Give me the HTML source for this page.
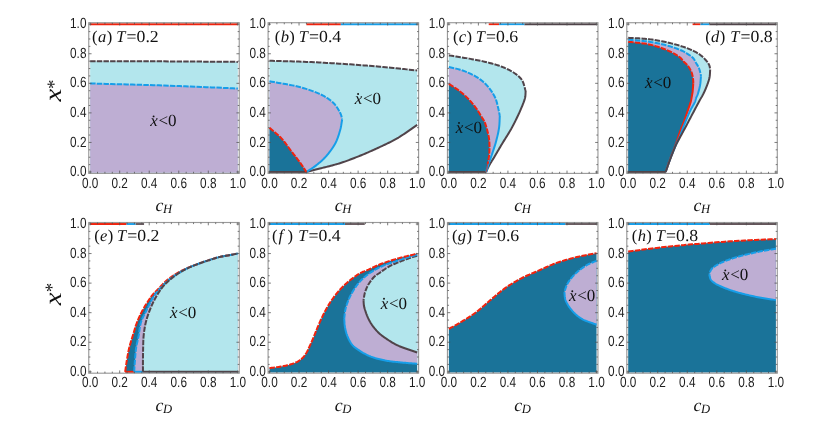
<!DOCTYPE html>
<html><head><meta charset="utf-8"><title>figure</title>
<style>
html,body{margin:0;padding:0;background:#fff;}
svg{display:block;}
g.tx{opacity:0.999;}
.tk{font-family:"Liberation Sans",sans-serif;font-size:14.7px;fill:#1e1e1e;}
.se{font-family:"Liberation Serif",serif;fill:#111;}
text{text-rendering:geometricPrecision;}
.it{font-style:italic;}
</style></head><body>
<svg width="830" height="431" viewBox="0 0 830 431">
<rect x="0" y="0" width="830" height="431" fill="#ffffff"/>
<g>
<path d="M90.15 61.22 L95.43 61.23 L100.70 61.24 L105.98 61.25 L111.25 61.26 L116.53 61.26 L121.80 61.27 L127.08 61.27 L132.35 61.28 L137.63 61.29 L142.90 61.30 L148.18 61.32 L153.45 61.33 L158.73 61.35 L164.00 61.37 L169.28 61.40 L174.55 61.43 L179.83 61.46 L185.10 61.49 L190.38 61.53 L195.65 61.57 L200.93 61.61 L206.20 61.65 L211.48 61.69 L216.75 61.73 L222.03 61.77 L227.30 61.81 L232.58 61.85 L237.85 61.89 L237.85 172.80 L90.15 172.80 Z" fill="#b3e6ed" stroke="none"/>
<path d="M90.15 83.47 L95.43 83.61 L100.70 83.76 L105.98 83.90 L111.25 84.03 L116.53 84.17 L121.80 84.31 L127.08 84.45 L132.35 84.59 L137.63 84.73 L142.90 84.88 L148.18 85.03 L153.45 85.19 L158.73 85.36 L164.00 85.54 L169.28 85.72 L174.55 85.91 L179.83 86.11 L185.10 86.32 L190.38 86.53 L195.65 86.74 L200.93 86.96 L206.20 87.18 L211.48 87.40 L216.75 87.62 L222.03 87.84 L227.30 88.06 L232.58 88.28 L237.85 88.49 L237.85 172.80 L90.15 172.80 Z" fill="#beaed3" stroke="none"/>
<path d="M90.15 61.22 L95.43 61.23 L100.70 61.24 L105.98 61.25 L111.25 61.26 L116.53 61.26 L121.80 61.27 L127.08 61.27 L132.35 61.28 L137.63 61.29 L142.90 61.30 L148.18 61.32 L153.45 61.33 L158.73 61.35 L164.00 61.37 L169.28 61.40 L174.55 61.43 L179.83 61.46 L185.10 61.49 L190.38 61.53 L195.65 61.57 L200.93 61.61 L206.20 61.65 L211.48 61.69 L216.75 61.73 L222.03 61.77 L227.30 61.81 L232.58 61.85 L237.85 61.89" fill="none" stroke="#50444a" stroke-width="2.00" stroke-dasharray="5.45 1.2" stroke-linejoin="round"/>
<path d="M90.15 83.47 L95.43 83.61 L100.70 83.76 L105.98 83.90 L111.25 84.03 L116.53 84.17 L121.80 84.31 L127.08 84.45 L132.35 84.59 L137.63 84.73 L142.90 84.88 L148.18 85.03 L153.45 85.19 L158.73 85.36 L164.00 85.54 L169.28 85.72 L174.55 85.91 L179.83 86.11 L185.10 86.32 L190.38 86.53 L195.65 86.74 L200.93 86.96 L206.20 87.18 L211.48 87.40 L216.75 87.62 L222.03 87.84 L227.30 88.06 L232.58 88.28 L237.85 88.49" fill="none" stroke="#169ee9" stroke-width="2.00" stroke-dasharray="5.45 1.2" stroke-linejoin="round"/>
<path d="M90.15 24.20 L237.85 24.20" fill="none" stroke="#f1230d" stroke-width="1.90" stroke-linejoin="round"/>
<rect x="88.75" y="22.70" width="150.50" height="150.70" fill="none" stroke="#9a9a9a" stroke-width="1.15"/>
<path d="M90.15 173.40 v-2.80 M90.15 22.70 v2.80 M88.75 172.00 h2.80 M239.25 172.00 h-2.80 M97.54 173.40 v-1.60 M97.54 22.70 v1.60 M88.75 164.61 h1.60 M239.25 164.61 h-1.60 M104.92 173.40 v-1.60 M104.92 22.70 v1.60 M88.75 157.22 h1.60 M239.25 157.22 h-1.60 M112.31 173.40 v-1.60 M112.31 22.70 v1.60 M88.75 149.83 h1.60 M239.25 149.83 h-1.60 M119.69 173.40 v-2.80 M119.69 22.70 v2.80 M88.75 142.44 h2.80 M239.25 142.44 h-2.80 M127.08 173.40 v-1.60 M127.08 22.70 v1.60 M88.75 135.05 h1.60 M239.25 135.05 h-1.60 M134.46 173.40 v-1.60 M134.46 22.70 v1.60 M88.75 127.66 h1.60 M239.25 127.66 h-1.60 M141.84 173.40 v-1.60 M141.84 22.70 v1.60 M88.75 120.27 h1.60 M239.25 120.27 h-1.60 M149.23 173.40 v-2.80 M149.23 22.70 v2.80 M88.75 112.88 h2.80 M239.25 112.88 h-2.80 M156.62 173.40 v-1.60 M156.62 22.70 v1.60 M88.75 105.49 h1.60 M239.25 105.49 h-1.60 M164.00 173.40 v-1.60 M164.00 22.70 v1.60 M88.75 98.10 h1.60 M239.25 98.10 h-1.60 M171.38 173.40 v-1.60 M171.38 22.70 v1.60 M88.75 90.71 h1.60 M239.25 90.71 h-1.60 M178.77 173.40 v-2.80 M178.77 22.70 v2.80 M88.75 83.32 h2.80 M239.25 83.32 h-2.80 M186.16 173.40 v-1.60 M186.16 22.70 v1.60 M88.75 75.93 h1.60 M239.25 75.93 h-1.60 M193.54 173.40 v-1.60 M193.54 22.70 v1.60 M88.75 68.54 h1.60 M239.25 68.54 h-1.60 M200.93 173.40 v-1.60 M200.93 22.70 v1.60 M88.75 61.15 h1.60 M239.25 61.15 h-1.60 M208.31 173.40 v-2.80 M208.31 22.70 v2.80 M88.75 53.76 h2.80 M239.25 53.76 h-2.80 M215.69 173.40 v-1.60 M215.69 22.70 v1.60 M88.75 46.37 h1.60 M239.25 46.37 h-1.60 M223.08 173.40 v-1.60 M223.08 22.70 v1.60 M88.75 38.98 h1.60 M239.25 38.98 h-1.60 M230.46 173.40 v-1.60 M230.46 22.70 v1.60 M88.75 31.59 h1.60 M239.25 31.59 h-1.60 M237.85 173.40 v-2.80 M237.85 22.70 v2.80 M88.75 24.20 h2.80 M239.25 24.20 h-2.80" stroke="#505050" stroke-width="0.75" fill="none"/>
</g>
<g>
<path d="M269.50 60.78 L272.14 60.86 L274.78 60.93 L277.43 61.00 L280.07 61.07 L282.72 61.14 L285.37 61.21 L288.01 61.28 L290.65 61.35 L293.29 61.43 L295.93 61.51 L298.56 61.59 L301.19 61.69 L303.81 61.78 L306.43 61.89 L308.98 62.00 L311.52 62.11 L314.04 62.23 L316.57 62.35 L319.08 62.48 L321.60 62.61 L324.11 62.74 L326.62 62.88 L329.14 63.02 L331.67 63.17 L334.20 63.32 L336.74 63.48 L339.30 63.64 L341.87 63.81 L344.57 63.99 L347.29 64.17 L350.02 64.36 L352.76 64.56 L355.51 64.76 L358.27 64.97 L361.03 65.18 L363.79 65.39 L366.56 65.61 L369.32 65.83 L372.07 66.06 L374.82 66.29 L377.55 66.53 L380.27 66.77 L382.94 67.01 L385.59 67.25 L388.24 67.51 L390.88 67.76 L393.52 68.03 L396.15 68.29 L398.79 68.56 L401.42 68.84 L404.04 69.11 L406.67 69.38 L409.30 69.66 L411.93 69.93 L414.56 70.20 L417.20 70.46 L417.20 124.85 L415.77 125.83 L414.33 126.81 L412.90 127.81 L411.47 128.82 L410.04 129.82 L408.61 130.83 L407.18 131.83 L405.75 132.82 L404.32 133.80 L402.88 134.76 L401.44 135.71 L400.00 136.62 L398.56 137.52 L397.11 138.38 L395.74 139.16 L394.37 139.92 L392.99 140.66 L391.62 141.38 L390.24 142.08 L388.85 142.77 L387.47 143.44 L386.09 144.11 L384.70 144.76 L383.31 145.41 L381.93 146.05 L380.54 146.70 L379.15 147.34 L377.76 147.98 L376.40 148.62 L375.03 149.24 L373.67 149.87 L372.30 150.48 L370.93 151.10 L369.56 151.70 L368.19 152.30 L366.82 152.90 L365.45 153.48 L364.08 154.07 L362.70 154.64 L361.32 155.21 L359.94 155.78 L358.56 156.33 L357.19 156.88 L355.82 157.43 L354.44 157.97 L353.07 158.50 L351.69 159.03 L350.31 159.56 L348.93 160.08 L347.54 160.58 L346.16 161.09 L344.77 161.58 L343.39 162.06 L342.00 162.53 L340.61 162.98 L339.21 163.43 L337.83 163.85 L336.43 164.26 L335.02 164.66 L333.60 165.05 L332.18 165.43 L330.76 165.80 L329.34 166.16 L327.93 166.51 L326.53 166.86 L325.15 167.20 L323.79 167.53 L322.45 167.87 L321.14 168.20 L319.87 168.53 L318.83 168.80 L317.82 169.06 L316.82 169.32 L315.85 169.57 L314.89 169.82 L313.94 170.06 L312.99 170.31 L312.06 170.55 L311.13 170.79 L310.19 171.03 L309.26 171.27 L308.32 171.51 L307.38 171.75 L306.43 172.80 L269.50 172.80 Z" fill="#b3e6ed" stroke="none"/>
<path d="M269.50 81.25 L271.74 81.68 L274.02 82.09 L276.32 82.50 L278.63 82.90 L280.95 83.31 L283.27 83.71 L285.57 84.11 L287.86 84.53 L290.11 84.95 L292.33 85.39 L294.51 85.84 L296.63 86.31 L298.68 86.80 L300.66 87.31 L302.22 87.74 L303.78 88.19 L305.31 88.66 L306.83 89.14 L308.33 89.62 L309.80 90.12 L311.23 90.62 L312.63 91.13 L313.99 91.63 L315.30 92.14 L316.57 92.64 L317.78 93.14 L318.93 93.63 L320.01 94.11 L320.69 94.42 L321.33 94.72 L321.95 95.02 L322.54 95.32 L323.11 95.62 L323.66 95.92 L324.19 96.21 L324.71 96.51 L325.22 96.81 L325.72 97.12 L326.21 97.43 L326.71 97.74 L327.20 98.07 L327.69 98.40 L328.15 98.70 L328.60 99.02 L329.05 99.34 L329.49 99.66 L329.93 99.99 L330.37 100.32 L330.79 100.65 L331.21 100.99 L331.61 101.32 L332.01 101.66 L332.39 101.99 L332.76 102.32 L333.12 102.65 L333.45 102.98 L333.71 103.23 L333.95 103.47 L334.18 103.71 L334.40 103.95 L334.61 104.18 L334.81 104.41 L335.01 104.65 L335.20 104.89 L335.40 105.13 L335.59 105.39 L335.79 105.65 L335.99 105.93 L336.19 106.22 L336.41 106.52 L336.72 106.98 L337.05 107.48 L337.39 108.00 L337.74 108.55 L338.09 109.13 L338.44 109.71 L338.79 110.31 L339.14 110.91 L339.47 111.52 L339.79 112.11 L340.09 112.70 L340.36 113.28 L340.62 113.83 L340.84 114.36 L340.99 114.75 L341.12 115.14 L341.24 115.52 L341.35 115.89 L341.45 116.26 L341.54 116.63 L341.62 116.99 L341.69 117.35 L341.77 117.71 L341.84 118.07 L341.92 118.44 L341.99 118.80 L342.08 119.16 L342.17 119.53 L342.17 119.53 L342.04 120.26 L341.91 120.98 L341.79 121.70 L341.68 122.41 L341.57 123.13 L341.45 123.84 L341.34 124.56 L341.21 125.28 L341.09 126.00 L340.95 126.73 L340.80 127.47 L340.63 128.21 L340.45 128.97 L340.25 129.73 L340.00 130.64 L339.73 131.57 L339.46 132.52 L339.18 133.48 L338.88 134.45 L338.56 135.43 L338.23 136.41 L337.89 137.39 L337.52 138.38 L337.13 139.36 L336.73 140.33 L336.30 141.29 L335.85 142.24 L335.37 143.18 L334.83 144.18 L334.25 145.19 L333.64 146.20 L333.00 147.21 L332.33 148.22 L331.64 149.22 L330.94 150.21 L330.22 151.19 L329.48 152.15 L328.74 153.10 L328.00 154.02 L327.25 154.92 L326.51 155.79 L325.77 156.63 L325.12 157.35 L324.46 158.05 L323.80 158.73 L323.12 159.39 L322.45 160.04 L321.76 160.67 L321.08 161.29 L320.39 161.89 L319.69 162.49 L318.99 163.08 L318.29 163.65 L317.59 164.22 L316.88 164.79 L316.17 165.35 L315.49 165.87 L314.81 166.38 L314.12 166.88 L313.43 167.37 L312.73 167.84 L312.04 168.31 L311.34 168.78 L310.63 169.24 L309.93 169.69 L309.23 170.15 L308.52 170.60 L307.82 171.06 L307.12 171.53 L306.43 172.80 L269.50 172.80 Z" fill="#beaed3" stroke="none"/>
<path d="M269.50 127.66 L270.36 128.42 L271.23 129.17 L272.10 129.92 L272.98 130.67 L273.87 131.41 L274.75 132.15 L275.62 132.90 L276.50 133.65 L277.36 134.41 L278.21 135.18 L279.05 135.95 L279.87 136.74 L280.68 137.55 L281.46 138.38 L282.22 139.21 L282.95 140.06 L283.67 140.93 L284.37 141.81 L285.06 142.70 L285.74 143.59 L286.40 144.50 L287.07 145.41 L287.73 146.32 L288.39 147.24 L289.05 148.15 L289.71 149.06 L290.38 149.97 L291.06 150.86 L291.76 151.77 L292.46 152.68 L293.17 153.59 L293.89 154.51 L294.61 155.44 L295.32 156.36 L296.04 157.28 L296.74 158.19 L297.44 159.10 L298.12 159.99 L298.79 160.88 L299.44 161.75 L300.06 162.60 L300.66 163.43 L301.13 164.08 L301.58 164.73 L302.02 165.36 L302.44 165.98 L302.85 166.59 L303.26 167.20 L303.66 167.80 L304.05 168.40 L304.44 169.00 L304.83 169.59 L305.22 170.19 L305.62 170.79 L306.02 171.39 L306.43 172.80 L269.50 172.80 Z" fill="#1a7399" stroke="none"/>
<path d="M269.50 60.78 L272.14 60.86 L274.78 60.93 L277.43 61.00 L280.07 61.07 L282.72 61.14 L285.37 61.21 L288.01 61.28 L290.65 61.35 L293.29 61.43 L295.93 61.51 L298.56 61.59 L301.19 61.69 L303.81 61.78 L306.43 61.89 L308.98 62.00 L311.52 62.11 L314.04 62.23 L316.57 62.35 L319.08 62.48 L321.60 62.61 L324.11 62.74 L326.62 62.88 L329.14 63.02 L331.67 63.17 L334.20 63.32 L336.74 63.48 L339.30 63.64 L341.87 63.81 L344.57 63.99 L347.29 64.17 L350.02 64.36 L352.76 64.56 L355.51 64.76 L358.27 64.97 L361.03 65.18 L363.79 65.39 L366.56 65.61 L369.32 65.83 L372.07 66.06 L374.82 66.29 L377.55 66.53 L380.27 66.77 L382.94 67.01 L385.59 67.25 L388.24 67.51 L390.88 67.76 L393.52 68.03 L396.15 68.29 L398.79 68.56 L401.42 68.84 L404.04 69.11 L406.67 69.38 L409.30 69.66 L411.93 69.93 L414.56 70.20 L417.20 70.46" fill="none" stroke="#50444a" stroke-width="2.00" stroke-dasharray="5.45 1.2" stroke-linejoin="round"/>
<path d="M306.43 172.00 L307.38 171.75 L308.32 171.51 L309.26 171.27 L310.19 171.03 L311.13 170.79 L312.06 170.55 L312.99 170.31 L313.94 170.06 L314.89 169.82 L315.85 169.57 L316.82 169.32 L317.82 169.06 L318.83 168.80 L319.87 168.53 L321.14 168.20 L322.45 167.87 L323.79 167.53 L325.15 167.20 L326.53 166.86 L327.93 166.51 L329.34 166.16 L330.76 165.80 L332.18 165.43 L333.60 165.05 L335.02 164.66 L336.43 164.26 L337.83 163.85 L339.21 163.43 L340.61 162.98 L342.00 162.53 L343.39 162.06 L344.77 161.58 L346.16 161.09 L347.54 160.58 L348.93 160.08 L350.31 159.56 L351.69 159.03 L353.07 158.50 L354.44 157.97 L355.82 157.43 L357.19 156.88 L358.56 156.33 L359.94 155.78 L361.32 155.21 L362.70 154.64 L364.08 154.07 L365.45 153.48 L366.82 152.90 L368.19 152.30 L369.56 151.70 L370.93 151.10 L372.30 150.48 L373.67 149.87 L375.03 149.24 L376.40 148.62 L377.76 147.98 L379.15 147.34 L380.54 146.70 L381.93 146.05 L383.31 145.41 L384.70 144.76 L386.09 144.11 L387.47 143.44 L388.85 142.77 L390.24 142.08 L391.62 141.38 L392.99 140.66 L394.37 139.92 L395.74 139.16 L397.11 138.38 L398.56 137.52 L400.00 136.62 L401.44 135.71 L402.88 134.76 L404.32 133.80 L405.75 132.82 L407.18 131.83 L408.61 130.83 L410.04 129.82 L411.47 128.82 L412.90 127.81 L414.33 126.81 L415.77 125.83 L417.20 124.85" fill="none" stroke="#50444a" stroke-width="2.00" stroke-linejoin="round"/>
<path d="M269.50 172.00 L306.43 172.00" fill="none" stroke="#50444a" stroke-width="2.00" stroke-linejoin="round"/>
<path d="M269.50 81.25 L271.74 81.68 L274.02 82.09 L276.32 82.50 L278.63 82.90 L280.95 83.31 L283.27 83.71 L285.57 84.11 L287.86 84.53 L290.11 84.95 L292.33 85.39 L294.51 85.84 L296.63 86.31 L298.68 86.80 L300.66 87.31 L302.22 87.74 L303.78 88.19 L305.31 88.66 L306.83 89.14 L308.33 89.62 L309.80 90.12 L311.23 90.62 L312.63 91.13 L313.99 91.63 L315.30 92.14 L316.57 92.64 L317.78 93.14 L318.93 93.63 L320.01 94.11 L320.69 94.42 L321.33 94.72 L321.95 95.02 L322.54 95.32 L323.11 95.62 L323.66 95.92 L324.19 96.21 L324.71 96.51 L325.22 96.81 L325.72 97.12 L326.21 97.43 L326.71 97.74 L327.20 98.07 L327.69 98.40 L328.15 98.70 L328.60 99.02 L329.05 99.34 L329.49 99.66 L329.93 99.99 L330.37 100.32 L330.79 100.65 L331.21 100.99 L331.61 101.32 L332.01 101.66 L332.39 101.99 L332.76 102.32 L333.12 102.65 L333.45 102.98 L333.71 103.23 L333.95 103.47 L334.18 103.71 L334.40 103.95 L334.61 104.18 L334.81 104.41 L335.01 104.65 L335.20 104.89 L335.40 105.13 L335.59 105.39 L335.79 105.65 L335.99 105.93 L336.19 106.22 L336.41 106.52 L336.72 106.98 L337.05 107.48 L337.39 108.00 L337.74 108.55 L338.09 109.13 L338.44 109.71 L338.79 110.31 L339.14 110.91 L339.47 111.52 L339.79 112.11 L340.09 112.70 L340.36 113.28 L340.62 113.83 L340.84 114.36 L340.99 114.75 L341.12 115.14 L341.24 115.52 L341.35 115.89 L341.45 116.26 L341.54 116.63 L341.62 116.99 L341.69 117.35 L341.77 117.71 L341.84 118.07 L341.92 118.44 L341.99 118.80 L342.08 119.16 L342.17 119.53" fill="none" stroke="#169ee9" stroke-width="2.00" stroke-dasharray="5.45 1.2" stroke-linejoin="round"/>
<path d="M342.17 119.53 L342.04 120.26 L341.91 120.98 L341.79 121.70 L341.68 122.41 L341.57 123.13 L341.45 123.84 L341.34 124.56 L341.21 125.28 L341.09 126.00 L340.95 126.73 L340.80 127.47 L340.63 128.21 L340.45 128.97 L340.25 129.73 L340.00 130.64 L339.73 131.57 L339.46 132.52 L339.18 133.48 L338.88 134.45 L338.56 135.43 L338.23 136.41 L337.89 137.39 L337.52 138.38 L337.13 139.36 L336.73 140.33 L336.30 141.29 L335.85 142.24 L335.37 143.18 L334.83 144.18 L334.25 145.19 L333.64 146.20 L333.00 147.21 L332.33 148.22 L331.64 149.22 L330.94 150.21 L330.22 151.19 L329.48 152.15 L328.74 153.10 L328.00 154.02 L327.25 154.92 L326.51 155.79 L325.77 156.63 L325.12 157.35 L324.46 158.05 L323.80 158.73 L323.12 159.39 L322.45 160.04 L321.76 160.67 L321.08 161.29 L320.39 161.89 L319.69 162.49 L318.99 163.08 L318.29 163.65 L317.59 164.22 L316.88 164.79 L316.17 165.35 L315.49 165.87 L314.81 166.38 L314.12 166.88 L313.43 167.37 L312.73 167.84 L312.04 168.31 L311.34 168.78 L310.63 169.24 L309.93 169.69 L309.23 170.15 L308.52 170.60 L307.82 171.06 L307.12 171.53 L306.43 172.00" fill="none" stroke="#169ee9" stroke-width="2.00" stroke-linejoin="round"/>
<path d="M269.50 127.66 L270.36 128.42 L271.23 129.17 L272.10 129.92 L272.98 130.67 L273.87 131.41 L274.75 132.15 L275.62 132.90 L276.50 133.65 L277.36 134.41 L278.21 135.18 L279.05 135.95 L279.87 136.74 L280.68 137.55 L281.46 138.38 L282.22 139.21 L282.95 140.06 L283.67 140.93 L284.37 141.81 L285.06 142.70 L285.74 143.59 L286.40 144.50 L287.07 145.41 L287.73 146.32 L288.39 147.24 L289.05 148.15 L289.71 149.06 L290.38 149.97 L291.06 150.86 L291.76 151.77 L292.46 152.68 L293.17 153.59 L293.89 154.51 L294.61 155.44 L295.32 156.36 L296.04 157.28 L296.74 158.19 L297.44 159.10 L298.12 159.99 L298.79 160.88 L299.44 161.75 L300.06 162.60 L300.66 163.43 L301.13 164.08 L301.58 164.73 L302.02 165.36 L302.44 165.98 L302.85 166.59 L303.26 167.20 L303.66 167.80 L304.05 168.40 L304.44 169.00 L304.83 169.59 L305.22 170.19 L305.62 170.79 L306.02 171.39 L306.43 172.00" fill="none" stroke="#f1230d" stroke-width="2.00" stroke-dasharray="5.45 1.2" stroke-linejoin="round"/>
<path d="M306.43 24.20 L340.84 24.20" fill="none" stroke="#f1230d" stroke-width="1.90" stroke-linejoin="round"/>
<path d="M340.84 24.20 L417.20 24.20" fill="none" stroke="#169ee9" stroke-width="1.90" stroke-linejoin="round"/>
<rect x="268.10" y="22.70" width="150.50" height="150.70" fill="none" stroke="#9a9a9a" stroke-width="1.15"/>
<path d="M269.50 173.40 v-2.80 M269.50 22.70 v2.80 M268.10 172.00 h2.80 M418.60 172.00 h-2.80 M276.88 173.40 v-1.60 M276.88 22.70 v1.60 M268.10 164.61 h1.60 M418.60 164.61 h-1.60 M284.27 173.40 v-1.60 M284.27 22.70 v1.60 M268.10 157.22 h1.60 M418.60 157.22 h-1.60 M291.65 173.40 v-1.60 M291.65 22.70 v1.60 M268.10 149.83 h1.60 M418.60 149.83 h-1.60 M299.04 173.40 v-2.80 M299.04 22.70 v2.80 M268.10 142.44 h2.80 M418.60 142.44 h-2.80 M306.43 173.40 v-1.60 M306.43 22.70 v1.60 M268.10 135.05 h1.60 M418.60 135.05 h-1.60 M313.81 173.40 v-1.60 M313.81 22.70 v1.60 M268.10 127.66 h1.60 M418.60 127.66 h-1.60 M321.19 173.40 v-1.60 M321.19 22.70 v1.60 M268.10 120.27 h1.60 M418.60 120.27 h-1.60 M328.58 173.40 v-2.80 M328.58 22.70 v2.80 M268.10 112.88 h2.80 M418.60 112.88 h-2.80 M335.97 173.40 v-1.60 M335.97 22.70 v1.60 M268.10 105.49 h1.60 M418.60 105.49 h-1.60 M343.35 173.40 v-1.60 M343.35 22.70 v1.60 M268.10 98.10 h1.60 M418.60 98.10 h-1.60 M350.74 173.40 v-1.60 M350.74 22.70 v1.60 M268.10 90.71 h1.60 M418.60 90.71 h-1.60 M358.12 173.40 v-2.80 M358.12 22.70 v2.80 M268.10 83.32 h2.80 M418.60 83.32 h-2.80 M365.50 173.40 v-1.60 M365.50 22.70 v1.60 M268.10 75.93 h1.60 M418.60 75.93 h-1.60 M372.89 173.40 v-1.60 M372.89 22.70 v1.60 M268.10 68.54 h1.60 M418.60 68.54 h-1.60 M380.27 173.40 v-1.60 M380.27 22.70 v1.60 M268.10 61.15 h1.60 M418.60 61.15 h-1.60 M387.66 173.40 v-2.80 M387.66 22.70 v2.80 M268.10 53.76 h2.80 M418.60 53.76 h-2.80 M395.04 173.40 v-1.60 M395.04 22.70 v1.60 M268.10 46.37 h1.60 M418.60 46.37 h-1.60 M402.43 173.40 v-1.60 M402.43 22.70 v1.60 M268.10 38.98 h1.60 M418.60 38.98 h-1.60 M409.81 173.40 v-1.60 M409.81 22.70 v1.60 M268.10 31.59 h1.60 M418.60 31.59 h-1.60 M417.20 173.40 v-2.80 M417.20 22.70 v2.80 M268.10 24.20 h2.80 M418.60 24.20 h-2.80" stroke="#505050" stroke-width="0.75" fill="none"/>
</g>
<g>
<path d="M448.85 55.39 L450.30 55.62 L451.75 55.84 L453.20 56.07 L454.65 56.29 L456.10 56.51 L457.55 56.74 L459.00 56.96 L460.45 57.19 L461.90 57.42 L463.34 57.65 L464.78 57.89 L466.22 58.13 L467.66 58.38 L469.08 58.64 L470.49 58.89 L471.90 59.15 L473.31 59.41 L474.72 59.68 L476.13 59.94 L477.54 60.21 L478.95 60.49 L480.34 60.77 L481.73 61.06 L483.10 61.36 L484.46 61.66 L485.80 61.97 L487.13 62.30 L488.43 62.63 L489.60 62.93 L490.76 63.24 L491.91 63.56 L493.05 63.87 L494.18 64.19 L495.30 64.52 L496.41 64.86 L497.51 65.20 L498.59 65.56 L499.66 65.92 L500.72 66.30 L501.76 66.69 L502.79 67.09 L503.79 67.51 L504.69 67.89 L505.59 68.29 L506.48 68.69 L507.36 69.10 L508.23 69.52 L509.09 69.96 L509.93 70.39 L510.76 70.84 L511.57 71.30 L512.37 71.76 L513.14 72.24 L513.89 72.72 L514.62 73.21 L515.32 73.71 L515.89 74.14 L516.46 74.57 L517.02 75.00 L517.56 75.43 L518.09 75.87 L518.60 76.32 L519.10 76.77 L519.58 77.24 L520.05 77.71 L520.50 78.21 L520.93 78.72 L521.34 79.24 L521.73 79.79 L522.11 80.36 L522.49 81.01 L522.83 81.70 L523.13 82.41 L523.41 83.15 L523.67 83.90 L523.91 84.68 L524.13 85.46 L524.34 86.26 L524.55 87.06 L524.76 87.86 L524.97 88.66 L525.18 89.45 L525.41 90.24 L525.65 91.01 L525.65 91.01 L525.62 91.49 L525.59 91.97 L525.57 92.44 L525.55 92.91 L525.53 93.38 L525.51 93.85 L525.49 94.33 L525.47 94.80 L525.43 95.28 L525.39 95.77 L525.33 96.26 L525.26 96.77 L525.17 97.28 L525.06 97.80 L524.90 98.50 L524.70 99.20 L524.49 99.93 L524.25 100.66 L523.99 101.40 L523.71 102.16 L523.42 102.93 L523.11 103.70 L522.80 104.48 L522.48 105.27 L522.15 106.06 L521.82 106.85 L521.48 107.65 L521.15 108.45 L520.76 109.38 L520.35 110.33 L519.92 111.30 L519.48 112.29 L519.03 113.29 L518.57 114.29 L518.10 115.30 L517.63 116.30 L517.16 117.29 L516.69 118.27 L516.22 119.24 L515.76 120.18 L515.31 121.09 L514.87 121.97 L514.52 122.67 L514.17 123.35 L513.83 124.01 L513.50 124.65 L513.17 125.28 L512.84 125.90 L512.51 126.52 L512.18 127.13 L511.84 127.75 L511.49 128.37 L511.14 129.01 L510.77 129.65 L510.39 130.32 L510.00 131.00 L509.50 131.86 L508.97 132.73 L508.43 133.63 L507.87 134.54 L507.30 135.46 L506.72 136.39 L506.13 137.33 L505.53 138.27 L504.94 139.22 L504.34 140.16 L503.75 141.11 L503.16 142.05 L502.59 142.99 L502.02 143.92 L501.47 144.84 L500.92 145.76 L500.37 146.69 L499.82 147.62 L499.27 148.56 L498.72 149.49 L498.17 150.43 L497.63 151.35 L497.09 152.27 L496.56 153.19 L496.03 154.09 L495.51 154.97 L495.00 155.85 L494.49 156.70 L494.05 157.44 L493.61 158.17 L493.16 158.89 L492.71 159.61 L492.27 160.32 L491.83 161.03 L491.40 161.73 L490.98 162.42 L490.56 163.09 L490.16 163.76 L489.78 164.41 L489.41 165.05 L489.06 165.68 L488.73 166.29 L488.50 166.74 L488.28 167.18 L488.08 167.60 L487.88 168.02 L487.70 168.43 L487.52 168.83 L487.34 169.23 L487.17 169.62 L487.01 170.01 L486.84 170.41 L486.67 170.80 L486.50 171.20 L486.33 171.60 L486.14 172.80 L448.85 172.80 Z" fill="#b3e6ed" stroke="none"/>
<path d="M448.85 66.91 L449.88 67.18 L450.92 67.44 L451.95 67.68 L452.99 67.92 L454.02 68.16 L455.06 68.39 L456.09 68.64 L457.12 68.89 L458.16 69.15 L459.19 69.43 L460.23 69.72 L461.26 70.04 L462.29 70.38 L463.32 70.76 L464.45 71.19 L465.58 71.64 L466.74 72.11 L467.90 72.61 L469.06 73.13 L470.22 73.66 L471.38 74.21 L472.52 74.78 L473.65 75.36 L474.75 75.95 L475.82 76.56 L476.87 77.18 L477.87 77.81 L478.83 78.44 L479.63 79.00 L480.41 79.57 L481.17 80.15 L481.91 80.73 L482.64 81.33 L483.34 81.94 L484.03 82.55 L484.70 83.18 L485.35 83.82 L485.99 84.46 L486.62 85.12 L487.24 85.79 L487.84 86.47 L488.43 87.16 L489.01 87.86 L489.58 88.58 L490.13 89.31 L490.68 90.05 L491.21 90.81 L491.73 91.57 L492.24 92.35 L492.73 93.13 L493.19 93.91 L493.64 94.69 L494.07 95.48 L494.48 96.26 L494.87 97.03 L495.23 97.80 L495.52 98.49 L495.80 99.18 L496.05 99.86 L496.28 100.56 L496.49 101.25 L496.69 101.94 L496.88 102.63 L497.06 103.33 L497.23 104.02 L497.39 104.70 L497.55 105.39 L497.71 106.07 L497.87 106.74 L498.03 107.41 L498.19 108.03 L498.33 108.64 L498.47 109.25 L498.60 109.85 L498.73 110.45 L498.85 111.05 L498.97 111.65 L499.09 112.25 L499.21 112.85 L499.32 113.44 L499.44 114.04 L499.56 114.64 L499.68 115.24 L499.81 115.84 L499.81 115.84 L499.76 116.68 L499.72 117.52 L499.68 118.36 L499.65 119.19 L499.62 120.03 L499.59 120.87 L499.56 121.70 L499.52 122.54 L499.47 123.39 L499.42 124.23 L499.35 125.08 L499.27 125.93 L499.18 126.79 L499.07 127.66 L498.93 128.61 L498.77 129.56 L498.61 130.52 L498.43 131.49 L498.23 132.47 L498.03 133.44 L497.81 134.42 L497.59 135.40 L497.36 136.39 L497.12 137.37 L496.87 138.35 L496.62 139.32 L496.37 140.29 L496.11 141.26 L495.85 142.23 L495.57 143.21 L495.28 144.20 L494.98 145.18 L494.67 146.17 L494.35 147.16 L494.03 148.14 L493.71 149.12 L493.39 150.08 L493.07 151.04 L492.75 151.98 L492.44 152.91 L492.13 153.82 L491.83 154.71 L491.58 155.45 L491.33 156.18 L491.07 156.90 L490.82 157.62 L490.57 158.32 L490.31 159.02 L490.06 159.70 L489.82 160.38 L489.57 161.06 L489.34 161.73 L489.10 162.39 L488.87 163.05 L488.65 163.71 L488.43 164.36 L488.25 164.93 L488.07 165.49 L487.90 166.05 L487.73 166.60 L487.57 167.15 L487.41 167.69 L487.25 168.23 L487.09 168.77 L486.93 169.30 L486.78 169.84 L486.62 170.38 L486.47 170.92 L486.31 171.46 L486.14 172.80 L448.85 172.80 Z" fill="#beaed3" stroke="none"/>
<path d="M448.85 83.91 L449.61 84.41 L450.38 84.91 L451.15 85.40 L451.92 85.89 L452.69 86.38 L453.47 86.87 L454.24 87.36 L455.00 87.86 L455.77 88.36 L456.53 88.87 L457.28 89.38 L458.02 89.91 L458.76 90.45 L459.48 91.01 L460.21 91.58 L460.93 92.16 L461.64 92.75 L462.36 93.35 L463.06 93.96 L463.76 94.57 L464.45 95.20 L465.14 95.83 L465.82 96.46 L466.49 97.11 L467.15 97.75 L467.81 98.41 L468.45 99.06 L469.08 99.73 L469.70 100.38 L470.31 101.05 L470.91 101.73 L471.51 102.41 L472.10 103.10 L472.68 103.80 L473.25 104.50 L473.81 105.20 L474.36 105.91 L474.90 106.60 L475.43 107.30 L475.94 107.98 L476.43 108.66 L476.91 109.33 L477.31 109.90 L477.69 110.47 L478.07 111.04 L478.43 111.61 L478.78 112.18 L479.12 112.75 L479.46 113.31 L479.79 113.87 L480.11 114.42 L480.42 114.96 L480.73 115.49 L481.04 116.01 L481.34 116.52 L481.64 117.02 L481.87 117.40 L482.10 117.76 L482.33 118.10 L482.55 118.44 L482.77 118.76 L482.98 119.08 L483.19 119.40 L483.40 119.73 L483.60 120.06 L483.80 120.40 L484.00 120.76 L484.20 121.14 L484.40 121.54 L484.59 121.97 L484.88 122.64 L485.16 123.38 L485.44 124.16 L485.72 124.98 L485.99 125.84 L486.26 126.71 L486.53 127.61 L486.78 128.51 L487.03 129.41 L487.26 130.30 L487.48 131.17 L487.69 132.01 L487.89 132.81 L488.06 133.57 L488.19 134.13 L488.31 134.67 L488.42 135.19 L488.53 135.69 L488.62 136.19 L488.71 136.68 L488.80 137.17 L488.88 137.65 L488.95 138.14 L489.02 138.63 L489.08 139.14 L489.14 139.65 L489.19 140.19 L489.25 140.74 L489.30 141.43 L489.35 142.16 L489.39 142.90 L489.42 143.66 L489.45 144.44 L489.47 145.22 L489.48 146.01 L489.48 146.80 L489.48 147.59 L489.47 148.37 L489.46 149.13 L489.44 149.88 L489.42 150.61 L489.39 151.31 L489.37 151.88 L489.33 152.44 L489.30 153.00 L489.25 153.55 L489.21 154.10 L489.16 154.63 L489.10 155.16 L489.05 155.69 L488.99 156.20 L488.93 156.71 L488.86 157.22 L488.79 157.72 L488.73 158.21 L488.66 158.70 L488.59 159.11 L488.53 159.52 L488.46 159.91 L488.39 160.30 L488.31 160.69 L488.24 161.07 L488.16 161.45 L488.08 161.83 L488.01 162.20 L487.93 162.58 L487.85 162.95 L487.77 163.33 L487.70 163.71 L487.62 164.09 L487.62 164.09 L487.57 164.36 L487.53 164.63 L487.48 164.90 L487.43 165.16 L487.39 165.43 L487.34 165.70 L487.30 165.97 L487.25 166.23 L487.20 166.50 L487.15 166.77 L487.11 167.04 L487.06 167.31 L487.01 167.59 L486.96 167.86 L486.90 168.15 L486.85 168.44 L486.79 168.74 L486.73 169.03 L486.68 169.33 L486.62 169.62 L486.56 169.92 L486.50 170.22 L486.44 170.51 L486.38 170.81 L486.32 171.11 L486.26 171.41 L486.20 171.70 L486.14 172.80 L448.85 172.80 Z" fill="#1a7399" stroke="none"/>
<path d="M448.85 55.39 L450.30 55.62 L451.75 55.84 L453.20 56.07 L454.65 56.29 L456.10 56.51 L457.55 56.74 L459.00 56.96 L460.45 57.19 L461.90 57.42 L463.34 57.65 L464.78 57.89 L466.22 58.13 L467.66 58.38 L469.08 58.64 L470.49 58.89 L471.90 59.15 L473.31 59.41 L474.72 59.68 L476.13 59.94 L477.54 60.21 L478.95 60.49 L480.34 60.77 L481.73 61.06 L483.10 61.36 L484.46 61.66 L485.80 61.97 L487.13 62.30 L488.43 62.63 L489.60 62.93 L490.76 63.24 L491.91 63.56 L493.05 63.87 L494.18 64.19 L495.30 64.52 L496.41 64.86 L497.51 65.20 L498.59 65.56 L499.66 65.92 L500.72 66.30 L501.76 66.69 L502.79 67.09 L503.79 67.51 L504.69 67.89 L505.59 68.29 L506.48 68.69 L507.36 69.10 L508.23 69.52 L509.09 69.96 L509.93 70.39 L510.76 70.84 L511.57 71.30 L512.37 71.76 L513.14 72.24 L513.89 72.72 L514.62 73.21 L515.32 73.71 L515.89 74.14 L516.46 74.57 L517.02 75.00 L517.56 75.43 L518.09 75.87 L518.60 76.32 L519.10 76.77 L519.58 77.24 L520.05 77.71 L520.50 78.21 L520.93 78.72 L521.34 79.24 L521.73 79.79 L522.11 80.36 L522.49 81.01 L522.83 81.70 L523.13 82.41 L523.41 83.15 L523.67 83.90 L523.91 84.68 L524.13 85.46 L524.34 86.26 L524.55 87.06 L524.76 87.86 L524.97 88.66 L525.18 89.45 L525.41 90.24 L525.65 91.01" fill="none" stroke="#50444a" stroke-width="2.00" stroke-dasharray="5.45 1.2" stroke-linejoin="round"/>
<path d="M525.65 91.01 L525.62 91.49 L525.59 91.97 L525.57 92.44 L525.55 92.91 L525.53 93.38 L525.51 93.85 L525.49 94.33 L525.47 94.80 L525.43 95.28 L525.39 95.77 L525.33 96.26 L525.26 96.77 L525.17 97.28 L525.06 97.80 L524.90 98.50 L524.70 99.20 L524.49 99.93 L524.25 100.66 L523.99 101.40 L523.71 102.16 L523.42 102.93 L523.11 103.70 L522.80 104.48 L522.48 105.27 L522.15 106.06 L521.82 106.85 L521.48 107.65 L521.15 108.45 L520.76 109.38 L520.35 110.33 L519.92 111.30 L519.48 112.29 L519.03 113.29 L518.57 114.29 L518.10 115.30 L517.63 116.30 L517.16 117.29 L516.69 118.27 L516.22 119.24 L515.76 120.18 L515.31 121.09 L514.87 121.97 L514.52 122.67 L514.17 123.35 L513.83 124.01 L513.50 124.65 L513.17 125.28 L512.84 125.90 L512.51 126.52 L512.18 127.13 L511.84 127.75 L511.49 128.37 L511.14 129.01 L510.77 129.65 L510.39 130.32 L510.00 131.00 L509.50 131.86 L508.97 132.73 L508.43 133.63 L507.87 134.54 L507.30 135.46 L506.72 136.39 L506.13 137.33 L505.53 138.27 L504.94 139.22 L504.34 140.16 L503.75 141.11 L503.16 142.05 L502.59 142.99 L502.02 143.92 L501.47 144.84 L500.92 145.76 L500.37 146.69 L499.82 147.62 L499.27 148.56 L498.72 149.49 L498.17 150.43 L497.63 151.35 L497.09 152.27 L496.56 153.19 L496.03 154.09 L495.51 154.97 L495.00 155.85 L494.49 156.70 L494.05 157.44 L493.61 158.17 L493.16 158.89 L492.71 159.61 L492.27 160.32 L491.83 161.03 L491.40 161.73 L490.98 162.42 L490.56 163.09 L490.16 163.76 L489.78 164.41 L489.41 165.05 L489.06 165.68 L488.73 166.29 L488.50 166.74 L488.28 167.18 L488.08 167.60 L487.88 168.02 L487.70 168.43 L487.52 168.83 L487.34 169.23 L487.17 169.62 L487.01 170.01 L486.84 170.41 L486.67 170.80 L486.50 171.20 L486.33 171.60 L486.14 172.00" fill="none" stroke="#50444a" stroke-width="2.00" stroke-linejoin="round"/>
<path d="M448.85 172.00 L486.14 172.00" fill="none" stroke="#50444a" stroke-width="2.00" stroke-linejoin="round"/>
<path d="M448.85 66.91 L449.88 67.18 L450.92 67.44 L451.95 67.68 L452.99 67.92 L454.02 68.16 L455.06 68.39 L456.09 68.64 L457.12 68.89 L458.16 69.15 L459.19 69.43 L460.23 69.72 L461.26 70.04 L462.29 70.38 L463.32 70.76 L464.45 71.19 L465.58 71.64 L466.74 72.11 L467.90 72.61 L469.06 73.13 L470.22 73.66 L471.38 74.21 L472.52 74.78 L473.65 75.36 L474.75 75.95 L475.82 76.56 L476.87 77.18 L477.87 77.81 L478.83 78.44 L479.63 79.00 L480.41 79.57 L481.17 80.15 L481.91 80.73 L482.64 81.33 L483.34 81.94 L484.03 82.55 L484.70 83.18 L485.35 83.82 L485.99 84.46 L486.62 85.12 L487.24 85.79 L487.84 86.47 L488.43 87.16 L489.01 87.86 L489.58 88.58 L490.13 89.31 L490.68 90.05 L491.21 90.81 L491.73 91.57 L492.24 92.35 L492.73 93.13 L493.19 93.91 L493.64 94.69 L494.07 95.48 L494.48 96.26 L494.87 97.03 L495.23 97.80 L495.52 98.49 L495.80 99.18 L496.05 99.86 L496.28 100.56 L496.49 101.25 L496.69 101.94 L496.88 102.63 L497.06 103.33 L497.23 104.02 L497.39 104.70 L497.55 105.39 L497.71 106.07 L497.87 106.74 L498.03 107.41 L498.19 108.03 L498.33 108.64 L498.47 109.25 L498.60 109.85 L498.73 110.45 L498.85 111.05 L498.97 111.65 L499.09 112.25 L499.21 112.85 L499.32 113.44 L499.44 114.04 L499.56 114.64 L499.68 115.24 L499.81 115.84" fill="none" stroke="#169ee9" stroke-width="2.00" stroke-dasharray="5.45 1.2" stroke-linejoin="round"/>
<path d="M499.81 115.84 L499.76 116.68 L499.72 117.52 L499.68 118.36 L499.65 119.19 L499.62 120.03 L499.59 120.87 L499.56 121.70 L499.52 122.54 L499.47 123.39 L499.42 124.23 L499.35 125.08 L499.27 125.93 L499.18 126.79 L499.07 127.66 L498.93 128.61 L498.77 129.56 L498.61 130.52 L498.43 131.49 L498.23 132.47 L498.03 133.44 L497.81 134.42 L497.59 135.40 L497.36 136.39 L497.12 137.37 L496.87 138.35 L496.62 139.32 L496.37 140.29 L496.11 141.26 L495.85 142.23 L495.57 143.21 L495.28 144.20 L494.98 145.18 L494.67 146.17 L494.35 147.16 L494.03 148.14 L493.71 149.12 L493.39 150.08 L493.07 151.04 L492.75 151.98 L492.44 152.91 L492.13 153.82 L491.83 154.71 L491.58 155.45 L491.33 156.18 L491.07 156.90 L490.82 157.62 L490.57 158.32 L490.31 159.02 L490.06 159.70 L489.82 160.38 L489.57 161.06 L489.34 161.73 L489.10 162.39 L488.87 163.05 L488.65 163.71 L488.43 164.36 L488.25 164.93 L488.07 165.49 L487.90 166.05 L487.73 166.60 L487.57 167.15 L487.41 167.69 L487.25 168.23 L487.09 168.77 L486.93 169.30 L486.78 169.84 L486.62 170.38 L486.47 170.92 L486.31 171.46 L486.14 172.00" fill="none" stroke="#169ee9" stroke-width="2.00" stroke-linejoin="round"/>
<path d="M448.85 83.91 L449.61 84.41 L450.38 84.91 L451.15 85.40 L451.92 85.89 L452.69 86.38 L453.47 86.87 L454.24 87.36 L455.00 87.86 L455.77 88.36 L456.53 88.87 L457.28 89.38 L458.02 89.91 L458.76 90.45 L459.48 91.01 L460.21 91.58 L460.93 92.16 L461.64 92.75 L462.36 93.35 L463.06 93.96 L463.76 94.57 L464.45 95.20 L465.14 95.83 L465.82 96.46 L466.49 97.11 L467.15 97.75 L467.81 98.41 L468.45 99.06 L469.08 99.73 L469.70 100.38 L470.31 101.05 L470.91 101.73 L471.51 102.41 L472.10 103.10 L472.68 103.80 L473.25 104.50 L473.81 105.20 L474.36 105.91 L474.90 106.60 L475.43 107.30 L475.94 107.98 L476.43 108.66 L476.91 109.33 L477.31 109.90 L477.69 110.47 L478.07 111.04 L478.43 111.61 L478.78 112.18 L479.12 112.75 L479.46 113.31 L479.79 113.87 L480.11 114.42 L480.42 114.96 L480.73 115.49 L481.04 116.01 L481.34 116.52 L481.64 117.02 L481.87 117.40 L482.10 117.76 L482.33 118.10 L482.55 118.44 L482.77 118.76 L482.98 119.08 L483.19 119.40 L483.40 119.73 L483.60 120.06 L483.80 120.40 L484.00 120.76 L484.20 121.14 L484.40 121.54 L484.59 121.97 L484.88 122.64 L485.16 123.38 L485.44 124.16 L485.72 124.98 L485.99 125.84 L486.26 126.71 L486.53 127.61 L486.78 128.51 L487.03 129.41 L487.26 130.30 L487.48 131.17 L487.69 132.01 L487.89 132.81 L488.06 133.57 L488.19 134.13 L488.31 134.67 L488.42 135.19 L488.53 135.69 L488.62 136.19 L488.71 136.68 L488.80 137.17 L488.88 137.65 L488.95 138.14 L489.02 138.63 L489.08 139.14 L489.14 139.65 L489.19 140.19 L489.25 140.74 L489.30 141.43 L489.35 142.16 L489.39 142.90 L489.42 143.66 L489.45 144.44 L489.47 145.22 L489.48 146.01 L489.48 146.80 L489.48 147.59 L489.47 148.37 L489.46 149.13 L489.44 149.88 L489.42 150.61 L489.39 151.31 L489.37 151.88 L489.33 152.44 L489.30 153.00 L489.25 153.55 L489.21 154.10 L489.16 154.63 L489.10 155.16 L489.05 155.69 L488.99 156.20 L488.93 156.71 L488.86 157.22 L488.79 157.72 L488.73 158.21 L488.66 158.70 L488.59 159.11 L488.53 159.52 L488.46 159.91 L488.39 160.30 L488.31 160.69 L488.24 161.07 L488.16 161.45 L488.08 161.83 L488.01 162.20 L487.93 162.58 L487.85 162.95 L487.77 163.33 L487.70 163.71 L487.62 164.09" fill="none" stroke="#f1230d" stroke-width="2.00" stroke-dasharray="5.45 1.2" stroke-linejoin="round"/>
<path d="M487.62 164.09 L487.57 164.36 L487.53 164.63 L487.48 164.90 L487.43 165.16 L487.39 165.43 L487.34 165.70 L487.30 165.97 L487.25 166.23 L487.20 166.50 L487.15 166.77 L487.11 167.04 L487.06 167.31 L487.01 167.59 L486.96 167.86 L486.90 168.15 L486.85 168.44 L486.79 168.74 L486.73 169.03 L486.68 169.33 L486.62 169.62 L486.56 169.92 L486.50 170.22 L486.44 170.51 L486.38 170.81 L486.32 171.11 L486.26 171.41 L486.20 171.70 L486.14 172.00" fill="none" stroke="#f1230d" stroke-width="1.00" stroke-linejoin="round"/>
<path d="M524.32 24.20 L596.55 24.20" fill="none" stroke="#50444a" stroke-width="1.90" stroke-linejoin="round"/>
<path d="M499.07 24.20 L524.32 24.20" fill="none" stroke="#169ee9" stroke-width="1.90" stroke-linejoin="round"/>
<path d="M488.73 24.20 L499.07 24.20" fill="none" stroke="#f1230d" stroke-width="1.90" stroke-linejoin="round"/>
<rect x="447.45" y="22.70" width="150.50" height="150.70" fill="none" stroke="#9a9a9a" stroke-width="1.15"/>
<path d="M448.85 173.40 v-2.80 M448.85 22.70 v2.80 M447.45 172.00 h2.80 M597.95 172.00 h-2.80 M456.24 173.40 v-1.60 M456.24 22.70 v1.60 M447.45 164.61 h1.60 M597.95 164.61 h-1.60 M463.62 173.40 v-1.60 M463.62 22.70 v1.60 M447.45 157.22 h1.60 M597.95 157.22 h-1.60 M471.00 173.40 v-1.60 M471.00 22.70 v1.60 M447.45 149.83 h1.60 M597.95 149.83 h-1.60 M478.39 173.40 v-2.80 M478.39 22.70 v2.80 M447.45 142.44 h2.80 M597.95 142.44 h-2.80 M485.78 173.40 v-1.60 M485.78 22.70 v1.60 M447.45 135.05 h1.60 M597.95 135.05 h-1.60 M493.16 173.40 v-1.60 M493.16 22.70 v1.60 M447.45 127.66 h1.60 M597.95 127.66 h-1.60 M500.55 173.40 v-1.60 M500.55 22.70 v1.60 M447.45 120.27 h1.60 M597.95 120.27 h-1.60 M507.93 173.40 v-2.80 M507.93 22.70 v2.80 M447.45 112.88 h2.80 M597.95 112.88 h-2.80 M515.32 173.40 v-1.60 M515.32 22.70 v1.60 M447.45 105.49 h1.60 M597.95 105.49 h-1.60 M522.70 173.40 v-1.60 M522.70 22.70 v1.60 M447.45 98.10 h1.60 M597.95 98.10 h-1.60 M530.09 173.40 v-1.60 M530.09 22.70 v1.60 M447.45 90.71 h1.60 M597.95 90.71 h-1.60 M537.47 173.40 v-2.80 M537.47 22.70 v2.80 M447.45 83.32 h2.80 M597.95 83.32 h-2.80 M544.86 173.40 v-1.60 M544.86 22.70 v1.60 M447.45 75.93 h1.60 M597.95 75.93 h-1.60 M552.24 173.40 v-1.60 M552.24 22.70 v1.60 M447.45 68.54 h1.60 M597.95 68.54 h-1.60 M559.62 173.40 v-1.60 M559.62 22.70 v1.60 M447.45 61.15 h1.60 M597.95 61.15 h-1.60 M567.01 173.40 v-2.80 M567.01 22.70 v2.80 M447.45 53.76 h2.80 M597.95 53.76 h-2.80 M574.39 173.40 v-1.60 M574.39 22.70 v1.60 M447.45 46.37 h1.60 M597.95 46.37 h-1.60 M581.78 173.40 v-1.60 M581.78 22.70 v1.60 M447.45 38.98 h1.60 M597.95 38.98 h-1.60 M589.16 173.40 v-1.60 M589.16 22.70 v1.60 M447.45 31.59 h1.60 M597.95 31.59 h-1.60 M596.55 173.40 v-2.80 M596.55 22.70 v2.80 M447.45 24.20 h2.80 M597.95 24.20 h-2.80" stroke="#505050" stroke-width="0.75" fill="none"/>
</g>
<g>
<path d="M628.20 37.80 L629.70 37.89 L631.20 37.98 L632.71 38.06 L634.22 38.13 L635.73 38.21 L637.24 38.28 L638.75 38.36 L640.25 38.44 L641.76 38.54 L643.25 38.64 L644.74 38.75 L646.23 38.88 L647.71 39.03 L649.17 39.20 L650.58 39.38 L651.99 39.57 L653.39 39.77 L654.78 39.98 L656.17 40.20 L657.55 40.43 L658.93 40.67 L660.30 40.92 L661.67 41.19 L663.04 41.46 L664.41 41.75 L665.78 42.04 L667.15 42.35 L668.52 42.67 L669.92 43.01 L671.33 43.37 L672.76 43.73 L674.19 44.11 L675.62 44.50 L677.06 44.90 L678.48 45.32 L679.89 45.74 L681.28 46.17 L682.64 46.61 L683.97 47.06 L685.26 47.51 L686.52 47.97 L687.72 48.44 L688.66 48.82 L689.58 49.19 L690.49 49.58 L691.38 49.96 L692.25 50.35 L693.10 50.75 L693.93 51.15 L694.75 51.56 L695.55 51.98 L696.33 52.40 L697.09 52.84 L697.83 53.28 L698.55 53.74 L699.24 54.20 L699.82 54.61 L700.38 55.03 L700.93 55.45 L701.47 55.89 L701.99 56.33 L702.50 56.78 L703.00 57.24 L703.48 57.69 L703.95 58.15 L704.40 58.61 L704.83 59.07 L705.25 59.52 L705.65 59.97 L706.04 60.41 L706.34 60.76 L706.62 61.11 L706.90 61.46 L707.18 61.80 L707.44 62.15 L707.69 62.50 L707.93 62.84 L708.16 63.19 L708.38 63.54 L708.59 63.88 L708.78 64.23 L708.97 64.58 L709.13 64.93 L709.29 65.29 L709.41 65.60 L709.51 65.91 L709.60 66.23 L709.67 66.55 L709.74 66.86 L709.80 67.18 L709.85 67.50 L709.89 67.81 L709.93 68.13 L709.97 68.45 L710.02 68.77 L710.06 69.09 L710.11 69.41 L710.17 69.72 L710.17 69.72 L710.13 70.28 L710.09 70.84 L710.06 71.40 L710.03 71.97 L710.01 72.53 L709.98 73.09 L709.95 73.65 L709.91 74.21 L709.87 74.77 L709.82 75.33 L709.76 75.89 L709.69 76.45 L709.61 77.00 L709.51 77.56 L709.39 78.12 L709.26 78.67 L709.12 79.23 L708.97 79.78 L708.81 80.33 L708.64 80.88 L708.47 81.43 L708.28 81.98 L708.09 82.53 L707.90 83.08 L707.70 83.64 L707.49 84.19 L707.28 84.75 L707.07 85.32 L706.83 85.94 L706.58 86.58 L706.32 87.24 L706.04 87.91 L705.76 88.58 L705.48 89.25 L705.19 89.92 L704.89 90.58 L704.60 91.23 L704.31 91.85 L704.03 92.46 L703.75 93.04 L703.49 93.59 L703.23 94.11 L703.06 94.44 L702.90 94.75 L702.73 95.05 L702.57 95.34 L702.41 95.62 L702.26 95.89 L702.10 96.16 L701.95 96.42 L701.79 96.67 L701.64 96.93 L701.48 97.19 L701.33 97.45 L701.17 97.72 L701.02 98.00 L700.86 98.27 L700.71 98.55 L700.56 98.81 L700.41 99.07 L700.27 99.33 L700.12 99.59 L699.98 99.85 L699.83 100.12 L699.67 100.40 L699.51 100.69 L699.35 100.99 L699.18 101.31 L698.99 101.65 L698.80 102.00 L698.43 102.68 L698.04 103.42 L697.62 104.22 L697.17 105.06 L696.71 105.94 L696.22 106.86 L695.73 107.80 L695.22 108.76 L694.71 109.74 L694.19 110.72 L693.68 111.71 L693.16 112.69 L692.65 113.65 L692.15 114.59 L691.62 115.61 L691.07 116.64 L690.51 117.69 L689.95 118.75 L689.39 119.82 L688.82 120.89 L688.25 121.97 L687.68 123.04 L687.12 124.10 L686.56 125.16 L686.00 126.20 L685.46 127.22 L684.92 128.22 L684.40 129.20 L683.95 130.03 L683.50 130.87 L683.05 131.71 L682.60 132.54 L682.15 133.37 L681.71 134.19 L681.27 135.00 L680.84 135.79 L680.42 136.56 L680.02 137.31 L679.63 138.03 L679.26 138.72 L678.90 139.38 L678.57 140.00 L678.37 140.37 L678.18 140.71 L678.00 141.03 L677.83 141.33 L677.67 141.61 L677.51 141.89 L677.36 142.16 L677.21 142.44 L677.05 142.72 L676.90 143.02 L676.73 143.33 L676.57 143.67 L676.39 144.03 L676.20 144.42 L675.85 145.18 L675.48 146.01 L675.09 146.91 L674.69 147.87 L674.27 148.87 L673.84 149.92 L673.41 150.99 L672.97 152.08 L672.53 153.19 L672.09 154.29 L671.67 155.39 L671.24 156.47 L670.84 157.53 L670.44 158.55 L670.07 159.52 L669.71 160.48 L669.35 161.45 L669.00 162.41 L668.65 163.37 L668.30 164.33 L667.96 165.29 L667.62 166.25 L667.28 167.21 L666.94 168.16 L666.60 169.12 L666.26 170.08 L665.91 171.04 L665.57 172.80 L628.20 172.80 Z" fill="#b3e6ed" stroke="none"/>
<path d="M628.20 39.72 L629.70 39.86 L631.21 39.98 L632.71 40.10 L634.22 40.22 L635.73 40.33 L637.24 40.45 L638.75 40.57 L640.26 40.69 L641.76 40.83 L643.26 40.97 L644.75 41.13 L646.23 41.30 L647.71 41.50 L649.17 41.71 L650.59 41.94 L652.01 42.18 L653.43 42.43 L654.85 42.69 L656.26 42.96 L657.67 43.25 L659.07 43.54 L660.46 43.85 L661.84 44.17 L663.21 44.50 L664.56 44.84 L665.90 45.19 L667.22 45.55 L668.52 45.93 L669.70 46.28 L670.87 46.63 L672.03 47.00 L673.19 47.37 L674.34 47.75 L675.48 48.14 L676.61 48.54 L677.72 48.95 L678.81 49.38 L679.87 49.81 L680.92 50.26 L681.94 50.72 L682.92 51.20 L683.88 51.69 L684.68 52.12 L685.49 52.58 L686.29 53.05 L687.09 53.54 L687.87 54.04 L688.63 54.54 L689.38 55.05 L690.09 55.56 L690.77 56.07 L691.41 56.58 L692.01 57.08 L692.56 57.56 L693.05 58.03 L693.48 58.49 L693.70 58.74 L693.89 58.99 L694.06 59.23 L694.21 59.46 L694.34 59.69 L694.46 59.92 L694.57 60.16 L694.68 60.39 L694.78 60.62 L694.89 60.86 L695.00 61.11 L695.12 61.36 L695.26 61.62 L695.40 61.89 L695.62 62.26 L695.85 62.64 L696.09 63.04 L696.35 63.44 L696.61 63.85 L696.87 64.27 L697.13 64.70 L697.40 65.13 L697.66 65.57 L697.91 66.01 L698.15 66.45 L698.39 66.90 L698.60 67.35 L698.80 67.80 L698.99 68.27 L699.17 68.77 L699.35 69.28 L699.52 69.81 L699.68 70.34 L699.84 70.88 L699.98 71.41 L700.12 71.93 L700.24 72.44 L700.36 72.93 L700.47 73.40 L700.56 73.84 L700.65 74.24 L700.72 74.60 L700.75 74.77 L700.78 74.93 L700.80 75.09 L700.82 75.23 L700.84 75.37 L700.85 75.50 L700.87 75.63 L700.88 75.76 L700.89 75.88 L700.89 76.00 L700.90 76.13 L700.92 76.26 L700.93 76.39 L700.94 76.52 L700.94 76.52 L700.88 77.15 L700.83 77.78 L700.78 78.41 L700.73 79.04 L700.68 79.67 L700.63 80.30 L700.58 80.93 L700.53 81.55 L700.47 82.18 L700.41 82.81 L700.34 83.44 L700.25 84.07 L700.16 84.69 L700.06 85.32 L699.94 85.96 L699.80 86.61 L699.66 87.27 L699.51 87.94 L699.35 88.62 L699.18 89.29 L699.01 89.95 L698.83 90.60 L698.65 91.24 L698.47 91.87 L698.29 92.47 L698.11 93.05 L697.94 93.59 L697.77 94.11 L697.65 94.44 L697.53 94.75 L697.42 95.05 L697.30 95.34 L697.18 95.62 L697.05 95.89 L696.93 96.15 L696.82 96.41 L696.70 96.67 L696.58 96.93 L696.47 97.19 L696.36 97.45 L696.25 97.72 L696.14 98.00 L696.04 98.28 L695.96 98.55 L695.87 98.82 L695.80 99.09 L695.72 99.36 L695.65 99.64 L695.58 99.91 L695.50 100.19 L695.42 100.47 L695.34 100.76 L695.24 101.05 L695.14 101.36 L695.02 101.68 L694.89 102.00 L694.66 102.52 L694.40 103.06 L694.11 103.62 L693.80 104.19 L693.47 104.78 L693.13 105.38 L692.77 106.00 L692.41 106.64 L692.04 107.28 L691.67 107.94 L691.30 108.61 L690.93 109.28 L690.58 109.97 L690.23 110.66 L689.82 111.54 L689.40 112.44 L688.98 113.37 L688.56 114.33 L688.13 115.30 L687.70 116.29 L687.28 117.29 L686.86 118.30 L686.44 119.31 L686.02 120.33 L685.60 121.34 L685.20 122.34 L684.79 123.33 L684.40 124.30 L684.02 125.25 L683.65 126.20 L683.28 127.17 L682.92 128.13 L682.56 129.10 L682.20 130.07 L681.85 131.03 L681.50 131.99 L681.15 132.92 L680.80 133.84 L680.46 134.74 L680.12 135.61 L679.79 136.46 L679.45 137.27 L679.20 137.86 L678.95 138.42 L678.71 138.95 L678.48 139.47 L678.24 139.97 L678.01 140.46 L677.77 140.95 L677.54 141.44 L677.30 141.93 L677.06 142.44 L676.82 142.96 L676.57 143.50 L676.32 144.06 L676.05 144.66 L675.69 145.51 L675.31 146.39 L674.92 147.32 L674.52 148.27 L674.11 149.25 L673.70 150.24 L673.28 151.26 L672.86 152.28 L672.45 153.31 L672.03 154.35 L671.62 155.38 L671.22 156.40 L670.83 157.41 L670.44 158.40 L670.07 159.37 L669.71 160.34 L669.35 161.31 L669.00 162.28 L668.65 163.26 L668.31 164.23 L667.96 165.20 L667.62 166.17 L667.28 167.14 L666.94 168.11 L666.60 169.09 L666.26 170.06 L665.91 171.03 L665.57 172.80 L628.20 172.80 Z" fill="#beaed3" stroke="none"/>
<path d="M628.20 41.71 L629.70 41.90 L631.21 42.07 L632.72 42.23 L634.23 42.39 L635.74 42.54 L637.26 42.69 L638.77 42.85 L640.27 43.01 L641.78 43.19 L643.27 43.39 L644.76 43.61 L646.24 43.86 L647.71 44.14 L649.17 44.45 L650.61 44.79 L652.05 45.15 L653.50 45.53 L654.96 45.94 L656.41 46.36 L657.85 46.80 L659.28 47.26 L660.69 47.74 L662.08 48.23 L663.44 48.72 L664.77 49.23 L666.07 49.75 L667.32 50.27 L668.52 50.80 L669.48 51.24 L670.43 51.70 L671.38 52.17 L672.31 52.65 L673.23 53.14 L674.13 53.64 L675.01 54.14 L675.85 54.65 L676.66 55.15 L677.43 55.64 L678.16 56.13 L678.84 56.61 L679.47 57.08 L680.04 57.53 L680.35 57.79 L680.62 58.04 L680.87 58.28 L681.10 58.52 L681.32 58.76 L681.52 59.00 L681.71 59.24 L681.89 59.48 L682.08 59.72 L682.27 59.96 L682.47 60.21 L682.68 60.47 L682.90 60.73 L683.14 61.00 L683.49 61.37 L683.86 61.74 L684.25 62.12 L684.65 62.51 L685.06 62.91 L685.48 63.31 L685.90 63.72 L686.32 64.14 L686.74 64.56 L687.15 64.99 L687.54 65.42 L687.92 65.87 L688.28 66.31 L688.61 66.77 L688.92 67.22 L689.22 67.68 L689.51 68.15 L689.79 68.63 L690.06 69.12 L690.32 69.61 L690.57 70.11 L690.81 70.61 L691.04 71.11 L691.25 71.62 L691.46 72.12 L691.65 72.63 L691.84 73.13 L692.01 73.64 L692.16 74.13 L692.29 74.63 L692.42 75.15 L692.53 75.67 L692.63 76.19 L692.72 76.72 L692.80 77.24 L692.88 77.76 L692.94 78.27 L693.00 78.76 L693.06 79.23 L693.11 79.68 L693.15 80.11 L693.19 80.51 L693.21 80.75 L693.23 80.98 L693.24 81.19 L693.25 81.40 L693.25 81.60 L693.26 81.80 L693.26 81.99 L693.26 82.18 L693.26 82.37 L693.26 82.55 L693.26 82.74 L693.26 82.93 L693.26 83.12 L693.26 83.32 L693.26 83.32 L693.22 83.89 L693.18 84.46 L693.15 85.03 L693.11 85.61 L693.07 86.18 L693.04 86.76 L693.00 87.34 L692.96 87.91 L692.92 88.48 L692.88 89.04 L692.83 89.59 L692.78 90.14 L692.73 90.67 L692.67 91.20 L692.62 91.64 L692.56 92.08 L692.50 92.51 L692.43 92.94 L692.37 93.36 L692.30 93.78 L692.23 94.19 L692.16 94.60 L692.08 95.00 L692.01 95.41 L691.93 95.81 L691.86 96.21 L691.79 96.61 L691.71 97.01 L691.64 97.37 L691.58 97.74 L691.51 98.10 L691.45 98.46 L691.38 98.81 L691.31 99.16 L691.25 99.51 L691.18 99.86 L691.10 100.22 L691.03 100.57 L690.95 100.92 L690.86 101.28 L690.77 101.64 L690.68 102.00 L690.57 102.40 L690.45 102.78 L690.33 103.16 L690.21 103.55 L690.09 103.93 L689.95 104.31 L689.82 104.70 L689.68 105.09 L689.54 105.49 L689.39 105.90 L689.24 106.33 L689.08 106.77 L688.92 107.23 L688.76 107.71 L688.50 108.46 L688.23 109.26 L687.95 110.10 L687.66 110.98 L687.35 111.88 L687.04 112.81 L686.72 113.76 L686.40 114.71 L686.07 115.68 L685.73 116.65 L685.40 117.61 L685.06 118.56 L684.73 119.50 L684.40 120.42 L684.06 121.33 L683.72 122.24 L683.37 123.16 L683.02 124.07 L682.66 124.99 L682.29 125.90 L681.93 126.81 L681.57 127.72 L681.22 128.63 L680.86 129.53 L680.52 130.43 L680.18 131.32 L679.85 132.21 L679.53 133.08 L679.24 133.88 L678.98 134.66 L678.72 135.43 L678.46 136.19 L678.22 136.95 L677.97 137.71 L677.73 138.46 L677.49 139.22 L677.25 139.98 L677.00 140.74 L676.74 141.52 L676.47 142.30 L676.20 143.10 L675.91 143.92 L675.55 144.88 L675.19 145.87 L674.80 146.87 L674.41 147.88 L674.01 148.91 L673.60 149.94 L673.19 150.98 L672.77 152.03 L672.36 153.07 L671.95 154.12 L671.54 155.16 L671.14 156.20 L670.75 157.23 L670.37 158.25 L670.01 159.24 L669.65 160.23 L669.30 161.21 L668.95 162.20 L668.61 163.18 L668.27 164.16 L667.93 165.14 L667.59 166.12 L667.26 167.10 L666.92 168.08 L666.59 169.06 L666.25 170.04 L665.91 171.02 L665.57 172.80 L628.20 172.80 Z" fill="#1a7399" stroke="none"/>
<path d="M628.20 41.71 L629.70 41.90 L631.21 42.07 L632.72 42.23 L634.23 42.39 L635.74 42.54 L637.26 42.69 L638.77 42.85 L640.27 43.01 L641.78 43.19 L643.27 43.39 L644.76 43.61 L646.24 43.86 L647.71 44.14 L649.17 44.45 L650.61 44.79 L652.05 45.15 L653.50 45.53 L654.96 45.94 L656.41 46.36 L657.85 46.80 L659.28 47.26 L660.69 47.74 L662.08 48.23 L663.44 48.72 L664.77 49.23 L666.07 49.75 L667.32 50.27 L668.52 50.80 L669.48 51.24 L670.43 51.70 L671.38 52.17 L672.31 52.65 L673.23 53.14 L674.13 53.64 L675.01 54.14 L675.85 54.65 L676.66 55.15 L677.43 55.64 L678.16 56.13 L678.84 56.61 L679.47 57.08 L680.04 57.53 L680.35 57.79 L680.62 58.04 L680.87 58.28 L681.10 58.52 L681.32 58.76 L681.52 59.00 L681.71 59.24 L681.89 59.48 L682.08 59.72 L682.27 59.96 L682.47 60.21 L682.68 60.47 L682.90 60.73 L683.14 61.00 L683.49 61.37 L683.86 61.74 L684.25 62.12 L684.65 62.51 L685.06 62.91 L685.48 63.31 L685.90 63.72 L686.32 64.14 L686.74 64.56 L687.15 64.99 L687.54 65.42 L687.92 65.87 L688.28 66.31 L688.61 66.77 L688.92 67.22 L689.22 67.68 L689.51 68.15 L689.79 68.63 L690.06 69.12 L690.32 69.61 L690.57 70.11 L690.81 70.61 L691.04 71.11 L691.25 71.62 L691.46 72.12 L691.65 72.63 L691.84 73.13 L692.01 73.64 L692.16 74.13 L692.29 74.63 L692.42 75.15 L692.53 75.67 L692.63 76.19 L692.72 76.72 L692.80 77.24 L692.88 77.76 L692.94 78.27 L693.00 78.76 L693.06 79.23 L693.11 79.68 L693.15 80.11 L693.19 80.51 L693.21 80.75 L693.23 80.98 L693.24 81.19 L693.25 81.40 L693.25 81.60 L693.26 81.80 L693.26 81.99 L693.26 82.18 L693.26 82.37 L693.26 82.55 L693.26 82.74 L693.26 82.93 L693.26 83.12 L693.26 83.32" fill="none" stroke="#f1230d" stroke-width="2.00" stroke-dasharray="5.45 1.2" stroke-linejoin="round"/>
<path d="M693.26 83.32 L693.22 83.89 L693.18 84.46 L693.15 85.03 L693.11 85.61 L693.07 86.18 L693.04 86.76 L693.00 87.34 L692.96 87.91 L692.92 88.48 L692.88 89.04 L692.83 89.59 L692.78 90.14 L692.73 90.67 L692.67 91.20 L692.62 91.64 L692.56 92.08 L692.50 92.51 L692.43 92.94 L692.37 93.36 L692.30 93.78 L692.23 94.19 L692.16 94.60 L692.08 95.00 L692.01 95.41 L691.93 95.81 L691.86 96.21 L691.79 96.61 L691.71 97.01 L691.64 97.37 L691.58 97.74 L691.51 98.10 L691.45 98.46 L691.38 98.81 L691.31 99.16 L691.25 99.51 L691.18 99.86 L691.10 100.22 L691.03 100.57 L690.95 100.92 L690.86 101.28 L690.77 101.64 L690.68 102.00 L690.57 102.40 L690.45 102.78 L690.33 103.16 L690.21 103.55 L690.09 103.93 L689.95 104.31 L689.82 104.70 L689.68 105.09 L689.54 105.49 L689.39 105.90 L689.24 106.33 L689.08 106.77 L688.92 107.23 L688.76 107.71 L688.50 108.46 L688.23 109.26 L687.95 110.10 L687.66 110.98 L687.35 111.88 L687.04 112.81 L686.72 113.76 L686.40 114.71 L686.07 115.68 L685.73 116.65 L685.40 117.61 L685.06 118.56 L684.73 119.50 L684.40 120.42 L684.06 121.33 L683.72 122.24 L683.37 123.16 L683.02 124.07 L682.66 124.99 L682.29 125.90 L681.93 126.81 L681.57 127.72 L681.22 128.63 L680.86 129.53 L680.52 130.43 L680.18 131.32 L679.85 132.21 L679.53 133.08 L679.24 133.88 L678.98 134.66 L678.72 135.43 L678.46 136.19 L678.22 136.95 L677.97 137.71 L677.73 138.46 L677.49 139.22 L677.25 139.98 L677.00 140.74 L676.74 141.52 L676.47 142.30 L676.20 143.10 L675.91 143.92 L675.55 144.88 L675.19 145.87 L674.80 146.87 L674.41 147.88 L674.01 148.91 L673.60 149.94 L673.19 150.98 L672.77 152.03 L672.36 153.07 L671.95 154.12 L671.54 155.16 L671.14 156.20 L670.75 157.23 L670.37 158.25 L670.01 159.24 L669.65 160.23 L669.30 161.21 L668.95 162.20 L668.61 163.18 L668.27 164.16 L667.93 165.14 L667.59 166.12 L667.26 167.10 L666.92 168.08 L666.59 169.06 L666.25 170.04 L665.91 171.02 L665.57 172.00" fill="none" stroke="#f1230d" stroke-width="2.00" stroke-linejoin="round"/>
<path d="M628.20 39.72 L629.70 39.86 L631.21 39.98 L632.71 40.10 L634.22 40.22 L635.73 40.33 L637.24 40.45 L638.75 40.57 L640.26 40.69 L641.76 40.83 L643.26 40.97 L644.75 41.13 L646.23 41.30 L647.71 41.50 L649.17 41.71 L650.59 41.94 L652.01 42.18 L653.43 42.43 L654.85 42.69 L656.26 42.96 L657.67 43.25 L659.07 43.54 L660.46 43.85 L661.84 44.17 L663.21 44.50 L664.56 44.84 L665.90 45.19 L667.22 45.55 L668.52 45.93 L669.70 46.28 L670.87 46.63 L672.03 47.00 L673.19 47.37 L674.34 47.75 L675.48 48.14 L676.61 48.54 L677.72 48.95 L678.81 49.38 L679.87 49.81 L680.92 50.26 L681.94 50.72 L682.92 51.20 L683.88 51.69 L684.68 52.12 L685.49 52.58 L686.29 53.05 L687.09 53.54 L687.87 54.04 L688.63 54.54 L689.38 55.05 L690.09 55.56 L690.77 56.07 L691.41 56.58 L692.01 57.08 L692.56 57.56 L693.05 58.03 L693.48 58.49 L693.70 58.74 L693.89 58.99 L694.06 59.23 L694.21 59.46 L694.34 59.69 L694.46 59.92 L694.57 60.16 L694.68 60.39 L694.78 60.62 L694.89 60.86 L695.00 61.11 L695.12 61.36 L695.26 61.62 L695.40 61.89 L695.62 62.26 L695.85 62.64 L696.09 63.04 L696.35 63.44 L696.61 63.85 L696.87 64.27 L697.13 64.70 L697.40 65.13 L697.66 65.57 L697.91 66.01 L698.15 66.45 L698.39 66.90 L698.60 67.35 L698.80 67.80 L698.99 68.27 L699.17 68.77 L699.35 69.28 L699.52 69.81 L699.68 70.34 L699.84 70.88 L699.98 71.41 L700.12 71.93 L700.24 72.44 L700.36 72.93 L700.47 73.40 L700.56 73.84 L700.65 74.24 L700.72 74.60 L700.75 74.77 L700.78 74.93 L700.80 75.09 L700.82 75.23 L700.84 75.37 L700.85 75.50 L700.87 75.63 L700.88 75.76 L700.89 75.88 L700.89 76.00 L700.90 76.13 L700.92 76.26 L700.93 76.39 L700.94 76.52" fill="none" stroke="#169ee9" stroke-width="2.00" stroke-dasharray="5.45 1.2" stroke-linejoin="round"/>
<path d="M700.94 76.52 L700.88 77.15 L700.83 77.78 L700.78 78.41 L700.73 79.04 L700.68 79.67 L700.63 80.30 L700.58 80.93 L700.53 81.55 L700.47 82.18 L700.41 82.81 L700.34 83.44 L700.25 84.07 L700.16 84.69 L700.06 85.32 L699.94 85.96 L699.80 86.61 L699.66 87.27 L699.51 87.94 L699.35 88.62 L699.18 89.29 L699.01 89.95 L698.83 90.60 L698.65 91.24 L698.47 91.87 L698.29 92.47 L698.11 93.05 L697.94 93.59 L697.77 94.11 L697.65 94.44 L697.53 94.75 L697.42 95.05 L697.30 95.34 L697.18 95.62 L697.05 95.89 L696.93 96.15 L696.82 96.41 L696.70 96.67 L696.58 96.93 L696.47 97.19 L696.36 97.45 L696.25 97.72 L696.14 98.00 L696.04 98.28 L695.96 98.55 L695.87 98.82 L695.80 99.09 L695.72 99.36 L695.65 99.64 L695.58 99.91 L695.50 100.19 L695.42 100.47 L695.34 100.76 L695.24 101.05 L695.14 101.36 L695.02 101.68 L694.89 102.00 L694.66 102.52 L694.40 103.06 L694.11 103.62 L693.80 104.19 L693.47 104.78 L693.13 105.38 L692.77 106.00 L692.41 106.64 L692.04 107.28 L691.67 107.94 L691.30 108.61 L690.93 109.28 L690.58 109.97 L690.23 110.66 L689.82 111.54 L689.40 112.44 L688.98 113.37 L688.56 114.33 L688.13 115.30 L687.70 116.29 L687.28 117.29 L686.86 118.30 L686.44 119.31 L686.02 120.33 L685.60 121.34 L685.20 122.34 L684.79 123.33 L684.40 124.30 L684.02 125.25 L683.65 126.20 L683.28 127.17 L682.92 128.13 L682.56 129.10 L682.20 130.07 L681.85 131.03 L681.50 131.99 L681.15 132.92 L680.80 133.84 L680.46 134.74 L680.12 135.61 L679.79 136.46 L679.45 137.27 L679.20 137.86 L678.95 138.42 L678.71 138.95 L678.48 139.47 L678.24 139.97 L678.01 140.46 L677.77 140.95 L677.54 141.44 L677.30 141.93 L677.06 142.44 L676.82 142.96 L676.57 143.50 L676.32 144.06 L676.05 144.66 L675.69 145.51 L675.31 146.39 L674.92 147.32 L674.52 148.27 L674.11 149.25 L673.70 150.24 L673.28 151.26 L672.86 152.28 L672.45 153.31 L672.03 154.35 L671.62 155.38 L671.22 156.40 L670.83 157.41 L670.44 158.40 L670.07 159.37 L669.71 160.34 L669.35 161.31 L669.00 162.28 L668.65 163.26 L668.31 164.23 L667.96 165.20 L667.62 166.17 L667.28 167.14 L666.94 168.11 L666.60 169.09 L666.26 170.06 L665.91 171.03 L665.57 172.00" fill="none" stroke="#169ee9" stroke-width="2.00" stroke-linejoin="round"/>
<path d="M628.20 37.80 L629.70 37.89 L631.20 37.98 L632.71 38.06 L634.22 38.13 L635.73 38.21 L637.24 38.28 L638.75 38.36 L640.25 38.44 L641.76 38.54 L643.25 38.64 L644.74 38.75 L646.23 38.88 L647.71 39.03 L649.17 39.20 L650.58 39.38 L651.99 39.57 L653.39 39.77 L654.78 39.98 L656.17 40.20 L657.55 40.43 L658.93 40.67 L660.30 40.92 L661.67 41.19 L663.04 41.46 L664.41 41.75 L665.78 42.04 L667.15 42.35 L668.52 42.67 L669.92 43.01 L671.33 43.37 L672.76 43.73 L674.19 44.11 L675.62 44.50 L677.06 44.90 L678.48 45.32 L679.89 45.74 L681.28 46.17 L682.64 46.61 L683.97 47.06 L685.26 47.51 L686.52 47.97 L687.72 48.44 L688.66 48.82 L689.58 49.19 L690.49 49.58 L691.38 49.96 L692.25 50.35 L693.10 50.75 L693.93 51.15 L694.75 51.56 L695.55 51.98 L696.33 52.40 L697.09 52.84 L697.83 53.28 L698.55 53.74 L699.24 54.20 L699.82 54.61 L700.38 55.03 L700.93 55.45 L701.47 55.89 L701.99 56.33 L702.50 56.78 L703.00 57.24 L703.48 57.69 L703.95 58.15 L704.40 58.61 L704.83 59.07 L705.25 59.52 L705.65 59.97 L706.04 60.41 L706.34 60.76 L706.62 61.11 L706.90 61.46 L707.18 61.80 L707.44 62.15 L707.69 62.50 L707.93 62.84 L708.16 63.19 L708.38 63.54 L708.59 63.88 L708.78 64.23 L708.97 64.58 L709.13 64.93 L709.29 65.29 L709.41 65.60 L709.51 65.91 L709.60 66.23 L709.67 66.55 L709.74 66.86 L709.80 67.18 L709.85 67.50 L709.89 67.81 L709.93 68.13 L709.97 68.45 L710.02 68.77 L710.06 69.09 L710.11 69.41 L710.17 69.72" fill="none" stroke="#50444a" stroke-width="2.00" stroke-dasharray="5.45 1.2" stroke-linejoin="round"/>
<path d="M710.17 69.72 L710.13 70.28 L710.09 70.84 L710.06 71.40 L710.03 71.97 L710.01 72.53 L709.98 73.09 L709.95 73.65 L709.91 74.21 L709.87 74.77 L709.82 75.33 L709.76 75.89 L709.69 76.45 L709.61 77.00 L709.51 77.56 L709.39 78.12 L709.26 78.67 L709.12 79.23 L708.97 79.78 L708.81 80.33 L708.64 80.88 L708.47 81.43 L708.28 81.98 L708.09 82.53 L707.90 83.08 L707.70 83.64 L707.49 84.19 L707.28 84.75 L707.07 85.32 L706.83 85.94 L706.58 86.58 L706.32 87.24 L706.04 87.91 L705.76 88.58 L705.48 89.25 L705.19 89.92 L704.89 90.58 L704.60 91.23 L704.31 91.85 L704.03 92.46 L703.75 93.04 L703.49 93.59 L703.23 94.11 L703.06 94.44 L702.90 94.75 L702.73 95.05 L702.57 95.34 L702.41 95.62 L702.26 95.89 L702.10 96.16 L701.95 96.42 L701.79 96.67 L701.64 96.93 L701.48 97.19 L701.33 97.45 L701.17 97.72 L701.02 98.00 L700.86 98.27 L700.71 98.55 L700.56 98.81 L700.41 99.07 L700.27 99.33 L700.12 99.59 L699.98 99.85 L699.83 100.12 L699.67 100.40 L699.51 100.69 L699.35 100.99 L699.18 101.31 L698.99 101.65 L698.80 102.00 L698.43 102.68 L698.04 103.42 L697.62 104.22 L697.17 105.06 L696.71 105.94 L696.22 106.86 L695.73 107.80 L695.22 108.76 L694.71 109.74 L694.19 110.72 L693.68 111.71 L693.16 112.69 L692.65 113.65 L692.15 114.59 L691.62 115.61 L691.07 116.64 L690.51 117.69 L689.95 118.75 L689.39 119.82 L688.82 120.89 L688.25 121.97 L687.68 123.04 L687.12 124.10 L686.56 125.16 L686.00 126.20 L685.46 127.22 L684.92 128.22 L684.40 129.20 L683.95 130.03 L683.50 130.87 L683.05 131.71 L682.60 132.54 L682.15 133.37 L681.71 134.19 L681.27 135.00 L680.84 135.79 L680.42 136.56 L680.02 137.31 L679.63 138.03 L679.26 138.72 L678.90 139.38 L678.57 140.00 L678.37 140.37 L678.18 140.71 L678.00 141.03 L677.83 141.33 L677.67 141.61 L677.51 141.89 L677.36 142.16 L677.21 142.44 L677.05 142.72 L676.90 143.02 L676.73 143.33 L676.57 143.67 L676.39 144.03 L676.20 144.42 L675.85 145.18 L675.48 146.01 L675.09 146.91 L674.69 147.87 L674.27 148.87 L673.84 149.92 L673.41 150.99 L672.97 152.08 L672.53 153.19 L672.09 154.29 L671.67 155.39 L671.24 156.47 L670.84 157.53 L670.44 158.55 L670.07 159.52 L669.71 160.48 L669.35 161.45 L669.00 162.41 L668.65 163.37 L668.30 164.33 L667.96 165.29 L667.62 166.25 L667.28 167.21 L666.94 168.16 L666.60 169.12 L666.26 170.08 L665.91 171.04 L665.57 172.00" fill="none" stroke="#50444a" stroke-width="2.00" stroke-linejoin="round"/>
<path d="M628.20 172.00 L665.57 172.00" fill="none" stroke="#50444a" stroke-width="2.00" stroke-linejoin="round"/>
<path d="M709.29 24.20 L775.90 24.20" fill="none" stroke="#50444a" stroke-width="1.90" stroke-linejoin="round"/>
<path d="M700.28 24.20 L709.29 24.20" fill="none" stroke="#169ee9" stroke-width="1.90" stroke-linejoin="round"/>
<path d="M692.60 24.20 L700.28 24.20" fill="none" stroke="#f1230d" stroke-width="1.90" stroke-linejoin="round"/>
<rect x="626.80" y="22.70" width="150.50" height="150.70" fill="none" stroke="#9a9a9a" stroke-width="1.15"/>
<path d="M628.20 173.40 v-2.80 M628.20 22.70 v2.80 M626.80 172.00 h2.80 M777.30 172.00 h-2.80 M635.59 173.40 v-1.60 M635.59 22.70 v1.60 M626.80 164.61 h1.60 M777.30 164.61 h-1.60 M642.97 173.40 v-1.60 M642.97 22.70 v1.60 M626.80 157.22 h1.60 M777.30 157.22 h-1.60 M650.36 173.40 v-1.60 M650.36 22.70 v1.60 M626.80 149.83 h1.60 M777.30 149.83 h-1.60 M657.74 173.40 v-2.80 M657.74 22.70 v2.80 M626.80 142.44 h2.80 M777.30 142.44 h-2.80 M665.12 173.40 v-1.60 M665.12 22.70 v1.60 M626.80 135.05 h1.60 M777.30 135.05 h-1.60 M672.51 173.40 v-1.60 M672.51 22.70 v1.60 M626.80 127.66 h1.60 M777.30 127.66 h-1.60 M679.89 173.40 v-1.60 M679.89 22.70 v1.60 M626.80 120.27 h1.60 M777.30 120.27 h-1.60 M687.28 173.40 v-2.80 M687.28 22.70 v2.80 M626.80 112.88 h2.80 M777.30 112.88 h-2.80 M694.67 173.40 v-1.60 M694.67 22.70 v1.60 M626.80 105.49 h1.60 M777.30 105.49 h-1.60 M702.05 173.40 v-1.60 M702.05 22.70 v1.60 M626.80 98.10 h1.60 M777.30 98.10 h-1.60 M709.44 173.40 v-1.60 M709.44 22.70 v1.60 M626.80 90.71 h1.60 M777.30 90.71 h-1.60 M716.82 173.40 v-2.80 M716.82 22.70 v2.80 M626.80 83.32 h2.80 M777.30 83.32 h-2.80 M724.21 173.40 v-1.60 M724.21 22.70 v1.60 M626.80 75.93 h1.60 M777.30 75.93 h-1.60 M731.59 173.40 v-1.60 M731.59 22.70 v1.60 M626.80 68.54 h1.60 M777.30 68.54 h-1.60 M738.98 173.40 v-1.60 M738.98 22.70 v1.60 M626.80 61.15 h1.60 M777.30 61.15 h-1.60 M746.36 173.40 v-2.80 M746.36 22.70 v2.80 M626.80 53.76 h2.80 M777.30 53.76 h-2.80 M753.75 173.40 v-1.60 M753.75 22.70 v1.60 M626.80 46.37 h1.60 M777.30 46.37 h-1.60 M761.13 173.40 v-1.60 M761.13 22.70 v1.60 M626.80 38.98 h1.60 M777.30 38.98 h-1.60 M768.51 173.40 v-1.60 M768.51 22.70 v1.60 M626.80 31.59 h1.60 M777.30 31.59 h-1.60 M775.90 173.40 v-2.80 M775.90 22.70 v2.80 M626.80 24.20 h2.80 M777.30 24.20 h-2.80" stroke="#505050" stroke-width="0.75" fill="none"/>
</g>
<g>
<path d="M125.15 372.60 L125.27 370.98 L125.39 370.16 L125.51 369.34 L125.62 368.52 L125.74 367.70 L125.85 366.88 L125.97 366.06 L126.09 365.24 L126.20 364.42 L126.33 363.60 L126.45 362.77 L126.58 361.94 L126.71 361.11 L126.85 360.27 L127.00 359.39 L127.15 358.50 L127.30 357.60 L127.46 356.70 L127.61 355.80 L127.77 354.89 L127.94 353.98 L128.11 353.08 L128.28 352.17 L128.46 351.27 L128.65 350.37 L128.84 349.48 L129.04 348.59 L129.25 347.71 L129.46 346.86 L129.68 346.02 L129.90 345.19 L130.13 344.36 L130.37 343.53 L130.62 342.71 L130.86 341.89 L131.12 341.07 L131.37 340.25 L131.63 339.42 L131.89 338.58 L132.16 337.74 L132.42 336.89 L132.69 336.03 L132.98 335.08 L133.26 334.12 L133.55 333.14 L133.84 332.16 L134.13 331.17 L134.42 330.17 L134.72 329.17 L135.03 328.17 L135.34 327.17 L135.66 326.18 L135.99 325.19 L136.33 324.21 L136.68 323.24 L137.04 322.29 L137.41 321.36 L137.79 320.44 L138.17 319.52 L138.55 318.61 L138.95 317.71 L139.35 316.81 L139.76 315.92 L140.19 315.02 L140.62 314.13 L141.06 313.24 L141.52 312.35 L141.98 311.45 L142.46 310.55 L142.95 309.65 L143.50 308.66 L144.08 307.65 L144.67 306.62 L145.29 305.58 L145.91 304.54 L146.55 303.51 L147.20 302.47 L147.85 301.45 L148.51 300.45 L149.17 299.47 L149.82 298.52 L150.47 297.61 L151.11 296.73 L151.74 295.90 L152.23 295.29 L152.71 294.70 L153.19 294.14 L153.67 293.60 L154.15 293.08 L154.62 292.57 L155.10 292.07 L155.58 291.58 L156.07 291.09 L156.55 290.61 L157.04 290.12 L157.53 289.63 L158.03 289.12 L158.54 288.60 L159.07 288.05 L159.61 287.48 L160.16 286.91 L160.71 286.33 L161.26 285.76 L161.81 285.18 L162.37 284.60 L162.94 284.03 L163.50 283.47 L164.07 282.91 L164.64 282.36 L165.21 281.83 L165.79 281.31 L166.36 280.80 L166.91 280.34 L167.45 279.89 L167.99 279.44 L168.53 279.01 L169.07 278.59 L169.62 278.17 L170.17 277.76 L170.72 277.35 L171.28 276.95 L171.85 276.55 L172.42 276.16 L173.00 275.77 L173.59 275.38 L174.19 274.99 L174.84 274.58 L175.49 274.17 L176.14 273.77 L176.81 273.38 L177.47 272.99 L178.15 272.60 L178.83 272.22 L179.53 271.84 L180.23 271.46 L180.94 271.09 L181.67 270.71 L182.41 270.34 L183.17 269.97 L183.94 269.60 L184.89 269.15 L185.88 268.70 L186.91 268.24 L187.96 267.79 L189.04 267.33 L190.13 266.88 L191.22 266.44 L192.32 266.00 L193.42 265.57 L194.50 265.15 L195.56 264.74 L196.59 264.35 L197.60 263.97 L198.56 263.61 L199.31 263.34 L200.04 263.08 L200.76 262.82 L201.46 262.58 L202.15 262.35 L202.84 262.12 L203.52 261.90 L204.19 261.69 L204.86 261.47 L205.53 261.26 L206.20 261.05 L206.88 260.84 L207.56 260.62 L208.25 260.40 L208.94 260.18 L209.62 259.96 L210.28 259.74 L210.94 259.52 L211.60 259.31 L212.26 259.09 L212.92 258.88 L213.60 258.66 L214.29 258.45 L214.99 258.24 L215.72 258.03 L216.47 257.82 L217.25 257.61 L218.06 257.40 L219.25 257.12 L220.52 256.83 L221.83 256.55 L223.20 256.27 L224.61 256.00 L226.05 255.73 L227.51 255.45 L229.00 255.18 L230.49 254.92 L231.99 254.65 L233.48 254.38 L234.96 254.11 L236.42 253.83 L237.85 253.56 L237.85 372.60 Z" fill="#1a7399" stroke="none"/>
<path d="M134.16 372.60 L134.22 370.98 L134.27 370.16 L134.33 369.34 L134.38 368.52 L134.43 367.70 L134.48 366.88 L134.53 366.07 L134.59 365.25 L134.64 364.42 L134.70 363.60 L134.76 362.77 L134.82 361.94 L134.88 361.11 L134.95 360.27 L135.02 359.39 L135.09 358.50 L135.15 357.60 L135.22 356.70 L135.29 355.80 L135.36 354.89 L135.44 353.99 L135.52 353.08 L135.60 352.18 L135.69 351.27 L135.79 350.37 L135.90 349.48 L136.02 348.59 L136.14 347.71 L136.28 346.86 L136.43 346.02 L136.59 345.19 L136.76 344.36 L136.94 343.54 L137.12 342.72 L137.31 341.90 L137.50 341.08 L137.69 340.25 L137.88 339.43 L138.06 338.59 L138.25 337.75 L138.43 336.90 L138.60 336.03 L138.77 335.08 L138.92 334.12 L139.06 333.14 L139.19 332.16 L139.32 331.16 L139.44 330.16 L139.57 329.16 L139.71 328.16 L139.87 327.16 L140.03 326.17 L140.22 325.18 L140.44 324.20 L140.68 323.24 L140.96 322.29 L141.27 321.35 L141.61 320.43 L141.97 319.51 L142.36 318.61 L142.77 317.71 L143.19 316.81 L143.63 315.92 L144.08 315.03 L144.54 314.15 L145.01 313.26 L145.48 312.36 L145.94 311.47 L146.41 310.56 L146.87 309.65 L147.35 308.67 L147.84 307.67 L148.33 306.65 L148.84 305.62 L149.34 304.59 L149.85 303.55 L150.37 302.52 L150.89 301.50 L151.42 300.49 L151.95 299.51 L152.48 298.56 L153.02 297.63 L153.56 296.75 L154.10 295.90 L154.54 295.26 L154.99 294.64 L155.43 294.04 L155.87 293.46 L156.32 292.90 L156.77 292.35 L157.22 291.82 L157.68 291.29 L158.14 290.77 L158.60 290.25 L159.08 289.73 L159.55 289.21 L160.04 288.68 L160.53 288.15 L161.04 287.58 L161.56 287.02 L162.08 286.46 L162.61 285.90 L163.14 285.34 L163.67 284.79 L164.22 284.24 L164.77 283.69 L165.33 283.14 L165.89 282.59 L166.47 282.05 L167.06 281.52 L167.67 280.99 L168.28 280.46 L168.98 279.88 L169.70 279.30 L170.44 278.72 L171.20 278.14 L171.97 277.57 L172.75 277.00 L173.54 276.43 L174.33 275.88 L175.13 275.33 L175.93 274.79 L176.72 274.27 L177.51 273.75 L178.29 273.26 L179.07 272.77 L179.76 272.35 L180.45 271.93 L181.14 271.53 L181.83 271.13 L182.52 270.75 L183.21 270.37 L183.90 270.00 L184.59 269.64 L185.28 269.29 L185.97 268.94 L186.66 268.60 L187.35 268.26 L188.05 267.93 L188.75 267.60 L189.45 267.29 L190.14 266.98 L190.84 266.68 L191.53 266.39 L192.23 266.11 L192.93 265.83 L193.64 265.56 L194.34 265.29 L195.04 265.03 L195.75 264.76 L196.45 264.50 L197.16 264.25 L197.86 263.99 L198.56 263.73 L199.25 263.48 L199.94 263.23 L200.63 262.98 L201.33 262.73 L202.02 262.49 L202.71 262.25 L203.40 262.01 L204.09 261.78 L204.78 261.55 L205.47 261.32 L206.17 261.09 L206.86 260.86 L207.56 260.63 L208.25 260.40 L208.94 260.18 L209.61 259.96 L210.28 259.73 L210.94 259.52 L211.60 259.30 L212.26 259.08 L212.92 258.87 L213.60 258.66 L214.29 258.44 L214.99 258.23 L215.72 258.03 L216.47 257.82 L217.25 257.61 L218.06 257.40 L219.25 257.12 L220.52 256.83 L221.83 256.55 L223.20 256.27 L224.61 256.00 L226.05 255.73 L227.51 255.45 L229.00 255.18 L230.49 254.92 L231.99 254.65 L233.48 254.38 L234.96 254.11 L236.42 253.83 L237.85 253.56 L237.85 372.60 Z" fill="#beaed3" stroke="none"/>
<path d="M142.95 372.60 L142.95 370.98 L142.95 370.16 L142.95 369.34 L142.95 368.52 L142.95 367.70 L142.94 366.89 L142.94 366.07 L142.94 365.25 L142.94 364.43 L142.94 363.60 L142.94 362.77 L142.94 361.94 L142.95 361.11 L142.95 360.27 L142.96 359.39 L142.97 358.50 L142.98 357.61 L142.98 356.71 L142.99 355.81 L143.01 354.90 L143.02 353.99 L143.03 353.09 L143.05 352.18 L143.06 351.28 L143.08 350.38 L143.10 349.48 L143.12 348.59 L143.14 347.71 L143.17 346.86 L143.18 346.03 L143.20 345.19 L143.22 344.37 L143.23 343.54 L143.25 342.72 L143.27 341.90 L143.30 341.08 L143.33 340.25 L143.37 339.42 L143.41 338.58 L143.47 337.74 L143.54 336.89 L143.62 336.03 L143.72 335.08 L143.82 334.12 L143.93 333.16 L144.05 332.18 L144.18 331.20 L144.32 330.22 L144.47 329.23 L144.62 328.24 L144.79 327.24 L144.97 326.25 L145.17 325.26 L145.38 324.26 L145.60 323.27 L145.83 322.29 L146.10 321.25 L146.38 320.21 L146.68 319.16 L146.99 318.10 L147.32 317.05 L147.66 315.99 L148.01 314.94 L148.38 313.89 L148.75 312.85 L149.13 311.81 L149.52 310.79 L149.91 309.78 L150.31 308.78 L150.71 307.80 L151.09 306.90 L151.48 306.00 L151.87 305.11 L152.28 304.23 L152.69 303.35 L153.11 302.48 L153.54 301.62 L153.97 300.77 L154.40 299.93 L154.84 299.10 L155.28 298.28 L155.72 297.47 L156.17 296.68 L156.62 295.90 L157.01 295.23 L157.41 294.56 L157.81 293.90 L158.20 293.24 L158.61 292.60 L159.01 291.97 L159.42 291.34 L159.83 290.73 L160.25 290.12 L160.67 289.52 L161.11 288.93 L161.54 288.35 L161.99 287.77 L162.45 287.20 L162.89 286.66 L163.34 286.14 L163.80 285.62 L164.25 285.12 L164.72 284.62 L165.18 284.13 L165.66 283.64 L166.14 283.16 L166.63 282.69 L167.14 282.21 L167.65 281.74 L168.17 281.26 L168.70 280.79 L169.24 280.31 L169.87 279.77 L170.52 279.23 L171.19 278.68 L171.87 278.14 L172.56 277.59 L173.27 277.05 L173.99 276.51 L174.71 275.98 L175.43 275.46 L176.16 274.94 L176.89 274.44 L177.62 273.94 L178.35 273.46 L179.07 273.00 L179.75 272.56 L180.43 272.14 L181.11 271.73 L181.80 271.33 L182.49 270.93 L183.18 270.55 L183.87 270.17 L184.56 269.80 L185.25 269.43 L185.95 269.07 L186.65 268.72 L187.35 268.38 L188.05 268.04 L188.75 267.70 L189.44 267.39 L190.14 267.08 L190.83 266.78 L191.53 266.48 L192.23 266.20 L192.93 265.92 L193.64 265.65 L194.34 265.38 L195.04 265.11 L195.75 264.85 L196.45 264.59 L197.16 264.32 L197.86 264.06 L198.56 263.80 L199.25 263.55 L199.94 263.29 L200.63 263.04 L201.33 262.79 L202.02 262.54 L202.71 262.29 L203.40 262.05 L204.09 261.81 L204.78 261.57 L205.47 261.33 L206.17 261.10 L206.86 260.86 L207.55 260.63 L208.25 260.40 L208.94 260.18 L209.61 259.95 L210.28 259.73 L210.94 259.51 L211.60 259.29 L212.26 259.08 L212.92 258.86 L213.60 258.65 L214.29 258.44 L214.99 258.23 L215.72 258.02 L216.47 257.82 L217.25 257.61 L218.06 257.40 L219.25 257.12 L220.52 256.83 L221.83 256.55 L223.20 256.27 L224.61 256.00 L226.05 255.73 L227.51 255.45 L229.00 255.18 L230.49 254.92 L231.99 254.65 L233.48 254.38 L234.96 254.11 L236.42 253.83 L237.85 253.56 L237.85 372.60 Z" fill="#b3e6ed" stroke="none"/>
<path d="M142.95 371.80 L237.85 371.80" fill="none" stroke="#50444a" stroke-width="2.00" stroke-linejoin="round"/>
<path d="M134.16 371.80 L142.95 371.80" fill="none" stroke="#169ee9" stroke-width="2.00" stroke-linejoin="round"/>
<path d="M125.15 371.80 L134.16 371.80" fill="none" stroke="#f1230d" stroke-width="2.00" stroke-linejoin="round"/>
<path d="M125.15 371.80 L125.27 370.98 L125.39 370.16 L125.51 369.34 L125.62 368.52 L125.74 367.70 L125.85 366.88 L125.97 366.06 L126.09 365.24 L126.20 364.42 L126.33 363.60 L126.45 362.77 L126.58 361.94 L126.71 361.11 L126.85 360.27 L127.00 359.39 L127.15 358.50 L127.30 357.60 L127.46 356.70 L127.61 355.80 L127.77 354.89 L127.94 353.98 L128.11 353.08 L128.28 352.17 L128.46 351.27 L128.65 350.37 L128.84 349.48 L129.04 348.59 L129.25 347.71 L129.46 346.86 L129.68 346.02 L129.90 345.19 L130.13 344.36 L130.37 343.53 L130.62 342.71 L130.86 341.89 L131.12 341.07 L131.37 340.25 L131.63 339.42 L131.89 338.58 L132.16 337.74 L132.42 336.89 L132.69 336.03 L132.98 335.08 L133.26 334.12 L133.55 333.14 L133.84 332.16 L134.13 331.17 L134.42 330.17 L134.72 329.17 L135.03 328.17 L135.34 327.17 L135.66 326.18 L135.99 325.19 L136.33 324.21 L136.68 323.24 L137.04 322.29 L137.41 321.36 L137.79 320.44 L138.17 319.52 L138.55 318.61 L138.95 317.71 L139.35 316.81 L139.76 315.92 L140.19 315.02 L140.62 314.13 L141.06 313.24 L141.52 312.35 L141.98 311.45 L142.46 310.55 L142.95 309.65 L143.50 308.66 L144.08 307.65 L144.67 306.62 L145.29 305.58 L145.91 304.54 L146.55 303.51 L147.20 302.47 L147.85 301.45 L148.51 300.45 L149.17 299.47 L149.82 298.52 L150.47 297.61 L151.11 296.73 L151.74 295.90 L152.23 295.29 L152.71 294.70 L153.19 294.14 L153.67 293.60 L154.15 293.08 L154.62 292.57 L155.10 292.07 L155.58 291.58 L156.07 291.09 L156.55 290.61 L157.04 290.12 L157.53 289.63 L158.03 289.12 L158.54 288.60 L159.07 288.05 L159.61 287.48 L160.16 286.91 L160.71 286.33 L161.26 285.76 L161.81 285.18 L162.37 284.60 L162.94 284.03 L163.50 283.47 L164.07 282.91 L164.64 282.36 L165.21 281.83 L165.79 281.31 L166.36 280.80 L166.91 280.34 L167.45 279.89 L167.99 279.44 L168.53 279.01 L169.07 278.59 L169.62 278.17 L170.17 277.76 L170.72 277.35 L171.28 276.95 L171.85 276.55 L172.42 276.16 L173.00 275.77 L173.59 275.38 L174.19 274.99 L174.84 274.58 L175.49 274.17 L176.14 273.77 L176.81 273.38 L177.47 272.99 L178.15 272.60 L178.83 272.22 L179.53 271.84 L180.23 271.46 L180.94 271.09 L181.67 270.71 L182.41 270.34 L183.17 269.97 L183.94 269.60 L184.89 269.15 L185.88 268.70 L186.91 268.24 L187.96 267.79 L189.04 267.33 L190.13 266.88 L191.22 266.44 L192.32 266.00 L193.42 265.57 L194.50 265.15 L195.56 264.74 L196.59 264.35 L197.60 263.97 L198.56 263.61 L199.31 263.34 L200.04 263.08 L200.76 262.82 L201.46 262.58 L202.15 262.35 L202.84 262.12 L203.52 261.90 L204.19 261.69 L204.86 261.47 L205.53 261.26 L206.20 261.05 L206.88 260.84 L207.56 260.62 L208.25 260.40 L208.94 260.18 L209.62 259.96 L210.28 259.74 L210.94 259.52 L211.60 259.31 L212.26 259.09 L212.92 258.88 L213.60 258.66 L214.29 258.45 L214.99 258.24 L215.72 258.03 L216.47 257.82 L217.25 257.61 L218.06 257.40 L219.25 257.12 L220.52 256.83 L221.83 256.55 L223.20 256.27 L224.61 256.00 L226.05 255.73 L227.51 255.45 L229.00 255.18 L230.49 254.92 L231.99 254.65 L233.48 254.38 L234.96 254.11 L236.42 253.83 L237.85 253.56" fill="none" stroke="#f1230d" stroke-width="2.00" stroke-dasharray="5.45 1.2" stroke-linejoin="round"/>
<path d="M134.16 371.80 L134.22 370.98 L134.27 370.16 L134.33 369.34 L134.38 368.52 L134.43 367.70 L134.48 366.88 L134.53 366.07 L134.59 365.25 L134.64 364.42 L134.70 363.60 L134.76 362.77 L134.82 361.94 L134.88 361.11 L134.95 360.27 L135.02 359.39 L135.09 358.50 L135.15 357.60 L135.22 356.70 L135.29 355.80 L135.36 354.89 L135.44 353.99 L135.52 353.08 L135.60 352.18 L135.69 351.27 L135.79 350.37 L135.90 349.48 L136.02 348.59 L136.14 347.71 L136.28 346.86 L136.43 346.02 L136.59 345.19 L136.76 344.36 L136.94 343.54 L137.12 342.72 L137.31 341.90 L137.50 341.08 L137.69 340.25 L137.88 339.43 L138.06 338.59 L138.25 337.75 L138.43 336.90 L138.60 336.03 L138.77 335.08 L138.92 334.12 L139.06 333.14 L139.19 332.16 L139.32 331.16 L139.44 330.16 L139.57 329.16 L139.71 328.16 L139.87 327.16 L140.03 326.17 L140.22 325.18 L140.44 324.20 L140.68 323.24 L140.96 322.29 L141.27 321.35 L141.61 320.43 L141.97 319.51 L142.36 318.61 L142.77 317.71 L143.19 316.81 L143.63 315.92 L144.08 315.03 L144.54 314.15 L145.01 313.26 L145.48 312.36 L145.94 311.47 L146.41 310.56 L146.87 309.65 L147.35 308.67 L147.84 307.67 L148.33 306.65 L148.84 305.62 L149.34 304.59 L149.85 303.55 L150.37 302.52 L150.89 301.50 L151.42 300.49 L151.95 299.51 L152.48 298.56 L153.02 297.63 L153.56 296.75 L154.10 295.90 L154.54 295.26 L154.99 294.64 L155.43 294.04 L155.87 293.46 L156.32 292.90 L156.77 292.35 L157.22 291.82 L157.68 291.29 L158.14 290.77 L158.60 290.25 L159.08 289.73 L159.55 289.21 L160.04 288.68 L160.53 288.15 L161.04 287.58 L161.56 287.02 L162.08 286.46 L162.61 285.90 L163.14 285.34 L163.67 284.79 L164.22 284.24 L164.77 283.69 L165.33 283.14 L165.89 282.59 L166.47 282.05 L167.06 281.52 L167.67 280.99 L168.28 280.46 L168.98 279.88 L169.70 279.30 L170.44 278.72 L171.20 278.14 L171.97 277.57 L172.75 277.00 L173.54 276.43 L174.33 275.88 L175.13 275.33 L175.93 274.79 L176.72 274.27 L177.51 273.75 L178.29 273.26 L179.07 272.77 L179.76 272.35 L180.45 271.93 L181.14 271.53 L181.83 271.13 L182.52 270.75 L183.21 270.37 L183.90 270.00 L184.59 269.64 L185.28 269.29 L185.97 268.94 L186.66 268.60 L187.35 268.26 L188.05 267.93 L188.75 267.60 L189.45 267.29 L190.14 266.98 L190.84 266.68 L191.53 266.39 L192.23 266.11 L192.93 265.83 L193.64 265.56 L194.34 265.29 L195.04 265.03 L195.75 264.76 L196.45 264.50 L197.16 264.25 L197.86 263.99 L198.56 263.73 L199.25 263.48 L199.94 263.23 L200.63 262.98 L201.33 262.73 L202.02 262.49 L202.71 262.25 L203.40 262.01 L204.09 261.78 L204.78 261.55 L205.47 261.32 L206.17 261.09 L206.86 260.86 L207.56 260.63 L208.25 260.40 L208.94 260.18 L209.61 259.96 L210.28 259.73 L210.94 259.52 L211.60 259.30 L212.26 259.08 L212.92 258.87 L213.60 258.66 L214.29 258.44 L214.99 258.23 L215.72 258.03 L216.47 257.82 L217.25 257.61 L218.06 257.40 L219.25 257.12 L220.52 256.83 L221.83 256.55 L223.20 256.27 L224.61 256.00 L226.05 255.73 L227.51 255.45 L229.00 255.18 L230.49 254.92 L231.99 254.65 L233.48 254.38 L234.96 254.11 L236.42 253.83 L237.85 253.56" fill="none" stroke="#169ee9" stroke-width="2.00" stroke-dasharray="5.45 1.2" stroke-linejoin="round"/>
<path d="M142.95 371.80 L142.95 370.98 L142.95 370.16 L142.95 369.34 L142.95 368.52 L142.95 367.70 L142.94 366.89 L142.94 366.07 L142.94 365.25 L142.94 364.43 L142.94 363.60 L142.94 362.77 L142.94 361.94 L142.95 361.11 L142.95 360.27 L142.96 359.39 L142.97 358.50 L142.98 357.61 L142.98 356.71 L142.99 355.81 L143.01 354.90 L143.02 353.99 L143.03 353.09 L143.05 352.18 L143.06 351.28 L143.08 350.38 L143.10 349.48 L143.12 348.59 L143.14 347.71 L143.17 346.86 L143.18 346.03 L143.20 345.19 L143.22 344.37 L143.23 343.54 L143.25 342.72 L143.27 341.90 L143.30 341.08 L143.33 340.25 L143.37 339.42 L143.41 338.58 L143.47 337.74 L143.54 336.89 L143.62 336.03 L143.72 335.08 L143.82 334.12 L143.93 333.16 L144.05 332.18 L144.18 331.20 L144.32 330.22 L144.47 329.23 L144.62 328.24 L144.79 327.24 L144.97 326.25 L145.17 325.26 L145.38 324.26 L145.60 323.27 L145.83 322.29 L146.10 321.25 L146.38 320.21 L146.68 319.16 L146.99 318.10 L147.32 317.05 L147.66 315.99 L148.01 314.94 L148.38 313.89 L148.75 312.85 L149.13 311.81 L149.52 310.79 L149.91 309.78 L150.31 308.78 L150.71 307.80 L151.09 306.90 L151.48 306.00 L151.87 305.11 L152.28 304.23 L152.69 303.35 L153.11 302.48 L153.54 301.62 L153.97 300.77 L154.40 299.93 L154.84 299.10 L155.28 298.28 L155.72 297.47 L156.17 296.68 L156.62 295.90 L157.01 295.23 L157.41 294.56 L157.81 293.90 L158.20 293.24 L158.61 292.60 L159.01 291.97 L159.42 291.34 L159.83 290.73 L160.25 290.12 L160.67 289.52 L161.11 288.93 L161.54 288.35 L161.99 287.77 L162.45 287.20 L162.89 286.66 L163.34 286.14 L163.80 285.62 L164.25 285.12 L164.72 284.62 L165.18 284.13 L165.66 283.64 L166.14 283.16 L166.63 282.69 L167.14 282.21 L167.65 281.74 L168.17 281.26 L168.70 280.79 L169.24 280.31 L169.87 279.77 L170.52 279.23 L171.19 278.68 L171.87 278.14 L172.56 277.59 L173.27 277.05 L173.99 276.51 L174.71 275.98 L175.43 275.46 L176.16 274.94 L176.89 274.44 L177.62 273.94 L178.35 273.46 L179.07 273.00 L179.75 272.56 L180.43 272.14 L181.11 271.73 L181.80 271.33 L182.49 270.93 L183.18 270.55 L183.87 270.17 L184.56 269.80 L185.25 269.43 L185.95 269.07 L186.65 268.72 L187.35 268.38 L188.05 268.04 L188.75 267.70 L189.44 267.39 L190.14 267.08 L190.83 266.78 L191.53 266.48 L192.23 266.20 L192.93 265.92 L193.64 265.65 L194.34 265.38 L195.04 265.11 L195.75 264.85 L196.45 264.59 L197.16 264.32 L197.86 264.06 L198.56 263.80 L199.25 263.55 L199.94 263.29 L200.63 263.04 L201.33 262.79 L202.02 262.54 L202.71 262.29 L203.40 262.05 L204.09 261.81 L204.78 261.57 L205.47 261.33 L206.17 261.10 L206.86 260.86 L207.55 260.63 L208.25 260.40 L208.94 260.18 L209.61 259.95 L210.28 259.73 L210.94 259.51 L211.60 259.29 L212.26 259.08 L212.92 258.86 L213.60 258.65 L214.29 258.44 L214.99 258.23 L215.72 258.02 L216.47 257.82 L217.25 257.61 L218.06 257.40 L219.25 257.12 L220.52 256.83 L221.83 256.55 L223.20 256.27 L224.61 256.00 L226.05 255.73 L227.51 255.45 L229.00 255.18 L230.49 254.92 L231.99 254.65 L233.48 254.38 L234.96 254.11 L236.42 253.83 L237.85 253.56" fill="none" stroke="#50444a" stroke-width="2.00" stroke-dasharray="5.45 1.2" stroke-linejoin="round"/>
<path d="M135.49 224.00 L144.06 224.00" fill="none" stroke="#63555a" stroke-width="1.90" stroke-linejoin="round"/>
<path d="M126.34 224.00 L135.49 224.00" fill="none" stroke="#169ee9" stroke-width="1.90" stroke-linejoin="round"/>
<path d="M90.15 224.00 L126.34 224.00" fill="none" stroke="#f1230d" stroke-width="1.90" stroke-linejoin="round"/>
<rect x="88.75" y="222.50" width="150.50" height="150.70" fill="none" stroke="#9a9a9a" stroke-width="1.15"/>
<path d="M90.15 373.20 v-2.80 M90.15 222.50 v2.80 M88.75 371.80 h2.80 M239.25 371.80 h-2.80 M97.54 373.20 v-1.60 M97.54 222.50 v1.60 M88.75 364.41 h1.60 M239.25 364.41 h-1.60 M104.92 373.20 v-1.60 M104.92 222.50 v1.60 M88.75 357.02 h1.60 M239.25 357.02 h-1.60 M112.31 373.20 v-1.60 M112.31 222.50 v1.60 M88.75 349.63 h1.60 M239.25 349.63 h-1.60 M119.69 373.20 v-2.80 M119.69 222.50 v2.80 M88.75 342.24 h2.80 M239.25 342.24 h-2.80 M127.08 373.20 v-1.60 M127.08 222.50 v1.60 M88.75 334.85 h1.60 M239.25 334.85 h-1.60 M134.46 373.20 v-1.60 M134.46 222.50 v1.60 M88.75 327.46 h1.60 M239.25 327.46 h-1.60 M141.84 373.20 v-1.60 M141.84 222.50 v1.60 M88.75 320.07 h1.60 M239.25 320.07 h-1.60 M149.23 373.20 v-2.80 M149.23 222.50 v2.80 M88.75 312.68 h2.80 M239.25 312.68 h-2.80 M156.62 373.20 v-1.60 M156.62 222.50 v1.60 M88.75 305.29 h1.60 M239.25 305.29 h-1.60 M164.00 373.20 v-1.60 M164.00 222.50 v1.60 M88.75 297.90 h1.60 M239.25 297.90 h-1.60 M171.38 373.20 v-1.60 M171.38 222.50 v1.60 M88.75 290.51 h1.60 M239.25 290.51 h-1.60 M178.77 373.20 v-2.80 M178.77 222.50 v2.80 M88.75 283.12 h2.80 M239.25 283.12 h-2.80 M186.16 373.20 v-1.60 M186.16 222.50 v1.60 M88.75 275.73 h1.60 M239.25 275.73 h-1.60 M193.54 373.20 v-1.60 M193.54 222.50 v1.60 M88.75 268.34 h1.60 M239.25 268.34 h-1.60 M200.93 373.20 v-1.60 M200.93 222.50 v1.60 M88.75 260.95 h1.60 M239.25 260.95 h-1.60 M208.31 373.20 v-2.80 M208.31 222.50 v2.80 M88.75 253.56 h2.80 M239.25 253.56 h-2.80 M215.69 373.20 v-1.60 M215.69 222.50 v1.60 M88.75 246.17 h1.60 M239.25 246.17 h-1.60 M223.08 373.20 v-1.60 M223.08 222.50 v1.60 M88.75 238.78 h1.60 M239.25 238.78 h-1.60 M230.46 373.20 v-1.60 M230.46 222.50 v1.60 M88.75 231.39 h1.60 M239.25 231.39 h-1.60 M237.85 373.20 v-2.80 M237.85 222.50 v2.80 M88.75 224.00 h2.80 M239.25 224.00 h-2.80" stroke="#505050" stroke-width="0.75" fill="none"/>
</g>
<g>
<path d="M269.50 368.11 L270.16 368.02 L270.81 367.94 L271.47 367.86 L272.13 367.79 L272.78 367.71 L273.44 367.63 L274.09 367.56 L274.75 367.48 L275.41 367.39 L276.07 367.31 L276.73 367.22 L277.39 367.13 L278.05 367.03 L278.72 366.92 L279.41 366.81 L280.11 366.70 L280.82 366.58 L281.53 366.46 L282.24 366.34 L282.95 366.21 L283.66 366.08 L284.37 365.94 L285.08 365.80 L285.78 365.65 L286.47 365.50 L287.15 365.34 L287.82 365.17 L288.48 365.00 L289.07 364.84 L289.66 364.67 L290.24 364.51 L290.82 364.33 L291.40 364.16 L291.97 363.98 L292.53 363.79 L293.09 363.60 L293.64 363.40 L294.18 363.19 L294.71 362.97 L295.24 362.75 L295.76 362.51 L296.26 362.27 L296.72 362.03 L297.18 361.79 L297.63 361.54 L298.08 361.28 L298.52 361.02 L298.95 360.75 L299.38 360.47 L299.80 360.19 L300.21 359.90 L300.61 359.60 L301.00 359.30 L301.38 358.99 L301.75 358.67 L302.11 358.35 L302.44 358.04 L302.76 357.73 L303.06 357.41 L303.36 357.09 L303.64 356.77 L303.92 356.44 L304.19 356.10 L304.46 355.75 L304.72 355.40 L304.98 355.04 L305.24 354.67 L305.50 354.29 L305.75 353.90 L306.01 353.50 L306.31 353.02 L306.61 352.51 L306.90 351.99 L307.19 351.46 L307.47 350.91 L307.75 350.35 L308.02 349.78 L308.30 349.21 L308.57 348.63 L308.84 348.04 L309.10 347.46 L309.37 346.87 L309.64 346.28 L309.91 345.70 L310.20 345.07 L310.49 344.44 L310.78 343.79 L311.07 343.13 L311.36 342.47 L311.65 341.80 L311.94 341.13 L312.22 340.47 L312.50 339.81 L312.78 339.16 L313.05 338.52 L313.31 337.90 L313.56 337.29 L313.81 336.70 L314.00 336.24 L314.18 335.80 L314.35 335.37 L314.52 334.95 L314.68 334.55 L314.84 334.15 L314.99 333.75 L315.15 333.34 L315.31 332.94 L315.47 332.52 L315.64 332.09 L315.82 331.65 L316.01 331.19 L316.20 330.71 L316.49 330.01 L316.79 329.28 L317.11 328.52 L317.44 327.73 L317.77 326.92 L318.12 326.10 L318.47 325.26 L318.83 324.42 L319.19 323.58 L319.55 322.73 L319.92 321.90 L320.28 321.08 L320.64 320.28 L321.00 319.49 L321.34 318.77 L321.68 318.05 L322.02 317.34 L322.35 316.63 L322.69 315.92 L323.03 315.22 L323.38 314.53 L323.73 313.83 L324.08 313.14 L324.43 312.45 L324.79 311.76 L325.16 311.07 L325.53 310.38 L325.91 309.69 L326.30 308.99 L326.69 308.29 L327.08 307.60 L327.48 306.90 L327.88 306.21 L328.28 305.52 L328.69 304.83 L329.11 304.14 L329.53 303.45 L329.97 302.76 L330.41 302.07 L330.86 301.38 L331.33 300.69 L331.80 300.00 L332.33 299.24 L332.87 298.48 L333.43 297.72 L334.00 296.95 L334.58 296.17 L335.17 295.40 L335.77 294.64 L336.37 293.87 L336.98 293.12 L337.60 292.37 L338.22 291.63 L338.85 290.91 L339.47 290.20 L340.10 289.50 L340.70 288.86 L341.30 288.23 L341.90 287.60 L342.50 286.99 L343.11 286.39 L343.72 285.79 L344.34 285.20 L344.97 284.62 L345.60 284.04 L346.24 283.47 L346.89 282.90 L347.55 282.33 L348.22 281.76 L348.90 281.20 L349.65 280.59 L350.41 279.98 L351.20 279.36 L352.00 278.74 L352.81 278.12 L353.63 277.51 L354.45 276.90 L355.28 276.31 L356.10 275.74 L356.92 275.18 L357.74 274.65 L358.54 274.14 L359.33 273.66 L360.10 273.22 L360.71 272.89 L361.31 272.58 L361.90 272.30 L362.49 272.04 L363.07 271.79 L363.64 271.56 L364.22 271.33 L364.80 271.11 L365.38 270.89 L365.96 270.67 L366.56 270.44 L367.16 270.20 L367.77 269.94 L368.40 269.67 L369.14 269.33 L369.88 268.99 L370.63 268.63 L371.38 268.27 L372.14 267.90 L372.91 267.52 L373.68 267.14 L374.47 266.76 L375.28 266.38 L376.10 265.99 L376.94 265.61 L377.80 265.24 L378.69 264.86 L379.60 264.50 L380.81 264.03 L382.09 263.55 L383.41 263.07 L384.77 262.59 L386.16 262.11 L387.59 261.64 L389.03 261.16 L390.48 260.70 L391.94 260.24 L393.40 259.78 L394.86 259.34 L396.30 258.91 L397.72 258.50 L399.11 258.10 L400.41 257.73 L401.72 257.38 L403.02 257.05 L404.31 256.72 L405.60 256.41 L406.89 256.10 L408.18 255.80 L409.47 255.50 L410.76 255.21 L412.04 254.91 L413.33 254.62 L414.62 254.32 L415.91 254.02 L417.20 253.71 L417.20 372.60 L269.50 372.60 Z" fill="#1a7399" stroke="none"/>
<path d="M417.20 254.67 L415.91 255.05 L414.62 255.43 L413.33 255.80 L412.04 256.17 L410.76 256.54 L409.47 256.91 L408.18 257.29 L406.89 257.66 L405.60 258.05 L404.31 258.43 L403.02 258.83 L401.72 259.24 L400.41 259.66 L399.11 260.09 L397.72 260.56 L396.30 261.03 L394.87 261.51 L393.42 262.00 L391.97 262.50 L390.52 263.01 L389.07 263.52 L387.63 264.04 L386.21 264.58 L384.82 265.12 L383.45 265.67 L382.12 266.24 L380.84 266.81 L379.60 267.39 L378.59 267.89 L377.60 268.40 L376.63 268.92 L375.67 269.44 L374.74 269.97 L373.82 270.51 L372.92 271.05 L372.04 271.60 L371.17 272.15 L370.33 272.71 L369.50 273.28 L368.69 273.84 L367.90 274.42 L367.13 274.99 L366.49 275.48 L365.86 275.97 L365.25 276.47 L364.66 276.96 L364.08 277.46 L363.52 277.96 L362.96 278.46 L362.42 278.98 L361.88 279.50 L361.35 280.02 L360.83 280.56 L360.32 281.11 L359.81 281.66 L359.30 282.23 L358.79 282.83 L358.28 283.45 L357.77 284.08 L357.28 284.72 L356.79 285.37 L356.31 286.02 L355.84 286.69 L355.38 287.36 L354.92 288.03 L354.48 288.71 L354.04 289.38 L353.62 290.06 L353.21 290.73 L352.80 291.40 L352.43 292.02 L352.08 292.64 L351.73 293.26 L351.38 293.89 L351.05 294.52 L350.73 295.14 L350.41 295.77 L350.10 296.40 L349.80 297.03 L349.51 297.66 L349.22 298.30 L348.94 298.93 L348.67 299.57 L348.40 300.21 L348.15 300.82 L347.90 301.44 L347.66 302.06 L347.43 302.68 L347.20 303.30 L346.98 303.93 L346.77 304.55 L346.56 305.18 L346.37 305.81 L346.18 306.44 L346.00 307.07 L345.82 307.71 L345.66 308.35 L345.51 309.00 L345.36 309.67 L345.23 310.34 L345.12 311.02 L345.01 311.70 L344.92 312.38 L344.83 313.07 L344.75 313.76 L344.68 314.45 L344.60 315.14 L344.53 315.83 L344.45 316.53 L344.38 317.22 L344.30 317.91 L344.21 318.59 L344.21 318.59 L344.26 319.22 L344.31 319.85 L344.35 320.48 L344.39 321.11 L344.43 321.74 L344.47 322.37 L344.51 323.01 L344.55 323.64 L344.61 324.27 L344.66 324.89 L344.73 325.52 L344.81 326.15 L344.90 326.78 L345.00 327.40 L345.12 328.03 L345.24 328.67 L345.37 329.30 L345.51 329.94 L345.65 330.57 L345.80 331.20 L345.96 331.84 L346.13 332.47 L346.31 333.09 L346.50 333.72 L346.71 334.34 L346.92 334.96 L347.15 335.58 L347.40 336.19 L347.67 336.84 L347.95 337.49 L348.25 338.15 L348.56 338.81 L348.88 339.47 L349.22 340.13 L349.57 340.78 L349.92 341.42 L350.30 342.05 L350.68 342.66 L351.07 343.26 L351.47 343.83 L351.88 344.38 L352.30 344.90 L352.68 345.34 L353.07 345.75 L353.46 346.15 L353.86 346.53 L354.26 346.89 L354.68 347.24 L355.10 347.58 L355.54 347.91 L355.98 348.24 L356.44 348.57 L356.91 348.90 L357.40 349.23 L357.90 349.58 L358.42 349.93 L359.11 350.39 L359.83 350.86 L360.57 351.34 L361.34 351.82 L362.13 352.30 L362.94 352.79 L363.77 353.26 L364.62 353.73 L365.48 354.19 L366.35 354.64 L367.24 355.08 L368.13 355.50 L369.03 355.90 L369.94 356.28 L370.95 356.68 L371.99 357.06 L373.05 357.42 L374.13 357.77 L375.23 358.10 L376.34 358.42 L377.46 358.72 L378.59 359.01 L379.72 359.29 L380.86 359.55 L382.00 359.81 L383.13 360.05 L384.25 360.28 L385.37 360.51 L386.47 360.71 L387.56 360.90 L388.65 361.07 L389.75 361.23 L390.85 361.38 L391.94 361.51 L393.04 361.64 L394.14 361.75 L395.25 361.87 L396.35 361.97 L397.46 362.08 L398.57 362.19 L399.69 362.30 L400.81 362.41 L401.96 362.53 L403.12 362.64 L404.28 362.75 L405.45 362.86 L406.62 362.96 L407.79 363.06 L408.97 363.15 L410.15 363.25 L411.32 363.34 L412.50 363.43 L413.68 363.53 L414.85 363.62 L416.03 363.72 L417.20 363.82 Z" fill="#beaed3" stroke="none"/>
<path d="M417.20 255.63 L416.26 255.94 L415.32 256.25 L414.38 256.56 L413.44 256.86 L412.50 257.17 L411.57 257.47 L410.63 257.77 L409.69 258.08 L408.75 258.40 L407.81 258.72 L406.86 259.05 L405.91 259.38 L404.95 259.73 L404.00 260.09 L402.95 260.49 L401.89 260.90 L400.82 261.31 L399.73 261.74 L398.64 262.17 L397.54 262.61 L396.45 263.06 L395.37 263.52 L394.29 263.98 L393.24 264.45 L392.21 264.93 L391.20 265.41 L390.23 265.91 L389.28 266.40 L388.50 266.84 L387.74 267.29 L386.98 267.76 L386.24 268.24 L385.51 268.72 L384.79 269.21 L384.09 269.70 L383.41 270.18 L382.73 270.67 L382.08 271.14 L381.43 271.61 L380.80 272.06 L380.19 272.50 L379.60 272.92 L379.16 273.22 L378.73 273.50 L378.32 273.77 L377.92 274.03 L377.53 274.28 L377.14 274.53 L376.76 274.78 L376.39 275.03 L376.02 275.29 L375.66 275.56 L375.29 275.84 L374.93 276.14 L374.57 276.46 L374.20 276.81 L373.76 277.26 L373.31 277.74 L372.87 278.24 L372.42 278.77 L371.98 279.32 L371.54 279.88 L371.11 280.46 L370.69 281.04 L370.28 281.64 L369.87 282.23 L369.48 282.83 L369.10 283.43 L368.74 284.02 L368.40 284.60 L368.09 285.14 L367.79 285.68 L367.51 286.23 L367.23 286.78 L366.96 287.34 L366.71 287.89 L366.46 288.45 L366.22 289.01 L366.00 289.57 L365.78 290.14 L365.57 290.70 L365.37 291.27 L365.18 291.83 L365.00 292.40 L364.84 292.95 L364.70 293.50 L364.56 294.06 L364.45 294.61 L364.34 295.17 L364.24 295.73 L364.14 296.29 L364.05 296.85 L363.96 297.41 L363.88 297.97 L363.79 298.53 L363.70 299.09 L363.60 299.65 L363.50 300.21 L363.50 300.21 L363.53 300.62 L363.56 301.05 L363.59 301.48 L363.62 301.91 L363.64 302.34 L363.67 302.77 L363.70 303.20 L363.73 303.63 L363.76 304.05 L363.80 304.46 L363.84 304.87 L363.88 305.27 L363.94 305.65 L364.00 306.03 L364.05 306.32 L364.11 306.60 L364.16 306.87 L364.22 307.13 L364.29 307.39 L364.35 307.64 L364.42 307.89 L364.49 308.14 L364.56 308.39 L364.64 308.65 L364.73 308.92 L364.81 309.20 L364.91 309.49 L365.00 309.80 L365.15 310.27 L365.32 310.77 L365.49 311.29 L365.67 311.84 L365.86 312.40 L366.06 312.97 L366.26 313.55 L366.48 314.13 L366.70 314.72 L366.92 315.31 L367.16 315.90 L367.40 316.48 L367.65 317.05 L367.90 317.60 L368.16 318.17 L368.44 318.74 L368.71 319.30 L369.00 319.86 L369.29 320.43 L369.59 320.99 L369.89 321.55 L370.21 322.10 L370.53 322.66 L370.87 323.21 L371.21 323.76 L371.56 324.31 L371.92 324.85 L372.30 325.39 L372.72 325.97 L373.15 326.55 L373.59 327.13 L374.05 327.71 L374.52 328.29 L375.00 328.87 L375.49 329.44 L375.98 330.00 L376.49 330.56 L377.00 331.11 L377.52 331.65 L378.04 332.18 L378.56 332.69 L379.09 333.19 L379.61 333.67 L380.13 334.13 L380.66 334.58 L381.19 335.01 L381.73 335.44 L382.27 335.86 L382.82 336.27 L383.38 336.68 L383.94 337.09 L384.51 337.49 L385.09 337.89 L385.68 338.29 L386.28 338.70 L386.89 339.11 L387.58 339.57 L388.28 340.03 L388.98 340.49 L389.69 340.96 L390.41 341.41 L391.14 341.87 L391.88 342.33 L392.63 342.78 L393.41 343.23 L394.20 343.67 L395.01 344.11 L395.85 344.55 L396.71 344.98 L397.60 345.40 L398.80 345.94 L400.06 346.47 L401.37 346.99 L402.73 347.50 L404.12 348.01 L405.55 348.51 L407.00 349.00 L408.46 349.49 L409.93 349.98 L411.41 350.46 L412.88 350.95 L414.34 351.44 L415.78 351.94 L417.20 352.44 Z" fill="#b3e6ed" stroke="none"/>
<path d="M417.20 255.63 L416.26 255.94 L415.32 256.25 L414.38 256.56 L413.44 256.86 L412.50 257.17 L411.57 257.47 L410.63 257.77 L409.69 258.08 L408.75 258.40 L407.81 258.72 L406.86 259.05 L405.91 259.38 L404.95 259.73 L404.00 260.09 L402.95 260.49 L401.89 260.90 L400.82 261.31 L399.73 261.74 L398.64 262.17 L397.54 262.61 L396.45 263.06 L395.37 263.52 L394.29 263.98 L393.24 264.45 L392.21 264.93 L391.20 265.41 L390.23 265.91 L389.28 266.40 L388.50 266.84 L387.74 267.29 L386.98 267.76 L386.24 268.24 L385.51 268.72 L384.79 269.21 L384.09 269.70 L383.41 270.18 L382.73 270.67 L382.08 271.14 L381.43 271.61 L380.80 272.06 L380.19 272.50 L379.60 272.92 L379.16 273.22 L378.73 273.50 L378.32 273.77 L377.92 274.03 L377.53 274.28 L377.14 274.53 L376.76 274.78 L376.39 275.03 L376.02 275.29 L375.66 275.56 L375.29 275.84 L374.93 276.14 L374.57 276.46 L374.20 276.81 L373.76 277.26 L373.31 277.74 L372.87 278.24 L372.42 278.77 L371.98 279.32 L371.54 279.88 L371.11 280.46 L370.69 281.04 L370.28 281.64 L369.87 282.23 L369.48 282.83 L369.10 283.43 L368.74 284.02 L368.40 284.60 L368.09 285.14 L367.79 285.68 L367.51 286.23 L367.23 286.78 L366.96 287.34 L366.71 287.89 L366.46 288.45 L366.22 289.01 L366.00 289.57 L365.78 290.14 L365.57 290.70 L365.37 291.27 L365.18 291.83 L365.00 292.40 L364.84 292.95 L364.70 293.50 L364.56 294.06 L364.45 294.61 L364.34 295.17 L364.24 295.73 L364.14 296.29 L364.05 296.85 L363.96 297.41 L363.88 297.97 L363.79 298.53 L363.70 299.09 L363.60 299.65 L363.50 300.21" fill="none" stroke="#50444a" stroke-width="2.00" stroke-dasharray="5.45 1.2" stroke-linejoin="round"/>
<path d="M363.50 300.21 L363.53 300.62 L363.56 301.05 L363.59 301.48 L363.62 301.91 L363.64 302.34 L363.67 302.77 L363.70 303.20 L363.73 303.63 L363.76 304.05 L363.80 304.46 L363.84 304.87 L363.88 305.27 L363.94 305.65 L364.00 306.03 L364.05 306.32 L364.11 306.60 L364.16 306.87 L364.22 307.13 L364.29 307.39 L364.35 307.64 L364.42 307.89 L364.49 308.14 L364.56 308.39 L364.64 308.65 L364.73 308.92 L364.81 309.20 L364.91 309.49 L365.00 309.80 L365.15 310.27 L365.32 310.77 L365.49 311.29 L365.67 311.84 L365.86 312.40 L366.06 312.97 L366.26 313.55 L366.48 314.13 L366.70 314.72 L366.92 315.31 L367.16 315.90 L367.40 316.48 L367.65 317.05 L367.90 317.60 L368.16 318.17 L368.44 318.74 L368.71 319.30 L369.00 319.86 L369.29 320.43 L369.59 320.99 L369.89 321.55 L370.21 322.10 L370.53 322.66 L370.87 323.21 L371.21 323.76 L371.56 324.31 L371.92 324.85 L372.30 325.39 L372.72 325.97 L373.15 326.55 L373.59 327.13 L374.05 327.71 L374.52 328.29 L375.00 328.87 L375.49 329.44 L375.98 330.00 L376.49 330.56 L377.00 331.11 L377.52 331.65 L378.04 332.18 L378.56 332.69 L379.09 333.19 L379.61 333.67 L380.13 334.13 L380.66 334.58 L381.19 335.01 L381.73 335.44 L382.27 335.86 L382.82 336.27 L383.38 336.68 L383.94 337.09 L384.51 337.49 L385.09 337.89 L385.68 338.29 L386.28 338.70 L386.89 339.11 L387.58 339.57 L388.28 340.03 L388.98 340.49 L389.69 340.96 L390.41 341.41 L391.14 341.87 L391.88 342.33 L392.63 342.78 L393.41 343.23 L394.20 343.67 L395.01 344.11 L395.85 344.55 L396.71 344.98 L397.60 345.40 L398.80 345.94 L400.06 346.47 L401.37 346.99 L402.73 347.50 L404.12 348.01 L405.55 348.51 L407.00 349.00 L408.46 349.49 L409.93 349.98 L411.41 350.46 L412.88 350.95 L414.34 351.44 L415.78 351.94 L417.20 352.44" fill="none" stroke="#50444a" stroke-width="2.00" stroke-linejoin="round"/>
<path d="M417.20 254.67 L415.91 255.05 L414.62 255.43 L413.33 255.80 L412.04 256.17 L410.76 256.54 L409.47 256.91 L408.18 257.29 L406.89 257.66 L405.60 258.05 L404.31 258.43 L403.02 258.83 L401.72 259.24 L400.41 259.66 L399.11 260.09 L397.72 260.56 L396.30 261.03 L394.87 261.51 L393.42 262.00 L391.97 262.50 L390.52 263.01 L389.07 263.52 L387.63 264.04 L386.21 264.58 L384.82 265.12 L383.45 265.67 L382.12 266.24 L380.84 266.81 L379.60 267.39 L378.59 267.89 L377.60 268.40 L376.63 268.92 L375.67 269.44 L374.74 269.97 L373.82 270.51 L372.92 271.05 L372.04 271.60 L371.17 272.15 L370.33 272.71 L369.50 273.28 L368.69 273.84 L367.90 274.42 L367.13 274.99 L366.49 275.48 L365.86 275.97 L365.25 276.47 L364.66 276.96 L364.08 277.46 L363.52 277.96 L362.96 278.46 L362.42 278.98 L361.88 279.50 L361.35 280.02 L360.83 280.56 L360.32 281.11 L359.81 281.66 L359.30 282.23 L358.79 282.83 L358.28 283.45 L357.77 284.08 L357.28 284.72 L356.79 285.37 L356.31 286.02 L355.84 286.69 L355.38 287.36 L354.92 288.03 L354.48 288.71 L354.04 289.38 L353.62 290.06 L353.21 290.73 L352.80 291.40 L352.43 292.02 L352.08 292.64 L351.73 293.26 L351.38 293.89 L351.05 294.52 L350.73 295.14 L350.41 295.77 L350.10 296.40 L349.80 297.03 L349.51 297.66 L349.22 298.30 L348.94 298.93 L348.67 299.57 L348.40 300.21 L348.15 300.82 L347.90 301.44 L347.66 302.06 L347.43 302.68 L347.20 303.30 L346.98 303.93 L346.77 304.55 L346.56 305.18 L346.37 305.81 L346.18 306.44 L346.00 307.07 L345.82 307.71 L345.66 308.35 L345.51 309.00 L345.36 309.67 L345.23 310.34 L345.12 311.02 L345.01 311.70 L344.92 312.38 L344.83 313.07 L344.75 313.76 L344.68 314.45 L344.60 315.14 L344.53 315.83 L344.45 316.53 L344.38 317.22 L344.30 317.91 L344.21 318.59" fill="none" stroke="#169ee9" stroke-width="2.00" stroke-dasharray="5.45 1.2" stroke-linejoin="round"/>
<path d="M344.21 318.59 L344.26 319.22 L344.31 319.85 L344.35 320.48 L344.39 321.11 L344.43 321.74 L344.47 322.37 L344.51 323.01 L344.55 323.64 L344.61 324.27 L344.66 324.89 L344.73 325.52 L344.81 326.15 L344.90 326.78 L345.00 327.40 L345.12 328.03 L345.24 328.67 L345.37 329.30 L345.51 329.94 L345.65 330.57 L345.80 331.20 L345.96 331.84 L346.13 332.47 L346.31 333.09 L346.50 333.72 L346.71 334.34 L346.92 334.96 L347.15 335.58 L347.40 336.19 L347.67 336.84 L347.95 337.49 L348.25 338.15 L348.56 338.81 L348.88 339.47 L349.22 340.13 L349.57 340.78 L349.92 341.42 L350.30 342.05 L350.68 342.66 L351.07 343.26 L351.47 343.83 L351.88 344.38 L352.30 344.90 L352.68 345.34 L353.07 345.75 L353.46 346.15 L353.86 346.53 L354.26 346.89 L354.68 347.24 L355.10 347.58 L355.54 347.91 L355.98 348.24 L356.44 348.57 L356.91 348.90 L357.40 349.23 L357.90 349.58 L358.42 349.93 L359.11 350.39 L359.83 350.86 L360.57 351.34 L361.34 351.82 L362.13 352.30 L362.94 352.79 L363.77 353.26 L364.62 353.73 L365.48 354.19 L366.35 354.64 L367.24 355.08 L368.13 355.50 L369.03 355.90 L369.94 356.28 L370.95 356.68 L371.99 357.06 L373.05 357.42 L374.13 357.77 L375.23 358.10 L376.34 358.42 L377.46 358.72 L378.59 359.01 L379.72 359.29 L380.86 359.55 L382.00 359.81 L383.13 360.05 L384.25 360.28 L385.37 360.51 L386.47 360.71 L387.56 360.90 L388.65 361.07 L389.75 361.23 L390.85 361.38 L391.94 361.51 L393.04 361.64 L394.14 361.75 L395.25 361.87 L396.35 361.97 L397.46 362.08 L398.57 362.19 L399.69 362.30 L400.81 362.41 L401.96 362.53 L403.12 362.64 L404.28 362.75 L405.45 362.86 L406.62 362.96 L407.79 363.06 L408.97 363.15 L410.15 363.25 L411.32 363.34 L412.50 363.43 L413.68 363.53 L414.85 363.62 L416.03 363.72 L417.20 363.82" fill="none" stroke="#169ee9" stroke-width="2.00" stroke-linejoin="round"/>
<path d="M269.50 368.11 L270.16 368.02 L270.81 367.94 L271.47 367.86 L272.13 367.79 L272.78 367.71 L273.44 367.63 L274.09 367.56 L274.75 367.48 L275.41 367.39 L276.07 367.31 L276.73 367.22 L277.39 367.13 L278.05 367.03 L278.72 366.92 L279.41 366.81 L280.11 366.70 L280.82 366.58 L281.53 366.46 L282.24 366.34 L282.95 366.21 L283.66 366.08 L284.37 365.94 L285.08 365.80 L285.78 365.65 L286.47 365.50 L287.15 365.34 L287.82 365.17 L288.48 365.00 L289.07 364.84 L289.66 364.67 L290.24 364.51 L290.82 364.33 L291.40 364.16 L291.97 363.98 L292.53 363.79 L293.09 363.60 L293.64 363.40 L294.18 363.19 L294.71 362.97 L295.24 362.75 L295.76 362.51 L296.26 362.27 L296.72 362.03 L297.18 361.79 L297.63 361.54 L298.08 361.28 L298.52 361.02 L298.95 360.75 L299.38 360.47 L299.80 360.19 L300.21 359.90 L300.61 359.60 L301.00 359.30 L301.38 358.99 L301.75 358.67 L302.11 358.35 L302.44 358.04 L302.76 357.73 L303.06 357.41 L303.36 357.09 L303.64 356.77 L303.92 356.44 L304.19 356.10 L304.46 355.75 L304.72 355.40 L304.98 355.04 L305.24 354.67 L305.50 354.29 L305.75 353.90 L306.01 353.50 L306.31 353.02 L306.61 352.51 L306.90 351.99 L307.19 351.46 L307.47 350.91 L307.75 350.35 L308.02 349.78 L308.30 349.21 L308.57 348.63 L308.84 348.04 L309.10 347.46 L309.37 346.87 L309.64 346.28 L309.91 345.70 L310.20 345.07 L310.49 344.44 L310.78 343.79 L311.07 343.13 L311.36 342.47 L311.65 341.80 L311.94 341.13 L312.22 340.47 L312.50 339.81 L312.78 339.16 L313.05 338.52 L313.31 337.90 L313.56 337.29 L313.81 336.70 L314.00 336.24 L314.18 335.80 L314.35 335.37 L314.52 334.95 L314.68 334.55 L314.84 334.15 L314.99 333.75 L315.15 333.34 L315.31 332.94 L315.47 332.52 L315.64 332.09 L315.82 331.65 L316.01 331.19 L316.20 330.71 L316.49 330.01 L316.79 329.28 L317.11 328.52 L317.44 327.73 L317.77 326.92 L318.12 326.10 L318.47 325.26 L318.83 324.42 L319.19 323.58 L319.55 322.73 L319.92 321.90 L320.28 321.08 L320.64 320.28 L321.00 319.49 L321.34 318.77 L321.68 318.05 L322.02 317.34 L322.35 316.63 L322.69 315.92 L323.03 315.22 L323.38 314.53 L323.73 313.83 L324.08 313.14 L324.43 312.45 L324.79 311.76 L325.16 311.07 L325.53 310.38 L325.91 309.69 L326.30 308.99 L326.69 308.29 L327.08 307.60 L327.48 306.90 L327.88 306.21 L328.28 305.52 L328.69 304.83 L329.11 304.14 L329.53 303.45 L329.97 302.76 L330.41 302.07 L330.86 301.38 L331.33 300.69 L331.80 300.00 L332.33 299.24 L332.87 298.48 L333.43 297.72 L334.00 296.95 L334.58 296.17 L335.17 295.40 L335.77 294.64 L336.37 293.87 L336.98 293.12 L337.60 292.37 L338.22 291.63 L338.85 290.91 L339.47 290.20 L340.10 289.50 L340.70 288.86 L341.30 288.23 L341.90 287.60 L342.50 286.99 L343.11 286.39 L343.72 285.79 L344.34 285.20 L344.97 284.62 L345.60 284.04 L346.24 283.47 L346.89 282.90 L347.55 282.33 L348.22 281.76 L348.90 281.20 L349.65 280.59 L350.41 279.98 L351.20 279.36 L352.00 278.74 L352.81 278.12 L353.63 277.51 L354.45 276.90 L355.28 276.31 L356.10 275.74 L356.92 275.18 L357.74 274.65 L358.54 274.14 L359.33 273.66 L360.10 273.22 L360.71 272.89 L361.31 272.58 L361.90 272.30 L362.49 272.04 L363.07 271.79 L363.64 271.56 L364.22 271.33 L364.80 271.11 L365.38 270.89 L365.96 270.67 L366.56 270.44 L367.16 270.20 L367.77 269.94 L368.40 269.67 L369.14 269.33 L369.88 268.99 L370.63 268.63 L371.38 268.27 L372.14 267.90 L372.91 267.52 L373.68 267.14 L374.47 266.76 L375.28 266.38 L376.10 265.99 L376.94 265.61 L377.80 265.24 L378.69 264.86 L379.60 264.50 L380.81 264.03 L382.09 263.55 L383.41 263.07 L384.77 262.59 L386.16 262.11 L387.59 261.64 L389.03 261.16 L390.48 260.70 L391.94 260.24 L393.40 259.78 L394.86 259.34 L396.30 258.91 L397.72 258.50 L399.11 258.10 L400.41 257.73 L401.72 257.38 L403.02 257.05 L404.31 256.72 L405.60 256.41 L406.89 256.10 L408.18 255.80 L409.47 255.50 L410.76 255.21 L412.04 254.91 L413.33 254.62 L414.62 254.32 L415.91 254.02 L417.20 253.71" fill="none" stroke="#f1230d" stroke-width="2.00" stroke-dasharray="5.45 1.2" stroke-linejoin="round"/>
<path d="M344.97 224.00 L364.77 224.00" fill="none" stroke="#63555a" stroke-width="1.90" stroke-linejoin="round"/>
<path d="M269.50 224.00 L344.97 224.00" fill="none" stroke="#169ee9" stroke-width="1.90" stroke-linejoin="round"/>
<rect x="268.10" y="222.50" width="150.50" height="150.70" fill="none" stroke="#9a9a9a" stroke-width="1.15"/>
<path d="M269.50 373.20 v-2.80 M269.50 222.50 v2.80 M268.10 371.80 h2.80 M418.60 371.80 h-2.80 M276.88 373.20 v-1.60 M276.88 222.50 v1.60 M268.10 364.41 h1.60 M418.60 364.41 h-1.60 M284.27 373.20 v-1.60 M284.27 222.50 v1.60 M268.10 357.02 h1.60 M418.60 357.02 h-1.60 M291.65 373.20 v-1.60 M291.65 222.50 v1.60 M268.10 349.63 h1.60 M418.60 349.63 h-1.60 M299.04 373.20 v-2.80 M299.04 222.50 v2.80 M268.10 342.24 h2.80 M418.60 342.24 h-2.80 M306.43 373.20 v-1.60 M306.43 222.50 v1.60 M268.10 334.85 h1.60 M418.60 334.85 h-1.60 M313.81 373.20 v-1.60 M313.81 222.50 v1.60 M268.10 327.46 h1.60 M418.60 327.46 h-1.60 M321.19 373.20 v-1.60 M321.19 222.50 v1.60 M268.10 320.07 h1.60 M418.60 320.07 h-1.60 M328.58 373.20 v-2.80 M328.58 222.50 v2.80 M268.10 312.68 h2.80 M418.60 312.68 h-2.80 M335.97 373.20 v-1.60 M335.97 222.50 v1.60 M268.10 305.29 h1.60 M418.60 305.29 h-1.60 M343.35 373.20 v-1.60 M343.35 222.50 v1.60 M268.10 297.90 h1.60 M418.60 297.90 h-1.60 M350.74 373.20 v-1.60 M350.74 222.50 v1.60 M268.10 290.51 h1.60 M418.60 290.51 h-1.60 M358.12 373.20 v-2.80 M358.12 222.50 v2.80 M268.10 283.12 h2.80 M418.60 283.12 h-2.80 M365.50 373.20 v-1.60 M365.50 222.50 v1.60 M268.10 275.73 h1.60 M418.60 275.73 h-1.60 M372.89 373.20 v-1.60 M372.89 222.50 v1.60 M268.10 268.34 h1.60 M418.60 268.34 h-1.60 M380.27 373.20 v-1.60 M380.27 222.50 v1.60 M268.10 260.95 h1.60 M418.60 260.95 h-1.60 M387.66 373.20 v-2.80 M387.66 222.50 v2.80 M268.10 253.56 h2.80 M418.60 253.56 h-2.80 M395.04 373.20 v-1.60 M395.04 222.50 v1.60 M268.10 246.17 h1.60 M418.60 246.17 h-1.60 M402.43 373.20 v-1.60 M402.43 222.50 v1.60 M268.10 238.78 h1.60 M418.60 238.78 h-1.60 M409.81 373.20 v-1.60 M409.81 222.50 v1.60 M268.10 231.39 h1.60 M418.60 231.39 h-1.60 M417.20 373.20 v-2.80 M417.20 222.50 v2.80 M268.10 224.00 h2.80 M418.60 224.00 h-2.80" stroke="#505050" stroke-width="0.75" fill="none"/>
</g>
<g>
<path d="M448.85 328.94 L449.72 328.45 L450.59 327.96 L451.46 327.48 L452.32 327.00 L453.19 326.52 L454.05 326.05 L454.92 325.57 L455.78 325.08 L456.66 324.59 L457.53 324.09 L458.41 323.59 L459.30 323.07 L460.20 322.54 L461.11 321.99 L462.15 321.36 L463.20 320.72 L464.26 320.07 L465.34 319.42 L466.42 318.75 L467.51 318.07 L468.61 317.38 L469.70 316.68 L470.79 315.96 L471.88 315.24 L472.97 314.50 L474.05 313.75 L475.12 312.98 L476.17 312.21 L477.27 311.37 L478.36 310.51 L479.44 309.62 L480.52 308.72 L481.59 307.80 L482.65 306.87 L483.72 305.93 L484.78 304.98 L485.85 304.03 L486.91 303.09 L487.98 302.15 L489.04 301.21 L490.12 300.30 L491.20 299.39 L492.27 298.50 L493.34 297.61 L494.40 296.71 L495.47 295.82 L496.54 294.92 L497.62 294.03 L498.69 293.14 L499.77 292.26 L500.84 291.40 L501.93 290.54 L503.01 289.70 L504.11 288.88 L505.20 288.08 L506.31 287.30 L507.36 286.58 L508.42 285.87 L509.49 285.17 L510.56 284.49 L511.63 283.82 L512.70 283.17 L513.78 282.52 L514.86 281.89 L515.95 281.27 L517.03 280.65 L518.12 280.05 L519.21 279.46 L520.31 278.88 L521.40 278.30 L522.46 277.76 L523.52 277.24 L524.57 276.73 L525.62 276.24 L526.68 275.75 L527.74 275.28 L528.80 274.82 L529.86 274.35 L530.94 273.89 L532.03 273.43 L533.12 272.96 L534.23 272.49 L535.36 272.00 L536.50 271.50 L537.81 270.92 L539.14 270.33 L540.49 269.72 L541.85 269.10 L543.24 268.48 L544.63 267.85 L546.03 267.22 L547.44 266.60 L548.86 265.99 L550.28 265.39 L551.70 264.80 L553.11 264.23 L554.53 263.69 L555.93 263.17 L557.30 262.68 L558.67 262.21 L560.03 261.75 L561.40 261.30 L562.77 260.87 L564.14 260.45 L565.51 260.04 L566.89 259.64 L568.27 259.25 L569.66 258.86 L571.05 258.49 L572.45 258.12 L573.86 257.76 L575.28 257.40 L576.76 257.04 L578.25 256.70 L579.76 256.37 L581.27 256.05 L582.79 255.75 L584.31 255.45 L585.84 255.15 L587.37 254.86 L588.90 254.58 L590.44 254.29 L591.97 254.00 L593.50 253.71 L595.03 253.42 L596.55 253.12 L596.55 372.60 L448.85 372.60 Z" fill="#1a7399" stroke="none"/>
<path d="M596.55 260.80 L595.85 261.10 L595.16 261.39 L594.46 261.67 L593.77 261.94 L593.07 262.21 L592.38 262.48 L591.68 262.76 L590.99 263.04 L590.29 263.34 L589.60 263.65 L588.90 263.97 L588.20 264.32 L587.50 264.69 L586.80 265.09 L585.98 265.58 L585.14 266.11 L584.28 266.66 L583.43 267.24 L582.56 267.83 L581.70 268.45 L580.84 269.09 L580.00 269.74 L579.16 270.40 L578.34 271.07 L577.53 271.75 L576.75 272.44 L576.00 273.12 L575.28 273.81 L574.64 274.45 L574.00 275.10 L573.37 275.76 L572.76 276.43 L572.16 277.11 L571.57 277.80 L571.00 278.50 L570.45 279.20 L569.92 279.90 L569.41 280.60 L568.92 281.31 L568.45 282.01 L568.01 282.72 L567.60 283.42 L567.27 284.02 L566.97 284.63 L566.70 285.24 L566.44 285.85 L566.21 286.46 L565.99 287.07 L565.78 287.69 L565.58 288.30 L565.38 288.92 L565.19 289.53 L564.99 290.15 L564.79 290.76 L564.58 291.38 L564.35 291.99 L564.35 291.99 L564.43 292.57 L564.49 293.15 L564.54 293.73 L564.59 294.31 L564.63 294.89 L564.68 295.47 L564.73 296.05 L564.78 296.63 L564.86 297.21 L564.94 297.79 L565.05 298.37 L565.18 298.95 L565.34 299.53 L565.53 300.12 L565.79 300.80 L566.08 301.50 L566.40 302.19 L566.74 302.90 L567.11 303.60 L567.51 304.30 L567.92 305.01 L568.36 305.70 L568.81 306.40 L569.28 307.08 L569.77 307.76 L570.26 308.43 L570.77 309.08 L571.29 309.72 L571.87 310.41 L572.46 311.09 L573.07 311.76 L573.70 312.43 L574.35 313.09 L575.02 313.74 L575.71 314.38 L576.41 315.01 L577.14 315.62 L577.88 316.22 L578.64 316.80 L579.42 317.37 L580.22 317.92 L581.04 318.44 L582.00 319.01 L583.01 319.54 L584.05 320.04 L585.13 320.52 L586.23 320.97 L587.36 321.40 L588.50 321.82 L589.65 322.23 L590.82 322.64 L591.98 323.04 L593.14 323.45 L594.29 323.86 L595.43 324.29 L596.55 324.73 Z" fill="#beaed3" stroke="none"/>
<path d="M596.55 260.80 L595.85 261.10 L595.16 261.39 L594.46 261.67 L593.77 261.94 L593.07 262.21 L592.38 262.48 L591.68 262.76 L590.99 263.04 L590.29 263.34 L589.60 263.65 L588.90 263.97 L588.20 264.32 L587.50 264.69 L586.80 265.09 L585.98 265.58 L585.14 266.11 L584.28 266.66 L583.43 267.24 L582.56 267.83 L581.70 268.45 L580.84 269.09 L580.00 269.74 L579.16 270.40 L578.34 271.07 L577.53 271.75 L576.75 272.44 L576.00 273.12 L575.28 273.81 L574.64 274.45 L574.00 275.10 L573.37 275.76 L572.76 276.43 L572.16 277.11 L571.57 277.80 L571.00 278.50 L570.45 279.20 L569.92 279.90 L569.41 280.60 L568.92 281.31 L568.45 282.01 L568.01 282.72 L567.60 283.42 L567.27 284.02 L566.97 284.63 L566.70 285.24 L566.44 285.85 L566.21 286.46 L565.99 287.07 L565.78 287.69 L565.58 288.30 L565.38 288.92 L565.19 289.53 L564.99 290.15 L564.79 290.76 L564.58 291.38 L564.35 291.99" fill="none" stroke="#169ee9" stroke-width="2.00" stroke-dasharray="5.45 1.2" stroke-linejoin="round"/>
<path d="M564.35 291.99 L564.43 292.57 L564.49 293.15 L564.54 293.73 L564.59 294.31 L564.63 294.89 L564.68 295.47 L564.73 296.05 L564.78 296.63 L564.86 297.21 L564.94 297.79 L565.05 298.37 L565.18 298.95 L565.34 299.53 L565.53 300.12 L565.79 300.80 L566.08 301.50 L566.40 302.19 L566.74 302.90 L567.11 303.60 L567.51 304.30 L567.92 305.01 L568.36 305.70 L568.81 306.40 L569.28 307.08 L569.77 307.76 L570.26 308.43 L570.77 309.08 L571.29 309.72 L571.87 310.41 L572.46 311.09 L573.07 311.76 L573.70 312.43 L574.35 313.09 L575.02 313.74 L575.71 314.38 L576.41 315.01 L577.14 315.62 L577.88 316.22 L578.64 316.80 L579.42 317.37 L580.22 317.92 L581.04 318.44 L582.00 319.01 L583.01 319.54 L584.05 320.04 L585.13 320.52 L586.23 320.97 L587.36 321.40 L588.50 321.82 L589.65 322.23 L590.82 322.64 L591.98 323.04 L593.14 323.45 L594.29 323.86 L595.43 324.29 L596.55 324.73" fill="none" stroke="#169ee9" stroke-width="2.00" stroke-linejoin="round"/>
<path d="M448.85 328.94 L449.72 328.45 L450.59 327.96 L451.46 327.48 L452.32 327.00 L453.19 326.52 L454.05 326.05 L454.92 325.57 L455.78 325.08 L456.66 324.59 L457.53 324.09 L458.41 323.59 L459.30 323.07 L460.20 322.54 L461.11 321.99 L462.15 321.36 L463.20 320.72 L464.26 320.07 L465.34 319.42 L466.42 318.75 L467.51 318.07 L468.61 317.38 L469.70 316.68 L470.79 315.96 L471.88 315.24 L472.97 314.50 L474.05 313.75 L475.12 312.98 L476.17 312.21 L477.27 311.37 L478.36 310.51 L479.44 309.62 L480.52 308.72 L481.59 307.80 L482.65 306.87 L483.72 305.93 L484.78 304.98 L485.85 304.03 L486.91 303.09 L487.98 302.15 L489.04 301.21 L490.12 300.30 L491.20 299.39 L492.27 298.50 L493.34 297.61 L494.40 296.71 L495.47 295.82 L496.54 294.92 L497.62 294.03 L498.69 293.14 L499.77 292.26 L500.84 291.40 L501.93 290.54 L503.01 289.70 L504.11 288.88 L505.20 288.08 L506.31 287.30 L507.36 286.58 L508.42 285.87 L509.49 285.17 L510.56 284.49 L511.63 283.82 L512.70 283.17 L513.78 282.52 L514.86 281.89 L515.95 281.27 L517.03 280.65 L518.12 280.05 L519.21 279.46 L520.31 278.88 L521.40 278.30 L522.46 277.76 L523.52 277.24 L524.57 276.73 L525.62 276.24 L526.68 275.75 L527.74 275.28 L528.80 274.82 L529.86 274.35 L530.94 273.89 L532.03 273.43 L533.12 272.96 L534.23 272.49 L535.36 272.00 L536.50 271.50 L537.81 270.92 L539.14 270.33 L540.49 269.72 L541.85 269.10 L543.24 268.48 L544.63 267.85 L546.03 267.22 L547.44 266.60 L548.86 265.99 L550.28 265.39 L551.70 264.80 L553.11 264.23 L554.53 263.69 L555.93 263.17 L557.30 262.68 L558.67 262.21 L560.03 261.75 L561.40 261.30 L562.77 260.87 L564.14 260.45 L565.51 260.04 L566.89 259.64 L568.27 259.25 L569.66 258.86 L571.05 258.49 L572.45 258.12 L573.86 257.76 L575.28 257.40 L576.76 257.04 L578.25 256.70 L579.76 256.37 L581.27 256.05 L582.79 255.75 L584.31 255.45 L585.84 255.15 L587.37 254.86 L588.90 254.58 L590.44 254.29 L591.97 254.00 L593.50 253.71 L595.03 253.42 L596.55 253.12" fill="none" stroke="#f1230d" stroke-width="2.00" stroke-dasharray="5.45 1.2" stroke-linejoin="round"/>
<path d="M565.24 224.00 L596.55 224.00" fill="none" stroke="#63555a" stroke-width="1.90" stroke-linejoin="round"/>
<path d="M448.85 224.00 L565.24 224.00" fill="none" stroke="#169ee9" stroke-width="1.90" stroke-linejoin="round"/>
<rect x="447.45" y="222.50" width="150.50" height="150.70" fill="none" stroke="#9a9a9a" stroke-width="1.15"/>
<path d="M448.85 373.20 v-2.80 M448.85 222.50 v2.80 M447.45 371.80 h2.80 M597.95 371.80 h-2.80 M456.24 373.20 v-1.60 M456.24 222.50 v1.60 M447.45 364.41 h1.60 M597.95 364.41 h-1.60 M463.62 373.20 v-1.60 M463.62 222.50 v1.60 M447.45 357.02 h1.60 M597.95 357.02 h-1.60 M471.00 373.20 v-1.60 M471.00 222.50 v1.60 M447.45 349.63 h1.60 M597.95 349.63 h-1.60 M478.39 373.20 v-2.80 M478.39 222.50 v2.80 M447.45 342.24 h2.80 M597.95 342.24 h-2.80 M485.78 373.20 v-1.60 M485.78 222.50 v1.60 M447.45 334.85 h1.60 M597.95 334.85 h-1.60 M493.16 373.20 v-1.60 M493.16 222.50 v1.60 M447.45 327.46 h1.60 M597.95 327.46 h-1.60 M500.55 373.20 v-1.60 M500.55 222.50 v1.60 M447.45 320.07 h1.60 M597.95 320.07 h-1.60 M507.93 373.20 v-2.80 M507.93 222.50 v2.80 M447.45 312.68 h2.80 M597.95 312.68 h-2.80 M515.32 373.20 v-1.60 M515.32 222.50 v1.60 M447.45 305.29 h1.60 M597.95 305.29 h-1.60 M522.70 373.20 v-1.60 M522.70 222.50 v1.60 M447.45 297.90 h1.60 M597.95 297.90 h-1.60 M530.09 373.20 v-1.60 M530.09 222.50 v1.60 M447.45 290.51 h1.60 M597.95 290.51 h-1.60 M537.47 373.20 v-2.80 M537.47 222.50 v2.80 M447.45 283.12 h2.80 M597.95 283.12 h-2.80 M544.86 373.20 v-1.60 M544.86 222.50 v1.60 M447.45 275.73 h1.60 M597.95 275.73 h-1.60 M552.24 373.20 v-1.60 M552.24 222.50 v1.60 M447.45 268.34 h1.60 M597.95 268.34 h-1.60 M559.62 373.20 v-1.60 M559.62 222.50 v1.60 M447.45 260.95 h1.60 M597.95 260.95 h-1.60 M567.01 373.20 v-2.80 M567.01 222.50 v2.80 M447.45 253.56 h2.80 M597.95 253.56 h-2.80 M574.39 373.20 v-1.60 M574.39 222.50 v1.60 M447.45 246.17 h1.60 M597.95 246.17 h-1.60 M581.78 373.20 v-1.60 M581.78 222.50 v1.60 M447.45 238.78 h1.60 M597.95 238.78 h-1.60 M589.16 373.20 v-1.60 M589.16 222.50 v1.60 M447.45 231.39 h1.60 M597.95 231.39 h-1.60 M596.55 373.20 v-2.80 M596.55 222.50 v2.80 M447.45 224.00 h2.80 M597.95 224.00 h-2.80" stroke="#505050" stroke-width="0.75" fill="none"/>
</g>
<g>
<path d="M628.20 251.56 L630.37 251.28 L632.53 251.00 L634.67 250.72 L636.81 250.43 L638.94 250.14 L641.08 249.86 L643.22 249.57 L645.37 249.29 L647.54 249.01 L649.72 248.73 L651.92 248.45 L654.15 248.18 L656.41 247.91 L658.70 247.65 L661.32 247.36 L663.98 247.07 L666.67 246.78 L669.40 246.50 L672.16 246.22 L674.93 245.94 L677.73 245.67 L680.53 245.40 L683.34 245.13 L686.16 244.87 L688.97 244.62 L691.77 244.37 L694.55 244.12 L697.32 243.88 L700.07 243.64 L702.81 243.41 L705.56 243.19 L708.30 242.96 L711.03 242.74 L713.77 242.53 L716.51 242.32 L719.25 242.12 L722.00 241.92 L724.75 241.72 L727.50 241.53 L730.26 241.35 L733.03 241.17 L735.80 241.00 L738.64 240.83 L741.48 240.67 L744.34 240.52 L747.19 240.37 L750.06 240.23 L752.93 240.10 L755.80 239.97 L758.67 239.85 L761.54 239.72 L764.42 239.59 L767.29 239.47 L770.16 239.34 L773.03 239.21 L775.90 239.08 L775.90 372.60 L628.20 372.60 Z" fill="#1a7399" stroke="none"/>
<path d="M775.90 248.68 L774.41 248.95 L772.92 249.22 L771.42 249.48 L769.92 249.75 L768.42 250.01 L766.92 250.27 L765.43 250.53 L763.93 250.79 L762.44 251.06 L760.96 251.34 L759.47 251.62 L758.00 251.91 L756.53 252.21 L755.07 252.53 L753.66 252.84 L752.25 253.15 L750.84 253.47 L749.43 253.79 L748.03 254.12 L746.62 254.46 L745.23 254.80 L743.84 255.15 L742.47 255.50 L741.10 255.87 L739.75 256.24 L738.42 256.62 L737.10 257.00 L735.80 257.40 L734.62 257.77 L733.45 258.15 L732.27 258.52 L731.10 258.91 L729.93 259.30 L728.78 259.70 L727.64 260.10 L726.52 260.52 L725.43 260.94 L724.35 261.36 L723.31 261.80 L722.29 262.25 L721.31 262.70 L720.36 263.17 L719.63 263.54 L718.90 263.92 L718.18 264.31 L717.46 264.69 L716.76 265.09 L716.08 265.48 L715.42 265.89 L714.78 266.30 L714.17 266.72 L713.59 267.14 L713.05 267.58 L712.54 268.02 L712.07 268.47 L711.65 268.93 L711.37 269.28 L711.12 269.65 L710.90 270.01 L710.70 270.39 L710.52 270.77 L710.36 271.15 L710.21 271.54 L710.07 271.93 L709.94 272.32 L709.81 272.71 L709.67 273.10 L709.53 273.48 L709.38 273.87 L709.21 274.25 L709.21 274.25 L709.32 274.63 L709.41 275.02 L709.50 275.40 L709.59 275.80 L709.67 276.19 L709.75 276.58 L709.84 276.97 L709.93 277.36 L710.03 277.74 L710.15 278.11 L710.27 278.48 L710.42 278.83 L710.58 279.17 L710.76 279.50 L710.96 279.81 L711.18 280.10 L711.40 280.38 L711.64 280.66 L711.89 280.92 L712.15 281.18 L712.42 281.43 L712.70 281.68 L713.00 281.93 L713.30 282.17 L713.61 282.40 L713.94 282.64 L714.27 282.88 L714.60 283.12 L715.05 283.42 L715.52 283.72 L716.00 284.02 L716.50 284.30 L717.02 284.58 L717.55 284.86 L718.10 285.14 L718.66 285.41 L719.23 285.68 L719.82 285.95 L720.42 286.22 L721.03 286.49 L721.65 286.76 L722.28 287.04 L723.12 287.39 L723.98 287.74 L724.86 288.10 L725.77 288.45 L726.70 288.80 L727.65 289.15 L728.62 289.50 L729.61 289.84 L730.61 290.19 L731.63 290.52 L732.66 290.86 L733.70 291.19 L734.74 291.52 L735.80 291.84 L737.06 292.21 L738.35 292.59 L739.67 292.96 L741.01 293.32 L742.38 293.68 L743.76 294.04 L745.15 294.39 L746.56 294.73 L747.97 295.07 L749.39 295.40 L750.82 295.72 L752.24 296.04 L753.66 296.35 L755.07 296.64 L756.53 296.94 L758.00 297.22 L759.47 297.49 L760.95 297.75 L762.44 297.99 L763.93 298.24 L765.43 298.47 L766.92 298.71 L768.42 298.94 L769.92 299.17 L771.42 299.40 L772.92 299.63 L774.41 299.87 L775.90 300.12 Z" fill="#beaed3" stroke="none"/>
<path d="M775.90 248.68 L774.41 248.95 L772.92 249.22 L771.42 249.48 L769.92 249.75 L768.42 250.01 L766.92 250.27 L765.43 250.53 L763.93 250.79 L762.44 251.06 L760.96 251.34 L759.47 251.62 L758.00 251.91 L756.53 252.21 L755.07 252.53 L753.66 252.84 L752.25 253.15 L750.84 253.47 L749.43 253.79 L748.03 254.12 L746.62 254.46 L745.23 254.80 L743.84 255.15 L742.47 255.50 L741.10 255.87 L739.75 256.24 L738.42 256.62 L737.10 257.00 L735.80 257.40 L734.62 257.77 L733.45 258.15 L732.27 258.52 L731.10 258.91 L729.93 259.30 L728.78 259.70 L727.64 260.10 L726.52 260.52 L725.43 260.94 L724.35 261.36 L723.31 261.80 L722.29 262.25 L721.31 262.70 L720.36 263.17 L719.63 263.54 L718.90 263.92 L718.18 264.31 L717.46 264.69 L716.76 265.09 L716.08 265.48 L715.42 265.89 L714.78 266.30 L714.17 266.72 L713.59 267.14 L713.05 267.58 L712.54 268.02 L712.07 268.47 L711.65 268.93 L711.37 269.28 L711.12 269.65 L710.90 270.01 L710.70 270.39 L710.52 270.77 L710.36 271.15 L710.21 271.54 L710.07 271.93 L709.94 272.32 L709.81 272.71 L709.67 273.10 L709.53 273.48 L709.38 273.87 L709.21 274.25" fill="none" stroke="#169ee9" stroke-width="2.00" stroke-dasharray="5.45 1.2" stroke-linejoin="round"/>
<path d="M709.21 274.25 L709.32 274.63 L709.41 275.02 L709.50 275.40 L709.59 275.80 L709.67 276.19 L709.75 276.58 L709.84 276.97 L709.93 277.36 L710.03 277.74 L710.15 278.11 L710.27 278.48 L710.42 278.83 L710.58 279.17 L710.76 279.50 L710.96 279.81 L711.18 280.10 L711.40 280.38 L711.64 280.66 L711.89 280.92 L712.15 281.18 L712.42 281.43 L712.70 281.68 L713.00 281.93 L713.30 282.17 L713.61 282.40 L713.94 282.64 L714.27 282.88 L714.60 283.12 L715.05 283.42 L715.52 283.72 L716.00 284.02 L716.50 284.30 L717.02 284.58 L717.55 284.86 L718.10 285.14 L718.66 285.41 L719.23 285.68 L719.82 285.95 L720.42 286.22 L721.03 286.49 L721.65 286.76 L722.28 287.04 L723.12 287.39 L723.98 287.74 L724.86 288.10 L725.77 288.45 L726.70 288.80 L727.65 289.15 L728.62 289.50 L729.61 289.84 L730.61 290.19 L731.63 290.52 L732.66 290.86 L733.70 291.19 L734.74 291.52 L735.80 291.84 L737.06 292.21 L738.35 292.59 L739.67 292.96 L741.01 293.32 L742.38 293.68 L743.76 294.04 L745.15 294.39 L746.56 294.73 L747.97 295.07 L749.39 295.40 L750.82 295.72 L752.24 296.04 L753.66 296.35 L755.07 296.64 L756.53 296.94 L758.00 297.22 L759.47 297.49 L760.95 297.75 L762.44 297.99 L763.93 298.24 L765.43 298.47 L766.92 298.71 L768.42 298.94 L769.92 299.17 L771.42 299.40 L772.92 299.63 L774.41 299.87 L775.90 300.12" fill="none" stroke="#169ee9" stroke-width="2.00" stroke-linejoin="round"/>
<path d="M628.20 251.56 L630.37 251.28 L632.53 251.00 L634.67 250.72 L636.81 250.43 L638.94 250.14 L641.08 249.86 L643.22 249.57 L645.37 249.29 L647.54 249.01 L649.72 248.73 L651.92 248.45 L654.15 248.18 L656.41 247.91 L658.70 247.65 L661.32 247.36 L663.98 247.07 L666.67 246.78 L669.40 246.50 L672.16 246.22 L674.93 245.94 L677.73 245.67 L680.53 245.40 L683.34 245.13 L686.16 244.87 L688.97 244.62 L691.77 244.37 L694.55 244.12 L697.32 243.88 L700.07 243.64 L702.81 243.41 L705.56 243.19 L708.30 242.96 L711.03 242.74 L713.77 242.53 L716.51 242.32 L719.25 242.12 L722.00 241.92 L724.75 241.72 L727.50 241.53 L730.26 241.35 L733.03 241.17 L735.80 241.00 L738.64 240.83 L741.48 240.67 L744.34 240.52 L747.19 240.37 L750.06 240.23 L752.93 240.10 L755.80 239.97 L758.67 239.85 L761.54 239.72 L764.42 239.59 L767.29 239.47 L770.16 239.34 L773.03 239.21 L775.90 239.08" fill="none" stroke="#f1230d" stroke-width="2.00" stroke-dasharray="5.45 1.2" stroke-linejoin="round"/>
<path d="M709.80 224.00 L775.90 224.00" fill="none" stroke="#63555a" stroke-width="1.90" stroke-linejoin="round"/>
<path d="M628.20 224.00 L709.80 224.00" fill="none" stroke="#169ee9" stroke-width="1.90" stroke-linejoin="round"/>
<rect x="626.80" y="222.50" width="150.50" height="150.70" fill="none" stroke="#9a9a9a" stroke-width="1.15"/>
<path d="M628.20 373.20 v-2.80 M628.20 222.50 v2.80 M626.80 371.80 h2.80 M777.30 371.80 h-2.80 M635.59 373.20 v-1.60 M635.59 222.50 v1.60 M626.80 364.41 h1.60 M777.30 364.41 h-1.60 M642.97 373.20 v-1.60 M642.97 222.50 v1.60 M626.80 357.02 h1.60 M777.30 357.02 h-1.60 M650.36 373.20 v-1.60 M650.36 222.50 v1.60 M626.80 349.63 h1.60 M777.30 349.63 h-1.60 M657.74 373.20 v-2.80 M657.74 222.50 v2.80 M626.80 342.24 h2.80 M777.30 342.24 h-2.80 M665.12 373.20 v-1.60 M665.12 222.50 v1.60 M626.80 334.85 h1.60 M777.30 334.85 h-1.60 M672.51 373.20 v-1.60 M672.51 222.50 v1.60 M626.80 327.46 h1.60 M777.30 327.46 h-1.60 M679.89 373.20 v-1.60 M679.89 222.50 v1.60 M626.80 320.07 h1.60 M777.30 320.07 h-1.60 M687.28 373.20 v-2.80 M687.28 222.50 v2.80 M626.80 312.68 h2.80 M777.30 312.68 h-2.80 M694.67 373.20 v-1.60 M694.67 222.50 v1.60 M626.80 305.29 h1.60 M777.30 305.29 h-1.60 M702.05 373.20 v-1.60 M702.05 222.50 v1.60 M626.80 297.90 h1.60 M777.30 297.90 h-1.60 M709.44 373.20 v-1.60 M709.44 222.50 v1.60 M626.80 290.51 h1.60 M777.30 290.51 h-1.60 M716.82 373.20 v-2.80 M716.82 222.50 v2.80 M626.80 283.12 h2.80 M777.30 283.12 h-2.80 M724.21 373.20 v-1.60 M724.21 222.50 v1.60 M626.80 275.73 h1.60 M777.30 275.73 h-1.60 M731.59 373.20 v-1.60 M731.59 222.50 v1.60 M626.80 268.34 h1.60 M777.30 268.34 h-1.60 M738.98 373.20 v-1.60 M738.98 222.50 v1.60 M626.80 260.95 h1.60 M777.30 260.95 h-1.60 M746.36 373.20 v-2.80 M746.36 222.50 v2.80 M626.80 253.56 h2.80 M777.30 253.56 h-2.80 M753.75 373.20 v-1.60 M753.75 222.50 v1.60 M626.80 246.17 h1.60 M777.30 246.17 h-1.60 M761.13 373.20 v-1.60 M761.13 222.50 v1.60 M626.80 238.78 h1.60 M777.30 238.78 h-1.60 M768.51 373.20 v-1.60 M768.51 222.50 v1.60 M626.80 231.39 h1.60 M777.30 231.39 h-1.60 M775.90 373.20 v-2.80 M775.90 222.50 v2.80 M626.80 224.00 h2.80 M777.30 224.00 h-2.80" stroke="#505050" stroke-width="0.75" fill="none"/>
</g>
<g class="tx">
<text class="tk" x="90.15" y="187.60" text-anchor="middle" textLength="16.4" lengthAdjust="spacingAndGlyphs">0.0</text>
<text class="tk" x="86.45" y="176.10" text-anchor="end" textLength="16.4" lengthAdjust="spacingAndGlyphs">0.0</text>
<text class="tk" x="119.69" y="187.60" text-anchor="middle" textLength="16.4" lengthAdjust="spacingAndGlyphs">0.2</text>
<text class="tk" x="86.45" y="146.54" text-anchor="end" textLength="16.4" lengthAdjust="spacingAndGlyphs">0.2</text>
<text class="tk" x="149.23" y="187.60" text-anchor="middle" textLength="16.4" lengthAdjust="spacingAndGlyphs">0.4</text>
<text class="tk" x="86.45" y="116.98" text-anchor="end" textLength="16.4" lengthAdjust="spacingAndGlyphs">0.4</text>
<text class="tk" x="178.77" y="187.60" text-anchor="middle" textLength="16.4" lengthAdjust="spacingAndGlyphs">0.6</text>
<text class="tk" x="86.45" y="87.42" text-anchor="end" textLength="16.4" lengthAdjust="spacingAndGlyphs">0.6</text>
<text class="tk" x="208.31" y="187.60" text-anchor="middle" textLength="16.4" lengthAdjust="spacingAndGlyphs">0.8</text>
<text class="tk" x="86.45" y="57.86" text-anchor="end" textLength="16.4" lengthAdjust="spacingAndGlyphs">0.8</text>
<text class="tk" x="237.85" y="187.60" text-anchor="middle" textLength="16.4" lengthAdjust="spacingAndGlyphs">1.0</text>
<text class="tk" x="86.45" y="28.30" text-anchor="end" textLength="16.4" lengthAdjust="spacingAndGlyphs">1.0</text>
<text class="se" x="92.10" y="41.60" font-size="16.6">(<tspan class="it" dx="0.3">a</tspan><tspan dx="0.4">)</tspan></text>
<text class="se it" x="116.20" y="41.60" font-size="16.4">T</text>
<text class="se" x="126.50" y="41.60" font-size="16.8" textLength="32.2" lengthAdjust="spacingAndGlyphs">=0.2</text>
<text class="se it" x="150.30" y="126.10" font-size="17">x</text>
<text class="se" x="158.50" y="126.10" font-size="17">&lt;0</text>
<circle cx="153.60" cy="116.40" r="0.95" fill="#111"/>
<text class="se it" x="155.50" y="210.90" font-size="17.8">c</text>
<text class="se it" x="163.00" y="213.00" font-size="12.6">H</text>
<text class="tk" x="269.50" y="187.60" text-anchor="middle" textLength="16.4" lengthAdjust="spacingAndGlyphs">0.0</text>
<text class="tk" x="265.80" y="176.10" text-anchor="end" textLength="16.4" lengthAdjust="spacingAndGlyphs">0.0</text>
<text class="tk" x="299.04" y="187.60" text-anchor="middle" textLength="16.4" lengthAdjust="spacingAndGlyphs">0.2</text>
<text class="tk" x="265.80" y="146.54" text-anchor="end" textLength="16.4" lengthAdjust="spacingAndGlyphs">0.2</text>
<text class="tk" x="328.58" y="187.60" text-anchor="middle" textLength="16.4" lengthAdjust="spacingAndGlyphs">0.4</text>
<text class="tk" x="265.80" y="116.98" text-anchor="end" textLength="16.4" lengthAdjust="spacingAndGlyphs">0.4</text>
<text class="tk" x="358.12" y="187.60" text-anchor="middle" textLength="16.4" lengthAdjust="spacingAndGlyphs">0.6</text>
<text class="tk" x="265.80" y="87.42" text-anchor="end" textLength="16.4" lengthAdjust="spacingAndGlyphs">0.6</text>
<text class="tk" x="387.66" y="187.60" text-anchor="middle" textLength="16.4" lengthAdjust="spacingAndGlyphs">0.8</text>
<text class="tk" x="265.80" y="57.86" text-anchor="end" textLength="16.4" lengthAdjust="spacingAndGlyphs">0.8</text>
<text class="tk" x="417.20" y="187.60" text-anchor="middle" textLength="16.4" lengthAdjust="spacingAndGlyphs">1.0</text>
<text class="tk" x="265.80" y="28.30" text-anchor="end" textLength="16.4" lengthAdjust="spacingAndGlyphs">1.0</text>
<text class="se" x="274.80" y="41.60" font-size="16.6">(<tspan class="it" dx="0.3">b</tspan><tspan dx="0.4">)</tspan></text>
<text class="se it" x="298.70" y="41.60" font-size="16.4">T</text>
<text class="se" x="309.00" y="41.60" font-size="16.8" textLength="32.2" lengthAdjust="spacingAndGlyphs">=0.4</text>
<text class="se it" x="354.80" y="103.70" font-size="17">x</text>
<text class="se" x="363.00" y="103.70" font-size="17">&lt;0</text>
<circle cx="358.10" cy="94.00" r="0.95" fill="#111"/>
<text class="se it" x="334.85" y="210.90" font-size="17.8">c</text>
<text class="se it" x="342.35" y="213.00" font-size="12.6">H</text>
<text class="tk" x="448.85" y="187.60" text-anchor="middle" textLength="16.4" lengthAdjust="spacingAndGlyphs">0.0</text>
<text class="tk" x="445.15" y="176.10" text-anchor="end" textLength="16.4" lengthAdjust="spacingAndGlyphs">0.0</text>
<text class="tk" x="478.39" y="187.60" text-anchor="middle" textLength="16.4" lengthAdjust="spacingAndGlyphs">0.2</text>
<text class="tk" x="445.15" y="146.54" text-anchor="end" textLength="16.4" lengthAdjust="spacingAndGlyphs">0.2</text>
<text class="tk" x="507.93" y="187.60" text-anchor="middle" textLength="16.4" lengthAdjust="spacingAndGlyphs">0.4</text>
<text class="tk" x="445.15" y="116.98" text-anchor="end" textLength="16.4" lengthAdjust="spacingAndGlyphs">0.4</text>
<text class="tk" x="537.47" y="187.60" text-anchor="middle" textLength="16.4" lengthAdjust="spacingAndGlyphs">0.6</text>
<text class="tk" x="445.15" y="87.42" text-anchor="end" textLength="16.4" lengthAdjust="spacingAndGlyphs">0.6</text>
<text class="tk" x="567.01" y="187.60" text-anchor="middle" textLength="16.4" lengthAdjust="spacingAndGlyphs">0.8</text>
<text class="tk" x="445.15" y="57.86" text-anchor="end" textLength="16.4" lengthAdjust="spacingAndGlyphs">0.8</text>
<text class="tk" x="596.55" y="187.60" text-anchor="middle" textLength="16.4" lengthAdjust="spacingAndGlyphs">1.0</text>
<text class="tk" x="445.15" y="28.30" text-anchor="end" textLength="16.4" lengthAdjust="spacingAndGlyphs">1.0</text>
<text class="se" x="453.00" y="41.60" font-size="16.6">(<tspan class="it" dx="0.3">c</tspan><tspan dx="0.4">)</tspan></text>
<text class="se it" x="475.70" y="41.60" font-size="16.4">T</text>
<text class="se" x="486.00" y="41.60" font-size="16.8" textLength="32.2" lengthAdjust="spacingAndGlyphs">=0.6</text>
<text class="se it" x="455.70" y="132.60" font-size="17">x</text>
<text class="se" x="463.90" y="132.60" font-size="17">&lt;0</text>
<circle cx="459.00" cy="122.90" r="0.95" fill="#111"/>
<text class="se it" x="514.20" y="210.90" font-size="17.8">c</text>
<text class="se it" x="521.70" y="213.00" font-size="12.6">H</text>
<text class="tk" x="628.20" y="187.60" text-anchor="middle" textLength="16.4" lengthAdjust="spacingAndGlyphs">0.0</text>
<text class="tk" x="624.50" y="176.10" text-anchor="end" textLength="16.4" lengthAdjust="spacingAndGlyphs">0.0</text>
<text class="tk" x="657.74" y="187.60" text-anchor="middle" textLength="16.4" lengthAdjust="spacingAndGlyphs">0.2</text>
<text class="tk" x="624.50" y="146.54" text-anchor="end" textLength="16.4" lengthAdjust="spacingAndGlyphs">0.2</text>
<text class="tk" x="687.28" y="187.60" text-anchor="middle" textLength="16.4" lengthAdjust="spacingAndGlyphs">0.4</text>
<text class="tk" x="624.50" y="116.98" text-anchor="end" textLength="16.4" lengthAdjust="spacingAndGlyphs">0.4</text>
<text class="tk" x="716.82" y="187.60" text-anchor="middle" textLength="16.4" lengthAdjust="spacingAndGlyphs">0.6</text>
<text class="tk" x="624.50" y="87.42" text-anchor="end" textLength="16.4" lengthAdjust="spacingAndGlyphs">0.6</text>
<text class="tk" x="746.36" y="187.60" text-anchor="middle" textLength="16.4" lengthAdjust="spacingAndGlyphs">0.8</text>
<text class="tk" x="624.50" y="57.86" text-anchor="end" textLength="16.4" lengthAdjust="spacingAndGlyphs">0.8</text>
<text class="tk" x="775.90" y="187.60" text-anchor="middle" textLength="16.4" lengthAdjust="spacingAndGlyphs">1.0</text>
<text class="tk" x="624.50" y="28.30" text-anchor="end" textLength="16.4" lengthAdjust="spacingAndGlyphs">1.0</text>
<text class="se" x="705.20" y="41.60" font-size="16.6">(<tspan class="it" dx="0.3">d</tspan><tspan dx="0.4">)</tspan></text>
<text class="se it" x="730.20" y="41.60" font-size="16.4">T</text>
<text class="se" x="740.50" y="41.60" font-size="16.8" textLength="32.2" lengthAdjust="spacingAndGlyphs">=0.8</text>
<text class="se it" x="645.00" y="88.40" font-size="17">x</text>
<text class="se" x="653.20" y="88.40" font-size="17">&lt;0</text>
<circle cx="648.30" cy="78.70" r="0.95" fill="#111"/>
<text class="se it" x="693.55" y="210.90" font-size="17.8">c</text>
<text class="se it" x="701.05" y="213.00" font-size="12.6">H</text>
<text class="tk" x="90.15" y="387.40" text-anchor="middle" textLength="16.4" lengthAdjust="spacingAndGlyphs">0.0</text>
<text class="tk" x="86.45" y="375.90" text-anchor="end" textLength="16.4" lengthAdjust="spacingAndGlyphs">0.0</text>
<text class="tk" x="119.69" y="387.40" text-anchor="middle" textLength="16.4" lengthAdjust="spacingAndGlyphs">0.2</text>
<text class="tk" x="86.45" y="346.34" text-anchor="end" textLength="16.4" lengthAdjust="spacingAndGlyphs">0.2</text>
<text class="tk" x="149.23" y="387.40" text-anchor="middle" textLength="16.4" lengthAdjust="spacingAndGlyphs">0.4</text>
<text class="tk" x="86.45" y="316.78" text-anchor="end" textLength="16.4" lengthAdjust="spacingAndGlyphs">0.4</text>
<text class="tk" x="178.77" y="387.40" text-anchor="middle" textLength="16.4" lengthAdjust="spacingAndGlyphs">0.6</text>
<text class="tk" x="86.45" y="287.22" text-anchor="end" textLength="16.4" lengthAdjust="spacingAndGlyphs">0.6</text>
<text class="tk" x="208.31" y="387.40" text-anchor="middle" textLength="16.4" lengthAdjust="spacingAndGlyphs">0.8</text>
<text class="tk" x="86.45" y="257.66" text-anchor="end" textLength="16.4" lengthAdjust="spacingAndGlyphs">0.8</text>
<text class="tk" x="237.85" y="387.40" text-anchor="middle" textLength="16.4" lengthAdjust="spacingAndGlyphs">1.0</text>
<text class="tk" x="86.45" y="228.10" text-anchor="end" textLength="16.4" lengthAdjust="spacingAndGlyphs">1.0</text>
<text class="se" x="94.20" y="241.10" font-size="16.6">(<tspan class="it" dx="0.3">e</tspan><tspan dx="0.4">)</tspan></text>
<text class="se it" x="117.00" y="241.10" font-size="16.4">T</text>
<text class="se" x="127.30" y="241.10" font-size="16.8" textLength="32.2" lengthAdjust="spacingAndGlyphs">=0.2</text>
<text class="se it" x="170.00" y="317.50" font-size="17">x</text>
<text class="se" x="178.20" y="317.50" font-size="17">&lt;0</text>
<circle cx="173.30" cy="307.80" r="0.95" fill="#111"/>
<text class="se it" x="155.50" y="410.70" font-size="17.8">c</text>
<text class="se it" x="163.00" y="412.80" font-size="12.6">D</text>
<text class="tk" x="269.50" y="387.40" text-anchor="middle" textLength="16.4" lengthAdjust="spacingAndGlyphs">0.0</text>
<text class="tk" x="265.80" y="375.90" text-anchor="end" textLength="16.4" lengthAdjust="spacingAndGlyphs">0.0</text>
<text class="tk" x="299.04" y="387.40" text-anchor="middle" textLength="16.4" lengthAdjust="spacingAndGlyphs">0.2</text>
<text class="tk" x="265.80" y="346.34" text-anchor="end" textLength="16.4" lengthAdjust="spacingAndGlyphs">0.2</text>
<text class="tk" x="328.58" y="387.40" text-anchor="middle" textLength="16.4" lengthAdjust="spacingAndGlyphs">0.4</text>
<text class="tk" x="265.80" y="316.78" text-anchor="end" textLength="16.4" lengthAdjust="spacingAndGlyphs">0.4</text>
<text class="tk" x="358.12" y="387.40" text-anchor="middle" textLength="16.4" lengthAdjust="spacingAndGlyphs">0.6</text>
<text class="tk" x="265.80" y="287.22" text-anchor="end" textLength="16.4" lengthAdjust="spacingAndGlyphs">0.6</text>
<text class="tk" x="387.66" y="387.40" text-anchor="middle" textLength="16.4" lengthAdjust="spacingAndGlyphs">0.8</text>
<text class="tk" x="265.80" y="257.66" text-anchor="end" textLength="16.4" lengthAdjust="spacingAndGlyphs">0.8</text>
<text class="tk" x="417.20" y="387.40" text-anchor="middle" textLength="16.4" lengthAdjust="spacingAndGlyphs">1.0</text>
<text class="tk" x="265.80" y="228.10" text-anchor="end" textLength="16.4" lengthAdjust="spacingAndGlyphs">1.0</text>
<text class="se" x="272.00" y="241.10" font-size="16.6">(<tspan class="it" dx="0.9">f</tspan><tspan dx="4.4">)</tspan></text>
<text class="se it" x="298.20" y="241.10" font-size="16.4">T</text>
<text class="se" x="308.50" y="241.10" font-size="16.8" textLength="32.2" lengthAdjust="spacingAndGlyphs">=0.4</text>
<text class="se it" x="380.70" y="308.50" font-size="17">x</text>
<text class="se" x="388.90" y="308.50" font-size="17">&lt;0</text>
<circle cx="384.00" cy="298.80" r="0.95" fill="#111"/>
<text class="se it" x="334.85" y="410.70" font-size="17.8">c</text>
<text class="se it" x="342.35" y="412.80" font-size="12.6">D</text>
<text class="tk" x="448.85" y="387.40" text-anchor="middle" textLength="16.4" lengthAdjust="spacingAndGlyphs">0.0</text>
<text class="tk" x="445.15" y="375.90" text-anchor="end" textLength="16.4" lengthAdjust="spacingAndGlyphs">0.0</text>
<text class="tk" x="478.39" y="387.40" text-anchor="middle" textLength="16.4" lengthAdjust="spacingAndGlyphs">0.2</text>
<text class="tk" x="445.15" y="346.34" text-anchor="end" textLength="16.4" lengthAdjust="spacingAndGlyphs">0.2</text>
<text class="tk" x="507.93" y="387.40" text-anchor="middle" textLength="16.4" lengthAdjust="spacingAndGlyphs">0.4</text>
<text class="tk" x="445.15" y="316.78" text-anchor="end" textLength="16.4" lengthAdjust="spacingAndGlyphs">0.4</text>
<text class="tk" x="537.47" y="387.40" text-anchor="middle" textLength="16.4" lengthAdjust="spacingAndGlyphs">0.6</text>
<text class="tk" x="445.15" y="287.22" text-anchor="end" textLength="16.4" lengthAdjust="spacingAndGlyphs">0.6</text>
<text class="tk" x="567.01" y="387.40" text-anchor="middle" textLength="16.4" lengthAdjust="spacingAndGlyphs">0.8</text>
<text class="tk" x="445.15" y="257.66" text-anchor="end" textLength="16.4" lengthAdjust="spacingAndGlyphs">0.8</text>
<text class="tk" x="596.55" y="387.40" text-anchor="middle" textLength="16.4" lengthAdjust="spacingAndGlyphs">1.0</text>
<text class="tk" x="445.15" y="228.10" text-anchor="end" textLength="16.4" lengthAdjust="spacingAndGlyphs">1.0</text>
<text class="se" x="452.00" y="241.10" font-size="16.6">(<tspan class="it" dx="0.3">g</tspan><tspan dx="0.4">)</tspan></text>
<text class="se it" x="476.70" y="241.10" font-size="16.4">T</text>
<text class="se" x="487.00" y="241.10" font-size="16.8" textLength="32.2" lengthAdjust="spacingAndGlyphs">=0.6</text>
<text class="se it" x="569.00" y="301.00" font-size="17">x</text>
<text class="se" x="577.20" y="301.00" font-size="17">&lt;0</text>
<circle cx="572.30" cy="291.30" r="0.95" fill="#111"/>
<text class="se it" x="514.20" y="410.70" font-size="17.8">c</text>
<text class="se it" x="521.70" y="412.80" font-size="12.6">D</text>
<text class="tk" x="628.20" y="387.40" text-anchor="middle" textLength="16.4" lengthAdjust="spacingAndGlyphs">0.0</text>
<text class="tk" x="624.50" y="375.90" text-anchor="end" textLength="16.4" lengthAdjust="spacingAndGlyphs">0.0</text>
<text class="tk" x="657.74" y="387.40" text-anchor="middle" textLength="16.4" lengthAdjust="spacingAndGlyphs">0.2</text>
<text class="tk" x="624.50" y="346.34" text-anchor="end" textLength="16.4" lengthAdjust="spacingAndGlyphs">0.2</text>
<text class="tk" x="687.28" y="387.40" text-anchor="middle" textLength="16.4" lengthAdjust="spacingAndGlyphs">0.4</text>
<text class="tk" x="624.50" y="316.78" text-anchor="end" textLength="16.4" lengthAdjust="spacingAndGlyphs">0.4</text>
<text class="tk" x="716.82" y="387.40" text-anchor="middle" textLength="16.4" lengthAdjust="spacingAndGlyphs">0.6</text>
<text class="tk" x="624.50" y="287.22" text-anchor="end" textLength="16.4" lengthAdjust="spacingAndGlyphs">0.6</text>
<text class="tk" x="746.36" y="387.40" text-anchor="middle" textLength="16.4" lengthAdjust="spacingAndGlyphs">0.8</text>
<text class="tk" x="624.50" y="257.66" text-anchor="end" textLength="16.4" lengthAdjust="spacingAndGlyphs">0.8</text>
<text class="tk" x="775.90" y="387.40" text-anchor="middle" textLength="16.4" lengthAdjust="spacingAndGlyphs">1.0</text>
<text class="tk" x="624.50" y="228.10" text-anchor="end" textLength="16.4" lengthAdjust="spacingAndGlyphs">1.0</text>
<text class="se" x="631.80" y="241.10" font-size="16.6">(<tspan class="it" dx="0.3">h</tspan><tspan dx="0.4">)</tspan></text>
<text class="se it" x="655.70" y="241.10" font-size="16.4">T</text>
<text class="se" x="666.00" y="241.10" font-size="16.8" textLength="32.2" lengthAdjust="spacingAndGlyphs">=0.8</text>
<text class="se it" x="722.00" y="280.10" font-size="17">x</text>
<text class="se" x="730.20" y="280.10" font-size="17">&lt;0</text>
<circle cx="725.30" cy="270.40" r="0.95" fill="#111"/>
<text class="se it" x="693.55" y="410.70" font-size="17.8">c</text>
<text class="se it" x="701.05" y="412.80" font-size="12.6">D</text>
<g transform="translate(61.6 102.10) rotate(-90)"><text class="se it" transform="translate(0.6 -0.8) scale(1.18 1)" x="0" y="0" font-size="24.5">x</text><text class="se" x="13.2" y="-1.5" font-size="19">*</text></g>
<g transform="translate(61.6 301.90) rotate(-90)"><text class="se it" transform="translate(-3.3 -0.8) scale(1.18 1)" x="0" y="0" font-size="24.5">x</text><text class="se" x="9.7" y="-3.7" font-size="19">*</text></g>
</g>
</svg>
</body></html>
